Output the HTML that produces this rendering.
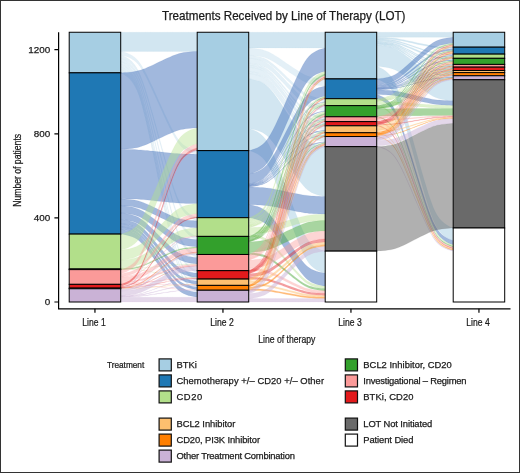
<!DOCTYPE html>
<html><head><meta charset="utf-8"><style>
html,body{margin:0;padding:0;background:#fff;}
svg{display:block;will-change:transform;}
text{font-family:"Liberation Sans",sans-serif;fill:#1a1a1a;stroke:#1a1a1a;stroke-width:0.25px;}
</style></head><body>
<svg width="520" height="473" viewBox="0 0 520 473">
<rect x="0" y="0" width="520" height="473" fill="#fff"/>
<path d="M120.7,32.2 120.8,32.2 121.3,32.2 122.6,32.2 124.6,32.2 127,32.2 129.6,32.2 132.1,32.2 134.5,32.2 136.7,32.2 138.8,32.2 140.9,32.2 143,32.2 145.3,32.2 147.7,32.2 150.3,32.2 153.1,32.2 156,32.2 158.9,32.2 161.9,32.2 164.8,32.2 167.6,32.2 170.2,32.2 172.6,32.2 174.9,32.2 177,32.2 179.1,32.2 181.2,32.2 183.4,32.2 185.8,32.2 188.3,32.2 190.9,32.2 193.3,32.2 195.3,32.2 196.6,32.2 197.1,32.2 197.2,32.2 197.2,51.4 197.1,51.4 196.6,51.4 195.3,51.4 193.3,51.4 190.9,51.4 188.3,51.4 185.8,51.4 183.4,51.4 181.2,51.4 179.1,51.4 177,51.4 174.9,51.4 172.6,51.4 170.2,51.4 167.6,51.4 164.8,51.4 161.9,51.4 158.9,51.4 156,51.4 153.1,51.4 150.3,51.4 147.7,51.4 145.3,51.4 143,51.4 140.9,51.4 138.8,51.4 136.7,51.4 134.5,51.4 132.1,51.4 129.6,51.4 127,51.4 124.6,51.4 122.6,51.4 121.3,51.4 120.8,51.4 120.7,51.4Z" fill="#a6cee3" fill-opacity="0.50" stroke="#a6cee3" stroke-opacity="0.25" stroke-width="0.40"/>
<path d="M120.7,51.4 120.8,51.4 121.3,51.5 122.6,51.8 124.6,52.3 127,53.1 129.6,54.2 132.1,55.6 134.5,57.2 136.7,59.2 138.8,61.6 140.9,64.4 143,67.9 145.3,72 147.7,76.8 150.3,82.2 153.1,88.1 156,94.4 158.9,101 161.9,107.6 164.8,113.9 167.6,119.8 170.2,125.2 172.6,130 174.9,134.1 177,137.6 179.1,140.4 181.2,142.8 183.4,144.8 185.8,146.4 188.3,147.8 190.9,148.9 193.3,149.7 195.3,150.2 196.6,150.5 197.1,150.6 197.2,150.6 197.2,154.2 197.1,154.2 196.6,154.1 195.3,153.8 193.3,153.2 190.9,152.4 188.3,151.3 185.8,150 183.4,148.4 181.2,146.4 179.1,144 177,141.1 174.9,137.7 172.6,133.6 170.2,128.8 167.6,123.4 164.8,117.5 161.9,111.1 158.9,104.6 156,98 153.1,91.7 150.3,85.7 147.7,80.3 145.3,75.6 143,71.5 140.9,68 138.8,65.1 136.7,62.8 134.5,60.8 132.1,59.2 129.6,57.8 127,56.7 124.6,55.9 122.6,55.4 121.3,55.1 120.8,55 120.7,55Z" fill="#a6cee3" fill-opacity="0.30" stroke="#a6cee3" stroke-opacity="0.15" stroke-width="0.40"/>
<path d="M120.7,55 120.8,55 121.3,55.2 122.6,55.6 124.6,56.5 127,57.8 129.6,59.6 132.1,61.8 134.5,64.5 136.7,67.8 138.8,71.6 140.9,76.4 143,82.1 145.3,88.8 147.7,96.6 150.3,105.4 153.1,115.1 156,125.6 158.9,136.3 161.9,147.1 164.8,157.5 167.6,167.2 170.2,176 172.6,183.8 174.9,190.6 177,196.3 179.1,201 181.2,204.9 183.4,208.1 185.8,210.8 188.3,213 190.9,214.8 193.3,216.1 195.3,217 196.6,217.5 197.1,217.7 197.2,217.7 197.2,220.8 197.1,220.8 196.6,220.6 195.3,220.2 193.3,219.3 190.9,218 188.3,216.2 185.8,214 183.4,211.3 181.2,208 179.1,204.2 177,199.4 174.9,193.7 172.6,187 170.2,179.2 167.6,170.4 164.8,160.7 161.9,150.2 158.9,139.5 156,128.7 153.1,118.3 150.3,108.6 147.7,99.8 145.3,92 143,85.2 140.9,79.5 138.8,74.8 136.7,70.9 134.5,67.7 132.1,65 129.6,62.8 127,61 124.6,59.7 122.6,58.8 121.3,58.3 120.8,58.1 120.7,58.1Z" fill="#a6cee3" fill-opacity="0.30" stroke="#a6cee3" stroke-opacity="0.15" stroke-width="0.40"/>
<path d="M120.7,58.1 120.8,58.1 121.3,58.3 122.6,58.8 124.6,59.8 127,61.3 129.6,63.2 132.1,65.7 134.5,68.6 136.7,72.1 138.8,76.4 140.9,81.6 143,87.8 145.3,95.2 147.7,103.7 150.3,113.4 153.1,124.1 156,135.5 158.9,147.3 161.9,159.1 164.8,170.5 167.6,181.1 170.2,190.8 172.6,199.3 174.9,206.7 177,212.9 179.1,218.1 181.2,222.4 183.4,225.9 185.8,228.9 188.3,231.3 190.9,233.2 193.3,234.7 195.3,235.7 196.6,236.2 197.1,236.4 197.2,236.4 197.2,239.6 197.1,239.5 196.6,239.3 195.3,238.8 193.3,237.9 190.9,236.4 188.3,234.4 185.8,232 183.4,229.1 181.2,225.5 179.1,221.3 177,216.1 174.9,209.8 172.6,202.5 170.2,193.9 167.6,184.3 164.8,173.6 161.9,162.2 158.9,150.4 156,138.6 153.1,127.2 150.3,116.5 147.7,106.9 145.3,98.4 143,91 140.9,84.7 138.8,79.5 136.7,75.3 134.5,71.8 132.1,68.8 129.6,66.4 127,64.4 124.6,63 122.6,62 121.3,61.5 120.8,61.3 120.7,61.3Z" fill="#a6cee3" fill-opacity="0.30" stroke="#a6cee3" stroke-opacity="0.15" stroke-width="0.40"/>
<path d="M120.7,61.3 120.8,61.3 121.3,61.5 122.6,62.1 124.6,63.1 127,64.7 129.6,66.8 132.1,69.4 134.5,72.6 136.7,76.5 138.8,81.1 140.9,86.7 143,93.5 145.3,101.5 147.7,110.7 150.3,121.2 153.1,132.7 156,145.1 158.9,157.9 161.9,170.7 164.8,183 167.6,194.6 170.2,205 172.6,214.3 174.9,222.3 177,229.1 179.1,234.7 181.2,239.3 183.4,243.1 185.8,246.3 188.3,248.9 190.9,251.1 193.3,252.6 195.3,253.7 196.6,254.2 197.1,254.5 197.2,254.5 197.2,257.6 197.1,257.6 196.6,257.4 195.3,256.8 193.3,255.8 190.9,254.2 188.3,252.1 185.8,249.5 183.4,246.3 181.2,242.4 179.1,237.8 177,232.2 174.9,225.4 172.6,217.4 170.2,208.2 167.6,197.7 164.8,186.2 161.9,173.8 158.9,161 156,148.2 153.1,135.9 150.3,124.3 147.7,113.9 145.3,104.6 143,96.6 140.9,89.8 138.8,84.2 136.7,79.6 134.5,75.8 132.1,72.6 129.6,70 127,67.9 124.6,66.3 122.6,65.2 121.3,64.7 120.8,64.4 120.7,64.4Z" fill="#a6cee3" fill-opacity="0.30" stroke="#a6cee3" stroke-opacity="0.15" stroke-width="0.40"/>
<path d="M120.7,64.4 120.8,64.4 121.3,64.7 122.6,65.3 124.6,66.4 127,68.1 129.6,70.3 132.1,73.2 134.5,76.6 136.7,80.6 138.8,85.6 140.9,91.6 143,98.8 145.3,107.3 147.7,117.2 150.3,128.4 153.1,140.7 156,153.9 158.9,167.5 161.9,181.2 164.8,194.4 167.6,206.7 170.2,217.9 172.6,227.8 174.9,236.3 177,243.5 179.1,249.5 181.2,254.5 183.4,258.5 185.8,261.9 188.3,264.7 190.9,267 193.3,268.7 195.3,269.8 196.6,270.4 197.1,270.6 197.2,270.7 197.2,273.2 197.1,273.2 196.6,272.9 195.3,272.3 193.3,271.2 190.9,269.5 188.3,267.3 185.8,264.5 183.4,261.1 181.2,257 179.1,252 177,246.1 174.9,238.8 172.6,230.3 170.2,220.4 167.6,209.2 164.8,196.9 161.9,183.7 158.9,170.1 156,156.4 153.1,143.2 150.3,130.9 147.7,119.7 145.3,109.8 143,101.3 140.9,94.1 138.8,88.1 136.7,83.2 134.5,79.1 132.1,75.7 129.6,72.9 127,70.6 124.6,68.9 122.6,67.8 121.3,67.2 120.8,67 120.7,66.9Z" fill="#a6cee3" fill-opacity="0.30" stroke="#a6cee3" stroke-opacity="0.15" stroke-width="0.40"/>
<path d="M120.7,66.9 120.8,67 121.3,67.2 122.6,67.8 124.6,69 127,70.7 129.6,73 132.1,75.9 134.5,79.4 136.7,83.6 138.8,88.7 140.9,94.9 143,102.3 145.3,111.1 147.7,121.2 150.3,132.7 153.1,145.4 156,159 158.9,173 161.9,187.1 164.8,200.6 167.6,213.3 170.2,224.8 172.6,235 174.9,243.7 177,251.2 179.1,257.3 181.2,262.4 183.4,266.6 185.8,270.1 188.3,273 190.9,275.3 193.3,277.1 195.3,278.2 196.6,278.8 197.1,279.1 197.2,279.1 197.2,281.2 197.1,281.2 196.6,280.9 195.3,280.3 193.3,279.2 190.9,277.4 188.3,275.1 185.8,272.2 183.4,268.7 181.2,264.5 179.1,259.4 177,253.3 174.9,245.8 172.6,237.1 170.2,226.9 167.6,215.4 164.8,202.7 161.9,189.2 158.9,175.1 156,161.1 153.1,147.5 150.3,134.8 147.7,123.3 145.3,113.2 143,104.4 140.9,97 138.8,90.8 136.7,85.7 134.5,81.5 132.1,78 129.6,75.1 127,72.8 124.6,71.1 122.6,69.9 121.3,69.3 120.8,69.1 120.7,69Z" fill="#a6cee3" fill-opacity="0.30" stroke="#a6cee3" stroke-opacity="0.15" stroke-width="0.40"/>
<path d="M120.7,69 120.8,69.1 121.3,69.3 122.6,69.9 124.6,71.1 127,72.9 129.6,75.3 132.1,78.2 134.5,81.8 136.7,86.1 138.8,91.2 140.9,97.5 143,105.1 145.3,114 147.7,124.4 150.3,136.1 153.1,149.1 156,162.9 158.9,177.2 161.9,191.5 164.8,205.4 167.6,218.3 170.2,230 172.6,240.4 174.9,249.3 177,256.9 179.1,263.2 181.2,268.4 183.4,272.7 185.8,276.2 188.3,279.2 190.9,281.5 193.3,283.3 195.3,284.5 196.6,285.1 197.1,285.4 197.2,285.4 197.2,287.1 197.1,287 196.6,286.8 195.3,286.2 193.3,285 190.9,283.2 188.3,280.9 185.8,277.9 183.4,274.3 181.2,270.1 179.1,264.9 177,258.6 174.9,251 172.6,242.1 170.2,231.7 167.6,220 164.8,207.1 161.9,193.2 158.9,178.9 156,164.6 153.1,150.7 150.3,137.8 147.7,126.1 145.3,115.7 143,106.8 140.9,99.2 138.8,92.9 136.7,87.7 134.5,83.5 132.1,79.9 129.6,76.9 127,74.6 124.6,72.8 122.6,71.6 121.3,71 120.8,70.8 120.7,70.7Z" fill="#a6cee3" fill-opacity="0.30" stroke="#a6cee3" stroke-opacity="0.15" stroke-width="0.40"/>
<path d="M120.7,70.7 120.8,70.8 121.3,71 122.6,71.6 124.6,72.8 127,74.6 129.6,77 132.1,80 134.5,83.6 136.7,88 138.8,93.2 140.9,99.6 143,107.3 145.3,116.4 147.7,126.9 150.3,138.8 153.1,151.9 156,165.9 158.9,180.5 161.9,195 164.8,209 167.6,222.2 170.2,234.1 172.6,244.6 174.9,253.6 177,261.3 179.1,267.7 181.2,273 183.4,277.3 185.8,280.9 188.3,283.9 190.9,286.3 193.3,288.1 195.3,289.3 196.6,290 197.1,290.2 197.2,290.2 197.2,292.3 197.1,292.3 196.6,292.1 195.3,291.4 193.3,290.2 190.9,288.4 188.3,286 185.8,283 183.4,279.4 181.2,275.1 179.1,269.8 177,263.4 174.9,255.7 172.6,246.7 170.2,236.2 167.6,224.3 164.8,211.1 161.9,197.1 158.9,182.6 156,168 153.1,154 150.3,140.9 147.7,129 145.3,118.5 143,109.4 140.9,101.7 138.8,95.3 136.7,90.1 134.5,85.7 132.1,82.1 129.6,79.1 127,76.7 124.6,74.9 122.6,73.7 121.3,73.1 120.8,72.9 120.7,72.8Z" fill="#a6cee3" fill-opacity="0.30" stroke="#a6cee3" stroke-opacity="0.15" stroke-width="0.40"/>
<path d="M120.7,72.8 120.8,72.8 121.3,72.8 122.6,72.7 124.6,72.6 127,72.4 129.6,72.2 132.1,71.9 134.5,71.6 136.7,71.1 138.8,70.6 140.9,70 143,69.3 145.3,68.4 147.7,67.3 150.3,66.2 153.1,64.9 156,63.5 158.9,62.1 161.9,60.7 164.8,59.3 167.6,58 170.2,56.9 172.6,55.8 174.9,55 177,54.2 179.1,53.6 181.2,53.1 183.4,52.6 185.8,52.3 188.3,52 190.9,51.8 193.3,51.6 195.3,51.5 196.6,51.4 197.1,51.4 197.2,51.4 197.2,127.9 197.1,127.9 196.6,127.9 195.3,128 193.3,128.1 190.9,128.3 188.3,128.5 185.8,128.8 183.4,129.2 181.2,129.6 179.1,130.1 177,130.7 174.9,131.5 172.6,132.4 170.2,133.4 167.6,134.6 164.8,135.8 161.9,137.2 158.9,138.6 156,140.1 153.1,141.4 150.3,142.7 147.7,143.9 145.3,144.9 143,145.8 140.9,146.5 138.8,147.2 136.7,147.7 134.5,148.1 132.1,148.5 129.6,148.7 127,149 124.6,149.2 122.6,149.3 121.3,149.3 120.8,149.4 120.7,149.4Z" fill="#4371bb" fill-opacity="0.50" stroke="#4371bb" stroke-opacity="0.25" stroke-width="0.40"/>
<path d="M120.7,149.4 120.8,149.4 121.3,149.4 122.6,149.4 124.6,149.4 127,149.4 129.6,149.5 132.1,149.6 134.5,149.6 136.7,149.7 138.8,149.9 140.9,150 143,150.2 145.3,150.4 147.7,150.6 150.3,150.9 153.1,151.1 156,151.5 158.9,151.8 161.9,152.1 164.8,152.4 167.6,152.7 170.2,153 172.6,153.2 174.9,153.4 177,153.6 179.1,153.7 181.2,153.8 183.4,153.9 185.8,154 188.3,154.1 190.9,154.1 193.3,154.1 195.3,154.2 196.6,154.2 197.1,154.2 197.2,154.2 197.2,203.6 197.1,203.6 196.6,203.6 195.3,203.6 193.3,203.6 190.9,203.5 188.3,203.5 185.8,203.4 183.4,203.3 181.2,203.2 179.1,203.1 177,203 174.9,202.8 172.6,202.6 170.2,202.4 167.6,202.1 164.8,201.8 161.9,201.5 158.9,201.2 156,200.9 153.1,200.6 150.3,200.3 147.7,200 145.3,199.8 143,199.6 140.9,199.4 138.8,199.3 136.7,199.1 134.5,199.1 132.1,199 129.6,198.9 127,198.9 124.6,198.8 122.6,198.8 121.3,198.8 120.8,198.8 120.7,198.8Z" fill="#4371bb" fill-opacity="0.50" stroke="#4371bb" stroke-opacity="0.25" stroke-width="0.40"/>
<path d="M120.7,198.8 120.8,198.8 121.3,198.8 122.6,198.9 124.6,199 127,199.2 129.6,199.4 132.1,199.7 134.5,200.1 136.7,200.5 138.8,201 140.9,201.7 143,202.4 145.3,203.4 147.7,204.4 150.3,205.6 153.1,206.9 156,208.3 158.9,209.8 161.9,211.3 164.8,212.7 167.6,214 170.2,215.2 172.6,216.3 174.9,217.2 177,217.9 179.1,218.6 181.2,219.1 183.4,219.5 185.8,219.9 188.3,220.2 190.9,220.5 193.3,220.6 195.3,220.8 196.6,220.8 197.1,220.8 197.2,220.8 197.2,227.8 197.1,227.8 196.6,227.8 195.3,227.7 193.3,227.6 190.9,227.4 188.3,227.1 185.8,226.8 183.4,226.5 181.2,226 179.1,225.5 177,224.9 174.9,224.1 172.6,223.2 170.2,222.1 167.6,220.9 164.8,219.6 161.9,218.2 158.9,216.7 156,215.3 153.1,213.9 150.3,212.6 147.7,211.4 145.3,210.3 143,209.4 140.9,208.6 138.8,208 136.7,207.4 134.5,207 132.1,206.6 129.6,206.3 127,206.1 124.6,205.9 122.6,205.8 121.3,205.7 120.8,205.7 120.7,205.7Z" fill="#4371bb" fill-opacity="0.50" stroke="#4371bb" stroke-opacity="0.25" stroke-width="0.40"/>
<path d="M120.7,205.7 120.8,205.7 121.3,205.7 122.6,205.8 124.6,206 127,206.3 129.6,206.7 132.1,207.1 134.5,207.7 136.7,208.4 138.8,209.2 140.9,210.2 143,211.3 145.3,212.7 147.7,214.4 150.3,216.2 153.1,218.2 156,220.4 158.9,222.6 161.9,224.9 164.8,227 167.6,229.1 170.2,230.9 172.6,232.5 174.9,233.9 177,235.1 179.1,236.1 181.2,236.9 183.4,237.6 185.8,238.1 188.3,238.6 190.9,239 193.3,239.2 195.3,239.4 196.6,239.5 197.1,239.6 197.2,239.6 197.2,246.9 197.1,246.9 196.6,246.9 195.3,246.8 193.3,246.6 190.9,246.3 188.3,245.9 185.8,245.5 183.4,244.9 181.2,244.3 179.1,243.4 177,242.5 174.9,241.3 172.6,239.9 170.2,238.3 167.6,236.4 164.8,234.4 161.9,232.2 158.9,230 156,227.7 153.1,225.6 150.3,223.6 147.7,221.7 145.3,220.1 143,218.7 140.9,217.5 138.8,216.5 136.7,215.7 134.5,215.1 132.1,214.5 129.6,214 127,213.7 124.6,213.4 122.6,213.2 121.3,213.1 120.8,213.1 120.7,213.1Z" fill="#4371bb" fill-opacity="0.50" stroke="#4371bb" stroke-opacity="0.25" stroke-width="0.40"/>
<path d="M120.7,213.1 120.8,213.1 121.3,213.1 122.6,213.2 124.6,213.5 127,213.9 129.6,214.3 132.1,215 134.5,215.7 136.7,216.6 138.8,217.6 140.9,218.9 143,220.5 145.3,222.3 147.7,224.5 150.3,226.9 153.1,229.5 156,232.4 158.9,235.4 161.9,238.3 164.8,241.2 167.6,243.8 170.2,246.2 172.6,248.4 174.9,250.2 177,251.8 179.1,253.1 181.2,254.1 183.4,255 185.8,255.7 188.3,256.4 190.9,256.8 193.3,257.2 195.3,257.5 196.6,257.6 197.1,257.6 197.2,257.6 197.2,263.9 197.1,263.9 196.6,263.9 195.3,263.8 193.3,263.5 190.9,263.2 188.3,262.7 185.8,262.1 183.4,261.3 181.2,260.4 179.1,259.4 177,258.1 174.9,256.5 172.6,254.7 170.2,252.5 167.6,250.1 164.8,247.5 161.9,244.6 158.9,241.7 156,238.7 153.1,235.9 150.3,233.2 147.7,230.8 145.3,228.6 143,226.8 140.9,225.2 138.8,223.9 136.7,222.9 134.5,222 132.1,221.3 129.6,220.7 127,220.2 124.6,219.8 122.6,219.6 121.3,219.4 120.8,219.4 120.7,219.4Z" fill="#4371bb" fill-opacity="0.50" stroke="#4371bb" stroke-opacity="0.25" stroke-width="0.40"/>
<path d="M120.7,219.4 120.8,219.4 121.3,219.4 122.6,219.6 124.6,219.9 127,220.3 129.6,220.9 132.1,221.7 134.5,222.5 136.7,223.6 138.8,224.9 140.9,226.5 143,228.3 145.3,230.6 147.7,233.1 150.3,236.1 153.1,239.3 156,242.7 158.9,246.3 161.9,249.8 164.8,253.3 167.6,256.5 170.2,259.4 172.6,262 174.9,264.2 177,266.1 179.1,267.7 181.2,269 183.4,270 185.8,270.9 188.3,271.7 190.9,272.2 193.3,272.7 195.3,273 196.6,273.1 197.1,273.2 197.2,273.2 197.2,277.4 197.1,277.4 196.6,277.3 195.3,277.2 193.3,276.9 190.9,276.4 188.3,275.9 185.8,275.1 183.4,274.2 181.2,273.2 179.1,271.9 177,270.3 174.9,268.4 172.6,266.2 170.2,263.6 167.6,260.7 164.8,257.5 161.9,254.1 158.9,250.5 156,246.9 153.1,243.5 150.3,240.3 147.7,237.3 145.3,234.8 143,232.5 140.9,230.7 138.8,229.1 136.7,227.8 134.5,226.7 132.1,225.9 129.6,225.1 127,224.5 124.6,224.1 122.6,223.8 121.3,223.6 120.8,223.6 120.7,223.6Z" fill="#4371bb" fill-opacity="0.50" stroke="#4371bb" stroke-opacity="0.25" stroke-width="0.40"/>
<path d="M120.7,223.6 120.8,223.6 121.3,223.6 122.6,223.8 124.6,224.1 127,224.6 129.6,225.2 132.1,226 134.5,227 136.7,228.1 138.8,229.5 140.9,231.2 143,233.2 145.3,235.6 147.7,238.3 150.3,241.4 153.1,244.9 156,248.6 158.9,252.4 161.9,256.2 164.8,259.9 167.6,263.3 170.2,266.4 172.6,269.2 174.9,271.6 177,273.6 179.1,275.3 181.2,276.7 183.4,277.8 185.8,278.7 188.3,279.5 190.9,280.2 193.3,280.6 195.3,280.9 196.6,281.1 197.1,281.2 197.2,281.2 197.2,284.3 197.1,284.3 196.6,284.3 195.3,284.1 193.3,283.8 190.9,283.3 188.3,282.7 185.8,281.9 183.4,281 181.2,279.8 179.1,278.4 177,276.8 174.9,274.7 172.6,272.4 170.2,269.6 167.6,266.5 164.8,263 161.9,259.3 158.9,255.5 156,251.7 153.1,248 150.3,244.6 147.7,241.5 145.3,238.7 143,236.3 140.9,234.3 138.8,232.6 136.7,231.3 134.5,230.1 132.1,229.2 129.6,228.4 127,227.8 124.6,227.3 122.6,227 121.3,226.8 120.8,226.7 120.7,226.7Z" fill="#4371bb" fill-opacity="0.50" stroke="#4371bb" stroke-opacity="0.25" stroke-width="0.40"/>
<path d="M120.7,226.7 120.8,226.7 121.3,226.8 122.6,227 124.6,227.3 127,227.8 129.6,228.5 132.1,229.3 134.5,230.3 136.7,231.5 138.8,232.9 140.9,234.7 143,236.8 145.3,239.3 147.7,242.2 150.3,245.4 153.1,249 156,252.9 158.9,256.9 161.9,260.9 164.8,264.8 167.6,268.4 170.2,271.6 172.6,274.5 174.9,277 177,279.1 179.1,280.9 181.2,282.3 183.4,283.5 185.8,284.5 188.3,285.3 190.9,286 193.3,286.5 195.3,286.8 196.6,287 197.1,287.1 197.2,287.1 197.2,289.6 197.1,289.6 196.6,289.5 195.3,289.3 193.3,289 190.9,288.5 188.3,287.9 185.8,287 183.4,286 181.2,284.9 179.1,283.4 177,281.7 174.9,279.5 172.6,277 170.2,274.2 167.6,270.9 164.8,267.3 161.9,263.4 158.9,259.4 156,255.4 153.1,251.6 150.3,248 147.7,244.7 145.3,241.8 143,239.3 140.9,237.2 138.8,235.4 136.7,234 134.5,232.8 132.1,231.8 129.6,231 127,230.3 124.6,229.8 122.6,229.5 121.3,229.3 120.8,229.3 120.7,229.3Z" fill="#4371bb" fill-opacity="0.50" stroke="#4371bb" stroke-opacity="0.25" stroke-width="0.40"/>
<path d="M120.7,229.3 120.8,229.3 121.3,229.3 122.6,229.5 124.6,229.9 127,230.4 129.6,231.1 132.1,231.9 134.5,233 136.7,234.2 138.8,235.7 140.9,237.6 143,239.8 145.3,242.4 147.7,245.4 150.3,248.8 153.1,252.6 156,256.6 158.9,260.8 161.9,265 164.8,269 167.6,272.8 170.2,276.2 172.6,279.2 174.9,281.8 177,284 179.1,285.9 181.2,287.4 183.4,288.6 185.8,289.7 188.3,290.5 190.9,291.2 193.3,291.7 195.3,292.1 196.6,292.3 197.1,292.3 197.2,292.3 197.2,297.2 197.1,297.2 196.6,297.1 195.3,296.9 193.3,296.6 190.9,296 188.3,295.4 185.8,294.5 183.4,293.5 181.2,292.2 179.1,290.7 177,288.9 174.9,286.7 172.6,284 170.2,281 167.6,277.6 164.8,273.8 161.9,269.8 158.9,265.6 156,261.5 153.1,257.4 150.3,253.6 147.7,250.2 145.3,247.2 143,244.6 140.9,242.4 138.8,240.6 136.7,239 134.5,237.8 132.1,236.8 129.6,235.9 127,235.2 124.6,234.7 122.6,234.3 121.3,234.2 120.8,234.1 120.7,234.1Z" fill="#4371bb" fill-opacity="0.50" stroke="#4371bb" stroke-opacity="0.25" stroke-width="0.40"/>
<path d="M120.7,234.1 120.8,234.1 121.3,234 122.6,233.7 124.6,233.1 127,232.2 129.6,231 132.1,229.6 134.5,227.8 136.7,225.7 138.8,223.2 140.9,220.1 143,216.4 145.3,212 147.7,206.9 150.3,201.2 153.1,194.8 156,188 158.9,181 161.9,174 164.8,167.2 167.6,160.8 170.2,155.1 172.6,150 174.9,145.6 177,141.9 179.1,138.8 181.2,136.3 183.4,134.2 185.8,132.4 188.3,131 190.9,129.8 193.3,128.9 195.3,128.4 196.6,128 197.1,127.9 197.2,127.9 197.2,143.9 197.1,143.9 196.6,144 195.3,144.3 193.3,144.9 190.9,145.8 188.3,146.9 185.8,148.4 183.4,150.1 181.2,152.2 179.1,154.8 177,157.9 174.9,161.6 172.6,166 170.2,171.1 167.6,176.8 164.8,183.2 161.9,190 158.9,197 156,204 153.1,210.8 150.3,217.1 147.7,222.9 145.3,228 143,232.4 140.9,236.1 138.8,239.2 136.7,241.7 134.5,243.8 132.1,245.6 129.6,247 127,248.2 124.6,249.1 122.6,249.6 121.3,249.9 120.8,250.1 120.7,250.1Z" fill="#b2df8a" fill-opacity="0.42" stroke="#b2df8a" stroke-opacity="0.21" stroke-width="0.40"/>
<path d="M120.7,250.1 120.8,250.1 121.3,250 122.6,249.9 124.6,249.6 127,249.2 129.6,248.7 132.1,248.1 134.5,247.3 136.7,246.4 138.8,245.3 140.9,244 143,242.3 145.3,240.4 147.7,238.2 150.3,235.7 153.1,232.9 156,229.9 158.9,226.8 161.9,223.8 164.8,220.8 167.6,218 170.2,215.5 172.6,213.3 174.9,211.3 177,209.7 179.1,208.4 181.2,207.3 183.4,206.3 185.8,205.6 188.3,204.9 190.9,204.4 193.3,204 195.3,203.8 196.6,203.7 197.1,203.6 197.2,203.6 197.2,213.7 197.1,213.7 196.6,213.8 195.3,213.9 193.3,214.1 190.9,214.5 188.3,215 185.8,215.7 183.4,216.4 181.2,217.3 179.1,218.5 177,219.8 174.9,221.4 172.6,223.4 170.2,225.6 167.6,228.1 164.8,230.9 161.9,233.9 158.9,236.9 156,240 153.1,243 150.3,245.8 147.7,248.3 145.3,250.5 143,252.4 140.9,254 138.8,255.4 136.7,256.5 134.5,257.4 132.1,258.2 129.6,258.8 127,259.3 124.6,259.7 122.6,260 121.3,260.1 120.8,260.2 120.7,260.2Z" fill="#b2df8a" fill-opacity="0.42" stroke="#b2df8a" stroke-opacity="0.21" stroke-width="0.40"/>
<path d="M120.7,260.2 120.8,260.2 121.3,260.1 122.6,260 124.6,259.9 127,259.6 129.6,259.2 132.1,258.8 134.5,258.3 136.7,257.6 138.8,256.8 140.9,255.9 143,254.8 145.3,253.4 147.7,251.9 150.3,250.1 153.1,248.2 156,246.1 158.9,244 161.9,241.8 164.8,239.8 167.6,237.8 170.2,236.1 172.6,234.5 174.9,233.2 177,232 179.1,231.1 181.2,230.3 183.4,229.7 185.8,229.2 188.3,228.7 190.9,228.4 193.3,228.1 195.3,227.9 196.6,227.8 197.1,227.8 197.2,227.8 197.2,235.8 197.1,235.8 196.6,235.8 195.3,235.9 193.3,236.1 190.9,236.3 188.3,236.7 185.8,237.1 183.4,237.7 181.2,238.3 179.1,239.1 177,240 174.9,241.2 172.6,242.5 170.2,244.1 167.6,245.8 164.8,247.7 161.9,249.8 158.9,252 156,254.1 153.1,256.2 150.3,258.1 147.7,259.9 145.3,261.4 143,262.8 140.9,263.9 138.8,264.8 136.7,265.6 134.5,266.2 132.1,266.8 129.6,267.2 127,267.6 124.6,267.8 122.6,268 121.3,268.1 120.8,268.1 120.7,268.1Z" fill="#b2df8a" fill-opacity="0.42" stroke="#b2df8a" stroke-opacity="0.21" stroke-width="0.40"/>
<path d="M120.7,268.1 120.8,268.1 121.3,268.1 122.6,268.1 124.6,267.9 127,267.8 129.6,267.5 132.1,267.3 134.5,266.9 136.7,266.5 138.8,266 140.9,265.4 143,264.6 145.3,263.7 147.7,262.7 150.3,261.6 153.1,260.3 156,258.9 158.9,257.5 161.9,256.1 164.8,254.8 167.6,253.5 170.2,252.3 172.6,251.3 174.9,250.5 177,249.7 179.1,249.1 181.2,248.6 183.4,248.2 185.8,247.8 188.3,247.5 190.9,247.3 193.3,247.1 195.3,247 196.6,246.9 197.1,246.9 197.2,246.9 197.2,247.3 197.1,247.3 196.6,247.4 195.3,247.4 193.3,247.5 190.9,247.7 188.3,247.9 185.8,248.2 183.4,248.6 181.2,249 179.1,249.5 177,250.1 174.9,250.9 172.6,251.8 170.2,252.8 167.6,253.9 164.8,255.2 161.9,256.5 158.9,258 156,259.4 153.1,260.7 150.3,262 147.7,263.1 145.3,264.2 143,265 140.9,265.8 138.8,266.4 136.7,266.9 134.5,267.3 132.1,267.7 129.6,268 127,268.2 124.6,268.4 122.6,268.5 121.3,268.5 120.8,268.6 120.7,268.6Z" fill="#b2df8a" fill-opacity="0.42" stroke="#b2df8a" stroke-opacity="0.21" stroke-width="0.40"/>
<path d="M120.7,268.6 120.8,268.6 121.3,268.6 122.6,268.6 124.6,268.5 127,268.5 129.6,268.4 132.1,268.4 134.5,268.3 136.7,268.2 138.8,268.1 140.9,268 143,267.8 145.3,267.6 147.7,267.4 150.3,267.1 153.1,266.9 156,266.6 158.9,266.3 161.9,266 164.8,265.7 167.6,265.4 170.2,265.1 172.6,264.9 174.9,264.7 177,264.6 179.1,264.4 181.2,264.3 183.4,264.2 185.8,264.1 188.3,264.1 190.9,264 193.3,264 195.3,264 196.6,264 197.1,263.9 197.2,263.9 197.2,264.2 197.1,264.2 196.6,264.2 195.3,264.2 193.3,264.2 190.9,264.2 188.3,264.3 185.8,264.4 183.4,264.4 181.2,264.5 179.1,264.6 177,264.8 174.9,264.9 172.6,265.1 170.2,265.3 167.6,265.6 164.8,265.9 161.9,266.2 158.9,266.5 156,266.8 153.1,267.1 150.3,267.3 147.7,267.6 145.3,267.8 143,268 140.9,268.2 138.8,268.3 136.7,268.4 134.5,268.5 132.1,268.6 129.6,268.6 127,268.7 124.6,268.7 122.6,268.8 121.3,268.8 120.8,268.8 120.7,268.8Z" fill="#b2df8a" fill-opacity="0.42" stroke="#b2df8a" stroke-opacity="0.21" stroke-width="0.40"/>
<path d="M120.7,268.8 120.8,268.8 121.3,268.8 122.6,268.8 124.6,268.9 127,268.9 129.6,269 132.1,269.1 134.5,269.3 136.7,269.5 138.8,269.7 140.9,269.9 143,270.2 145.3,270.6 147.7,271 150.3,271.5 153.1,272 156,272.5 158.9,273.1 161.9,273.7 164.8,274.2 167.6,274.7 170.2,275.2 172.6,275.6 174.9,276 177,276.3 179.1,276.5 181.2,276.7 183.4,276.9 185.8,277 188.3,277.2 190.9,277.2 193.3,277.3 195.3,277.4 196.6,277.4 197.1,277.4 197.2,277.4 197.2,277.6 197.1,277.6 196.6,277.6 195.3,277.6 193.3,277.5 190.9,277.5 188.3,277.4 185.8,277.2 183.4,277.1 181.2,276.9 179.1,276.7 177,276.5 174.9,276.2 172.6,275.8 170.2,275.4 167.6,274.9 164.8,274.4 161.9,273.9 158.9,273.3 156,272.7 153.1,272.2 150.3,271.7 147.7,271.2 145.3,270.8 143,270.4 140.9,270.1 138.8,269.9 136.7,269.7 134.5,269.5 132.1,269.4 129.6,269.2 127,269.1 124.6,269.1 122.6,269 121.3,269 120.8,269 120.7,269Z" fill="#b2df8a" fill-opacity="0.42" stroke="#b2df8a" stroke-opacity="0.21" stroke-width="0.40"/>
<path d="M120.7,269 120.8,269 121.3,269 122.6,268.9 124.6,268.8 127,268.6 129.6,268.4 132.1,268.1 134.5,267.7 136.7,267.3 138.8,266.8 140.9,266.1 143,265.4 145.3,264.5 147.7,263.4 150.3,262.3 153.1,261 156,259.6 158.9,258.2 161.9,256.7 164.8,255.3 167.6,254.1 170.2,252.9 172.6,251.8 174.9,250.9 177,250.2 179.1,249.6 181.2,249 183.4,248.6 185.8,248.3 188.3,248 190.9,247.7 193.3,247.5 195.3,247.4 196.6,247.4 197.1,247.3 197.2,247.3 197.2,248 197.1,248 196.6,248 195.3,248.1 193.3,248.2 190.9,248.4 188.3,248.6 185.8,248.9 183.4,249.2 181.2,249.7 179.1,250.2 177,250.8 174.9,251.6 172.6,252.5 170.2,253.5 167.6,254.7 164.8,256 161.9,257.4 158.9,258.8 156,260.2 153.1,261.6 150.3,262.9 147.7,264.1 145.3,265.1 143,266 140.9,266.8 138.8,267.4 136.7,267.9 134.5,268.3 132.1,268.7 129.6,269 127,269.2 124.6,269.4 122.6,269.5 121.3,269.6 120.8,269.6 120.7,269.6Z" fill="#51ab41" fill-opacity="0.50" stroke="#51ab41" stroke-opacity="0.25" stroke-width="0.40"/>
<path d="M120.7,269.6 120.8,269.6 121.3,269.5 122.6,269.1 124.6,268.4 127,267.4 129.6,266 132.1,264.3 134.5,262.2 136.7,259.7 138.8,256.7 140.9,253.1 143,248.7 145.3,243.5 147.7,237.4 150.3,230.6 153.1,223.1 156,215.1 158.9,206.8 161.9,198.4 164.8,190.4 167.6,182.9 170.2,176.1 172.6,170 174.9,164.8 177,160.4 179.1,156.8 181.2,153.8 183.4,151.3 185.8,149.2 188.3,147.5 190.9,146.1 193.3,145.1 195.3,144.4 196.6,144 197.1,143.9 197.2,143.9 197.2,147.9 197.1,147.9 196.6,148 195.3,148.4 193.3,149.1 190.9,150.1 188.3,151.5 185.8,153.2 183.4,155.3 181.2,157.8 179.1,160.8 177,164.4 174.9,168.8 172.6,174 170.2,180.1 167.6,186.9 164.8,194.4 161.9,202.4 158.9,210.8 156,219.1 153.1,227.1 150.3,234.6 147.7,241.4 145.3,247.5 143,252.7 140.9,257.1 138.8,260.7 136.7,263.7 134.5,266.2 132.1,268.3 129.6,270 127,271.4 124.6,272.4 122.6,273.1 121.3,273.5 120.8,273.6 120.7,273.6Z" fill="#fb9a99" fill-opacity="0.42" stroke="#fb9a99" stroke-opacity="0.21" stroke-width="0.40"/>
<path d="M120.7,273.6 120.8,273.6 121.3,273.5 122.6,273.4 124.6,273 127,272.6 129.6,271.9 132.1,271.1 134.5,270.1 136.7,268.9 138.8,267.5 140.9,265.7 143,263.6 145.3,261.2 147.7,258.3 150.3,255 153.1,251.5 156,247.6 158.9,243.7 161.9,239.7 164.8,235.9 167.6,232.3 170.2,229 172.6,226.2 174.9,223.7 177,221.6 179.1,219.8 181.2,218.4 183.4,217.2 185.8,216.2 188.3,215.4 190.9,214.8 193.3,214.3 195.3,213.9 196.6,213.8 197.1,213.7 197.2,213.7 197.2,216.8 197.1,216.9 196.6,216.9 195.3,217.1 193.3,217.4 190.9,217.9 188.3,218.6 185.8,219.4 183.4,220.4 181.2,221.6 179.1,223 177,224.7 174.9,226.8 172.6,229.3 170.2,232.2 167.6,235.4 164.8,239 161.9,242.8 158.9,246.8 156,250.8 153.1,254.6 150.3,258.2 147.7,261.4 145.3,264.3 143,266.8 140.9,268.9 138.8,270.6 136.7,272.1 134.5,273.2 132.1,274.2 129.6,275 127,275.7 124.6,276.2 122.6,276.5 121.3,276.7 120.8,276.8 120.7,276.8Z" fill="#fb9a99" fill-opacity="0.42" stroke="#fb9a99" stroke-opacity="0.21" stroke-width="0.40"/>
<path d="M120.7,276.8 120.8,276.8 121.3,276.7 122.6,276.6 124.6,276.4 127,276 129.6,275.6 132.1,275 134.5,274.4 136.7,273.5 138.8,272.6 140.9,271.4 143,269.9 145.3,268.2 147.7,266.3 150.3,264.1 153.1,261.6 156,259 158.9,256.3 161.9,253.6 164.8,250.9 167.6,248.5 170.2,246.3 172.6,244.3 174.9,242.6 177,241.2 179.1,240 181.2,239 183.4,238.2 185.8,237.5 188.3,236.9 190.9,236.5 193.3,236.2 195.3,235.9 196.6,235.8 197.1,235.8 197.2,235.8 197.2,236.2 197.1,236.2 196.6,236.2 195.3,236.4 193.3,236.6 190.9,236.9 188.3,237.4 185.8,237.9 183.4,238.6 181.2,239.4 179.1,240.4 177,241.6 174.9,243 172.6,244.7 170.2,246.7 167.6,248.9 164.8,251.4 161.9,254 158.9,256.7 156,259.4 153.1,262 150.3,264.5 147.7,266.7 145.3,268.7 143,270.4 140.9,271.8 138.8,273 136.7,274 134.5,274.8 132.1,275.5 129.6,276 127,276.5 124.6,276.8 122.6,277 121.3,277.1 120.8,277.2 120.7,277.2Z" fill="#fb9a99" fill-opacity="0.42" stroke="#fb9a99" stroke-opacity="0.21" stroke-width="0.40"/>
<path d="M120.7,277.2 120.8,277.2 121.3,277.2 122.6,277.1 124.6,276.9 127,276.7 129.6,276.4 132.1,276 134.5,275.5 136.7,274.9 138.8,274.2 140.9,273.3 143,272.3 145.3,271.1 147.7,269.7 150.3,268.1 153.1,266.4 156,264.5 158.9,262.6 161.9,260.6 164.8,258.8 167.6,257 170.2,255.4 172.6,254 174.9,252.8 177,251.8 179.1,251 181.2,250.3 183.4,249.7 185.8,249.2 188.3,248.8 190.9,248.5 193.3,248.2 195.3,248.1 196.6,248 197.1,248 197.2,248 197.2,252.2 197.1,252.2 196.6,252.2 195.3,252.3 193.3,252.5 190.9,252.7 188.3,253 185.8,253.4 183.4,253.9 181.2,254.5 179.1,255.2 177,256 174.9,257 172.6,258.3 170.2,259.6 167.6,261.2 164.8,263 161.9,264.8 158.9,266.8 156,268.7 153.1,270.6 150.3,272.3 147.7,273.9 145.3,275.3 143,276.5 140.9,277.5 138.8,278.4 136.7,279.1 134.5,279.7 132.1,280.2 129.6,280.6 127,280.9 124.6,281.1 122.6,281.3 121.3,281.4 120.8,281.4 120.7,281.4Z" fill="#fb9a99" fill-opacity="0.42" stroke="#fb9a99" stroke-opacity="0.21" stroke-width="0.40"/>
<path d="M120.7,281.4 120.8,281.4 121.3,281.4 122.6,281.3 124.6,281.2 127,281.1 129.6,280.9 132.1,280.7 134.5,280.4 136.7,280 138.8,279.6 140.9,279.1 143,278.5 145.3,277.8 147.7,277 150.3,276 153.1,275 156,273.9 158.9,272.8 161.9,271.6 164.8,270.5 167.6,269.5 170.2,268.6 172.6,267.7 174.9,267 177,266.4 179.1,265.9 181.2,265.5 183.4,265.2 185.8,264.9 188.3,264.7 190.9,264.5 193.3,264.3 195.3,264.2 196.6,264.2 197.1,264.2 197.2,264.2 197.2,265.8 197.1,265.8 196.6,265.9 195.3,265.9 193.3,266 190.9,266.1 188.3,266.3 185.8,266.6 183.4,266.9 181.2,267.2 179.1,267.6 177,268.1 174.9,268.7 172.6,269.4 170.2,270.2 167.6,271.2 164.8,272.2 161.9,273.3 158.9,274.5 156,275.6 153.1,276.7 150.3,277.7 147.7,278.7 145.3,279.5 143,280.2 140.9,280.8 138.8,281.3 136.7,281.7 134.5,282.1 132.1,282.3 129.6,282.6 127,282.8 124.6,282.9 122.6,283 121.3,283.1 120.8,283.1 120.7,283.1Z" fill="#fb9a99" fill-opacity="0.42" stroke="#fb9a99" stroke-opacity="0.21" stroke-width="0.40"/>
<path d="M120.7,283.1 120.8,283.1 121.3,283.1 122.6,283.1 124.6,283 127,283 129.6,282.9 132.1,282.8 134.5,282.8 136.7,282.6 138.8,282.5 140.9,282.4 143,282.2 145.3,281.9 147.7,281.7 150.3,281.4 153.1,281.1 156,280.7 158.9,280.3 161.9,280 164.8,279.6 167.6,279.3 170.2,279 172.6,278.7 174.9,278.5 177,278.3 179.1,278.2 181.2,278 183.4,277.9 185.8,277.8 188.3,277.8 190.9,277.7 193.3,277.7 195.3,277.6 196.6,277.6 197.1,277.6 197.2,277.6 197.2,278.5 197.1,278.5 196.6,278.5 195.3,278.5 193.3,278.5 190.9,278.5 188.3,278.6 185.8,278.7 183.4,278.8 181.2,278.9 179.1,279 177,279.2 174.9,279.4 172.6,279.6 170.2,279.9 167.6,280.1 164.8,280.5 161.9,280.8 158.9,281.2 156,281.5 153.1,281.9 150.3,282.2 147.7,282.5 145.3,282.8 143,283 140.9,283.2 138.8,283.4 136.7,283.5 134.5,283.6 132.1,283.7 129.6,283.8 127,283.8 124.6,283.9 122.6,283.9 121.3,283.9 120.8,283.9 120.7,283.9Z" fill="#fb9a99" fill-opacity="0.42" stroke="#fb9a99" stroke-opacity="0.21" stroke-width="0.40"/>
<path d="M120.7,283.9 120.8,283.9 121.3,283.9 122.6,283.9 124.6,283.9 127,283.9 129.6,283.9 132.1,283.9 134.5,283.9 136.7,284 138.8,284 140.9,284 143,284 145.3,284 147.7,284 150.3,284 153.1,284.1 156,284.1 158.9,284.1 161.9,284.2 164.8,284.2 167.6,284.2 170.2,284.2 172.6,284.3 174.9,284.3 177,284.3 179.1,284.3 181.2,284.3 183.4,284.3 185.8,284.3 188.3,284.3 190.9,284.3 193.3,284.3 195.3,284.3 196.6,284.3 197.1,284.3 197.2,284.3 197.2,284.5 197.1,284.5 196.6,284.5 195.3,284.5 193.3,284.5 190.9,284.5 188.3,284.5 185.8,284.5 183.4,284.5 181.2,284.5 179.1,284.5 177,284.5 174.9,284.5 172.6,284.5 170.2,284.4 167.6,284.4 164.8,284.4 161.9,284.4 158.9,284.3 156,284.3 153.1,284.3 150.3,284.3 147.7,284.2 145.3,284.2 143,284.2 140.9,284.2 138.8,284.2 136.7,284.2 134.5,284.2 132.1,284.1 129.6,284.1 127,284.1 124.6,284.1 122.6,284.1 121.3,284.1 120.8,284.1 120.7,284.1Z" fill="#fb9a99" fill-opacity="0.42" stroke="#fb9a99" stroke-opacity="0.21" stroke-width="0.40"/>
<path d="M120.7,284.1 120.8,284.1 121.3,284.1 122.6,284.2 124.6,284.2 127,284.2 129.6,284.3 132.1,284.4 134.5,284.5 136.7,284.6 138.8,284.7 140.9,284.8 143,285 145.3,285.3 147.7,285.5 150.3,285.8 153.1,286.2 156,286.5 158.9,286.9 161.9,287.2 164.8,287.6 167.6,287.9 170.2,288.2 172.6,288.5 174.9,288.7 177,288.9 179.1,289 181.2,289.2 183.4,289.3 185.8,289.4 188.3,289.4 190.9,289.5 193.3,289.5 195.3,289.6 196.6,289.6 197.1,289.6 197.2,289.6 197.2,289.8 197.1,289.8 196.6,289.8 195.3,289.8 193.3,289.8 190.9,289.7 188.3,289.6 185.8,289.6 183.4,289.5 181.2,289.4 179.1,289.2 177,289.1 174.9,288.9 172.6,288.7 170.2,288.4 167.6,288.1 164.8,287.8 161.9,287.4 158.9,287.1 156,286.7 153.1,286.4 150.3,286 147.7,285.7 145.3,285.5 143,285.3 140.9,285.1 138.8,284.9 136.7,284.8 134.5,284.7 132.1,284.6 129.6,284.5 127,284.4 124.6,284.4 122.6,284.4 121.3,284.3 120.8,284.3 120.7,284.3Z" fill="#fb9a99" fill-opacity="0.42" stroke="#fb9a99" stroke-opacity="0.21" stroke-width="0.40"/>
<path d="M120.7,284.3 120.8,284.3 121.3,284.2 122.6,283.8 124.6,283 127,281.9 129.6,280.4 132.1,278.6 134.5,276.3 136.7,273.6 138.8,270.3 140.9,266.4 143,261.6 145.3,256 147.7,249.4 150.3,242 153.1,233.9 156,225.1 158.9,216.1 161.9,207.1 164.8,198.4 167.6,190.2 170.2,182.8 172.6,176.3 174.9,170.6 177,165.8 179.1,161.9 181.2,158.6 183.4,155.9 185.8,153.7 188.3,151.8 190.9,150.3 193.3,149.2 195.3,148.5 196.6,148.1 197.1,147.9 197.2,147.9 197.2,150 197.1,150 196.6,150.2 195.3,150.6 193.3,151.3 190.9,152.4 188.3,153.9 185.8,155.8 183.4,158 181.2,160.7 179.1,164 177,167.9 174.9,172.7 172.6,178.4 170.2,184.9 167.6,192.3 164.8,200.5 161.9,209.2 158.9,218.2 156,227.2 153.1,236 150.3,244.1 147.7,251.5 145.3,258.1 143,263.7 140.9,268.5 138.8,272.4 136.7,275.7 134.5,278.4 132.1,280.7 129.6,282.5 127,284 124.6,285.1 122.6,285.9 121.3,286.3 120.8,286.4 120.7,286.4Z" fill="#e31a1c" fill-opacity="0.42" stroke="#e31a1c" stroke-opacity="0.21" stroke-width="0.40"/>
<path d="M120.7,286.4 120.8,286.4 121.3,286.4 122.6,286.2 124.6,285.8 127,285.2 129.6,284.4 132.1,283.5 134.5,282.3 136.7,281 138.8,279.3 140.9,277.3 143,274.8 145.3,272 147.7,268.6 150.3,264.9 153.1,260.7 156,256.3 158.9,251.6 161.9,247 164.8,242.6 167.6,238.4 170.2,234.7 172.6,231.3 174.9,228.4 177,226 179.1,224 181.2,222.3 183.4,220.9 185.8,219.8 188.3,218.8 190.9,218.1 193.3,217.5 195.3,217.1 196.6,216.9 197.1,216.9 197.2,216.8 197.2,217.7 197.1,217.7 196.6,217.8 195.3,218 193.3,218.4 190.9,218.9 188.3,219.7 185.8,220.6 183.4,221.8 181.2,223.2 179.1,224.8 177,226.8 174.9,229.3 172.6,232.2 170.2,235.5 167.6,239.3 164.8,243.4 161.9,247.9 158.9,252.5 156,257.1 153.1,261.5 150.3,265.7 147.7,269.5 145.3,272.8 143,275.7 140.9,278.1 138.8,280.1 136.7,281.8 134.5,283.2 132.1,284.3 129.6,285.3 127,286 124.6,286.6 122.6,287 121.3,287.2 120.8,287.3 120.7,287.3Z" fill="#e31a1c" fill-opacity="0.42" stroke="#e31a1c" stroke-opacity="0.21" stroke-width="0.40"/>
<path d="M120.7,287.3 120.8,287.3 121.3,287.2 122.6,287.1 124.6,286.9 127,286.7 129.6,286.3 132.1,285.8 134.5,285.2 136.7,284.5 138.8,283.7 140.9,282.7 143,281.4 145.3,280 147.7,278.3 150.3,276.4 153.1,274.3 156,272.1 158.9,269.7 161.9,267.4 164.8,265.2 167.6,263.1 170.2,261.2 172.6,259.5 174.9,258 177,256.8 179.1,255.8 181.2,254.9 183.4,254.2 185.8,253.7 188.3,253.2 190.9,252.8 193.3,252.5 195.3,252.3 196.6,252.2 197.1,252.2 197.2,252.2 197.2,252.6 197.1,252.6 196.6,252.6 195.3,252.7 193.3,252.9 190.9,253.2 188.3,253.6 185.8,254.1 183.4,254.7 181.2,255.4 179.1,256.2 177,257.2 174.9,258.4 172.6,259.9 170.2,261.6 167.6,263.5 164.8,265.6 161.9,267.8 158.9,270.1 156,272.5 153.1,274.7 150.3,276.8 147.7,278.7 145.3,280.4 143,281.9 140.9,283.1 138.8,284.1 136.7,284.9 134.5,285.6 132.1,286.2 129.6,286.7 127,287.1 124.6,287.4 122.6,287.6 121.3,287.7 120.8,287.7 120.7,287.7Z" fill="#e31a1c" fill-opacity="0.42" stroke="#e31a1c" stroke-opacity="0.21" stroke-width="0.40"/>
<path d="M120.7,287.7 120.8,287.7 121.3,287.7 122.6,287.6 124.6,287.5 127,287.3 129.6,287.1 132.1,286.8 134.5,286.4 136.7,286 138.8,285.5 140.9,284.8 143,284.1 145.3,283.2 147.7,282.1 150.3,280.9 153.1,279.6 156,278.2 158.9,276.8 161.9,275.3 164.8,273.9 167.6,272.6 170.2,271.4 172.6,270.4 174.9,269.5 177,268.7 179.1,268.1 181.2,267.6 183.4,267.1 185.8,266.8 188.3,266.5 190.9,266.2 193.3,266 195.3,265.9 196.6,265.9 197.1,265.8 197.2,265.8 197.2,266 197.1,266.1 196.6,266.1 195.3,266.1 193.3,266.3 190.9,266.4 188.3,266.7 185.8,267 183.4,267.3 181.2,267.8 179.1,268.3 177,268.9 174.9,269.7 172.6,270.6 170.2,271.6 167.6,272.8 164.8,274.1 161.9,275.5 158.9,277 156,278.4 153.1,279.8 150.3,281.1 147.7,282.3 145.3,283.4 143,284.3 140.9,285 138.8,285.7 136.7,286.2 134.5,286.6 132.1,287 129.6,287.3 127,287.5 124.6,287.7 122.6,287.8 121.3,287.9 120.8,287.9 120.7,287.9Z" fill="#e31a1c" fill-opacity="0.42" stroke="#e31a1c" stroke-opacity="0.21" stroke-width="0.40"/>
<path d="M120.7,287.9 120.8,287.9 121.3,287.9 122.6,287.9 124.6,287.8 127,287.7 129.6,287.6 132.1,287.5 134.5,287.4 136.7,287.2 138.8,286.9 140.9,286.7 143,286.3 145.3,285.9 147.7,285.5 150.3,285 153.1,284.4 156,283.8 158.9,283.2 161.9,282.6 164.8,282 167.6,281.4 170.2,280.9 172.6,280.4 174.9,280 177,279.7 179.1,279.4 181.2,279.2 183.4,279 185.8,278.9 188.3,278.7 190.9,278.6 193.3,278.5 195.3,278.5 196.6,278.5 197.1,278.5 197.2,278.5 197.2,278.7 197.1,278.7 196.6,278.7 195.3,278.7 193.3,278.8 190.9,278.8 188.3,278.9 185.8,279.1 183.4,279.2 181.2,279.4 179.1,279.6 177,279.9 174.9,280.2 172.6,280.6 170.2,281.1 167.6,281.6 164.8,282.2 161.9,282.8 158.9,283.4 156,284 153.1,284.6 150.3,285.2 147.7,285.7 145.3,286.2 143,286.5 140.9,286.9 138.8,287.2 136.7,287.4 134.5,287.6 132.1,287.7 129.6,287.9 127,288 124.6,288 122.6,288.1 121.3,288.1 120.8,288.1 120.7,288.1Z" fill="#e31a1c" fill-opacity="0.42" stroke="#e31a1c" stroke-opacity="0.21" stroke-width="0.40"/>
<path d="M120.7,288.1 120.8,288.1 121.3,288.1 122.6,288 124.6,287.8 127,287.5 129.6,287.1 132.1,286.6 134.5,286 136.7,285.3 138.8,284.5 140.9,283.4 143,282.2 145.3,280.7 147.7,279 150.3,277.1 153.1,275 156,272.7 158.9,270.4 161.9,268 164.8,265.7 167.6,263.6 170.2,261.7 172.6,260 174.9,258.5 177,257.3 179.1,256.2 181.2,255.4 183.4,254.7 185.8,254.1 188.3,253.6 190.9,253.2 193.3,252.9 195.3,252.7 196.6,252.6 197.1,252.6 197.2,252.6 197.2,253 197.1,253 196.6,253.1 195.3,253.2 193.3,253.4 190.9,253.6 188.3,254 185.8,254.5 183.4,255.1 181.2,255.8 179.1,256.7 177,257.7 174.9,258.9 172.6,260.4 170.2,262.1 167.6,264 164.8,266.2 161.9,268.4 158.9,270.8 156,273.1 153.1,275.4 150.3,277.5 147.7,279.5 145.3,281.2 143,282.6 140.9,283.9 138.8,284.9 136.7,285.8 134.5,286.5 132.1,287 129.6,287.5 127,287.9 124.6,288.2 122.6,288.4 121.3,288.5 120.8,288.5 120.7,288.5Z" fill="#fdbf6f" fill-opacity="0.50" stroke="#fdbf6f" stroke-opacity="0.25" stroke-width="0.40"/>
<path d="M120.7,288.5 120.8,288.5 121.3,288.5 122.6,288.5 124.6,288.5 127,288.5 129.6,288.4 132.1,288.4 134.5,288.3 136.7,288.2 138.8,288.1 140.9,288 143,287.9 145.3,287.7 147.7,287.5 150.3,287.3 153.1,287.1 156,286.8 158.9,286.5 161.9,286.3 164.8,286 167.6,285.8 170.2,285.6 172.6,285.4 174.9,285.2 177,285.1 179.1,285 181.2,284.9 183.4,284.8 185.8,284.7 188.3,284.7 190.9,284.6 193.3,284.6 195.3,284.6 196.6,284.6 197.1,284.5 197.2,284.5 197.2,284.8 197.1,284.8 196.6,284.8 195.3,284.8 193.3,284.8 190.9,284.8 188.3,284.9 185.8,284.9 183.4,285 181.2,285.1 179.1,285.2 177,285.3 174.9,285.4 172.6,285.6 170.2,285.8 167.6,286 164.8,286.2 161.9,286.5 158.9,286.8 156,287 153.1,287.3 150.3,287.5 147.7,287.7 145.3,287.9 143,288.1 140.9,288.2 138.8,288.3 136.7,288.4 134.5,288.5 132.1,288.6 129.6,288.6 127,288.7 124.6,288.7 122.6,288.7 121.3,288.7 120.8,288.8 120.7,288.8Z" fill="#fdbf6f" fill-opacity="0.50" stroke="#fdbf6f" stroke-opacity="0.25" stroke-width="0.40"/>
<path d="M120.7,288.8 120.8,288.7 121.3,288.6 122.6,288.2 124.6,287.4 127,286.3 129.6,284.8 132.1,282.9 134.5,280.6 136.7,277.8 138.8,274.5 140.9,270.5 143,265.6 145.3,259.9 147.7,253.2 150.3,245.7 153.1,237.4 156,228.6 158.9,219.4 161.9,210.2 164.8,201.3 167.6,193 170.2,185.5 172.6,178.9 174.9,173.1 177,168.3 179.1,164.2 181.2,160.9 183.4,158.2 185.8,155.9 188.3,154 190.9,152.5 193.3,151.3 195.3,150.6 196.6,150.2 197.1,150 197.2,150 197.2,150.6 197.1,150.6 196.6,150.8 195.3,151.2 193.3,151.9 190.9,153.1 188.3,154.6 185.8,156.5 183.4,158.8 181.2,161.5 179.1,164.9 177,168.9 174.9,173.7 172.6,179.5 170.2,186.1 167.6,193.6 164.8,201.9 161.9,210.8 158.9,220 156,229.2 153.1,238.1 150.3,246.4 147.7,253.9 145.3,260.5 143,266.3 140.9,271.1 138.8,275.2 136.7,278.5 134.5,281.2 132.1,283.5 129.6,285.4 127,286.9 124.6,288.1 122.6,288.8 121.3,289.2 120.8,289.4 120.7,289.4Z" fill="#cab2d6" fill-opacity="0.50" stroke="#cab2d6" stroke-opacity="0.25" stroke-width="0.40"/>
<path d="M120.7,289.4 120.8,289.4 121.3,289.3 122.6,289.2 124.6,288.9 127,288.4 129.6,287.9 132.1,287.1 134.5,286.3 136.7,285.2 138.8,283.9 140.9,282.4 143,280.5 145.3,278.3 147.7,275.8 150.3,272.9 153.1,269.7 156,266.3 158.9,262.8 161.9,259.3 164.8,255.9 167.6,252.7 170.2,249.8 172.6,247.3 174.9,245.1 177,243.2 179.1,241.6 181.2,240.4 183.4,239.3 185.8,238.4 188.3,237.7 190.9,237.1 193.3,236.7 195.3,236.4 196.6,236.3 197.1,236.2 197.2,236.2 197.2,236.4 197.1,236.4 196.6,236.5 195.3,236.6 193.3,236.9 190.9,237.3 188.3,237.9 185.8,238.7 183.4,239.5 181.2,240.6 179.1,241.9 177,243.4 174.9,245.3 172.6,247.5 170.2,250 167.6,252.9 164.8,256.1 161.9,259.5 158.9,263 156,266.5 153.1,269.9 150.3,273.1 147.7,276 145.3,278.5 143,280.7 140.9,282.6 138.8,284.1 136.7,285.4 134.5,286.5 132.1,287.3 129.6,288.1 127,288.7 124.6,289.1 122.6,289.4 121.3,289.5 120.8,289.6 120.7,289.6Z" fill="#cab2d6" fill-opacity="0.50" stroke="#cab2d6" stroke-opacity="0.25" stroke-width="0.40"/>
<path d="M120.7,289.6 120.8,289.6 121.3,289.6 122.6,289.4 124.6,289.2 127,288.9 129.6,288.5 132.1,288 134.5,287.4 136.7,286.7 138.8,285.8 140.9,284.8 143,283.5 145.3,282 147.7,280.2 150.3,278.3 153.1,276.1 156,273.7 158.9,271.3 161.9,268.9 164.8,266.5 167.6,264.4 170.2,262.4 172.6,260.6 174.9,259.1 177,257.8 179.1,256.8 181.2,255.9 183.4,255.2 185.8,254.6 188.3,254.1 190.9,253.7 193.3,253.4 195.3,253.2 196.6,253.1 197.1,253 197.2,253 197.2,254.5 197.1,254.5 196.6,254.5 195.3,254.6 193.3,254.8 190.9,255.1 188.3,255.5 185.8,256 183.4,256.6 181.2,257.4 179.1,258.2 177,259.3 174.9,260.6 172.6,262.1 170.2,263.8 167.6,265.8 164.8,268 161.9,270.4 158.9,272.8 156,275.2 153.1,277.5 150.3,279.7 147.7,281.7 145.3,283.5 143,285 140.9,286.3 138.8,287.3 136.7,288.2 134.5,288.9 132.1,289.5 129.6,290 127,290.4 124.6,290.7 122.6,290.9 121.3,291 120.8,291.1 120.7,291.1Z" fill="#cab2d6" fill-opacity="0.50" stroke="#cab2d6" stroke-opacity="0.25" stroke-width="0.40"/>
<path d="M120.7,291.1 120.8,291.1 121.3,291 122.6,291 124.6,290.8 127,290.6 129.6,290.3 132.1,290 134.5,289.6 136.7,289.1 138.8,288.5 140.9,287.8 143,286.9 145.3,285.9 147.7,284.7 150.3,283.3 153.1,281.8 156,280.2 158.9,278.6 161.9,276.9 164.8,275.3 167.6,273.8 170.2,272.4 172.6,271.3 174.9,270.2 177,269.3 179.1,268.6 181.2,268 183.4,267.5 185.8,267.1 188.3,266.8 190.9,266.5 193.3,266.3 195.3,266.2 196.6,266.1 197.1,266.1 197.2,266 197.2,270.7 197.1,270.7 196.6,270.7 195.3,270.8 193.3,270.9 190.9,271.1 188.3,271.4 185.8,271.7 183.4,272.1 181.2,272.6 179.1,273.2 177,274 174.9,274.8 172.6,275.9 170.2,277.1 167.6,278.4 164.8,279.9 161.9,281.5 158.9,283.2 156,284.8 153.1,286.4 150.3,287.9 147.7,289.3 145.3,290.5 143,291.5 140.9,292.4 138.8,293.1 136.7,293.7 134.5,294.2 132.1,294.6 129.6,295 127,295.2 124.6,295.5 122.6,295.6 121.3,295.7 120.8,295.7 120.7,295.7Z" fill="#cab2d6" fill-opacity="0.50" stroke="#cab2d6" stroke-opacity="0.25" stroke-width="0.40"/>
<path d="M120.7,295.7 120.8,295.7 121.3,295.7 122.6,295.6 124.6,295.5 127,295.4 129.6,295.2 132.1,295 134.5,294.7 136.7,294.4 138.8,293.9 140.9,293.5 143,292.9 145.3,292.1 147.7,291.3 150.3,290.4 153.1,289.4 156,288.3 158.9,287.2 161.9,286.1 164.8,285 167.6,283.9 170.2,283 172.6,282.2 174.9,281.5 177,280.9 179.1,280.4 181.2,280 183.4,279.7 185.8,279.4 188.3,279.2 190.9,279 193.3,278.8 195.3,278.7 196.6,278.7 197.1,278.7 197.2,278.7 197.2,279.1 197.1,279.1 196.6,279.1 195.3,279.2 193.3,279.2 190.9,279.4 188.3,279.6 185.8,279.8 183.4,280.1 181.2,280.4 179.1,280.8 177,281.3 174.9,281.9 172.6,282.6 170.2,283.4 167.6,284.4 164.8,285.4 161.9,286.5 158.9,287.6 156,288.7 153.1,289.8 150.3,290.8 147.7,291.8 145.3,292.6 143,293.3 140.9,293.9 138.8,294.4 136.7,294.8 134.5,295.1 132.1,295.4 129.6,295.6 127,295.8 124.6,296 122.6,296 121.3,296.1 120.8,296.1 120.7,296.1Z" fill="#cab2d6" fill-opacity="0.50" stroke="#cab2d6" stroke-opacity="0.25" stroke-width="0.40"/>
<path d="M120.7,296.1 120.8,296.1 121.3,296.1 122.6,296.1 124.6,296 127,295.9 129.6,295.8 132.1,295.6 134.5,295.4 136.7,295.2 138.8,294.9 140.9,294.6 143,294.2 145.3,293.8 147.7,293.2 150.3,292.6 153.1,291.9 156,291.2 158.9,290.4 161.9,289.7 164.8,289 167.6,288.3 170.2,287.7 172.6,287.1 174.9,286.7 177,286.3 179.1,285.9 181.2,285.7 183.4,285.4 185.8,285.2 188.3,285.1 190.9,285 193.3,284.9 195.3,284.8 196.6,284.8 197.1,284.8 197.2,284.8 197.2,285.4 197.1,285.4 196.6,285.4 195.3,285.4 193.3,285.5 190.9,285.6 188.3,285.7 185.8,285.9 183.4,286.1 181.2,286.3 179.1,286.6 177,286.9 174.9,287.3 172.6,287.8 170.2,288.3 167.6,288.9 164.8,289.6 161.9,290.3 158.9,291.1 156,291.8 153.1,292.5 150.3,293.2 147.7,293.8 145.3,294.4 143,294.9 140.9,295.2 138.8,295.6 136.7,295.9 134.5,296.1 132.1,296.3 129.6,296.4 127,296.5 124.6,296.6 122.6,296.7 121.3,296.7 120.8,296.7 120.7,296.7Z" fill="#cab2d6" fill-opacity="0.50" stroke="#cab2d6" stroke-opacity="0.25" stroke-width="0.40"/>
<path d="M120.7,296.7 120.8,296.7 121.3,296.7 122.6,296.7 124.6,296.7 127,296.6 129.6,296.5 132.1,296.4 134.5,296.3 136.7,296.2 138.8,296 140.9,295.8 143,295.6 145.3,295.3 147.7,295 150.3,294.6 153.1,294.2 156,293.7 158.9,293.3 161.9,292.8 164.8,292.4 167.6,292 170.2,291.6 172.6,291.2 174.9,291 177,290.7 179.1,290.5 181.2,290.4 183.4,290.2 185.8,290.1 188.3,290 190.9,289.9 193.3,289.9 195.3,289.8 196.6,289.8 197.1,289.8 197.2,289.8 197.2,290.2 197.1,290.2 196.6,290.2 195.3,290.3 193.3,290.3 190.9,290.3 188.3,290.4 185.8,290.5 183.4,290.6 181.2,290.8 179.1,290.9 177,291.1 174.9,291.4 172.6,291.7 170.2,292 167.6,292.4 164.8,292.8 161.9,293.2 158.9,293.7 156,294.2 153.1,294.6 150.3,295 147.7,295.4 145.3,295.7 143,296 140.9,296.3 138.8,296.5 136.7,296.6 134.5,296.8 132.1,296.9 129.6,297 127,297 124.6,297.1 122.6,297.1 121.3,297.2 120.8,297.2 120.7,297.2Z" fill="#cab2d6" fill-opacity="0.50" stroke="#cab2d6" stroke-opacity="0.25" stroke-width="0.40"/>
<path d="M120.7,297.2 120.8,297.2 121.3,297.2 122.6,297.2 124.6,297.2 127,297.2 129.6,297.2 132.1,297.2 134.5,297.2 136.7,297.2 138.8,297.2 140.9,297.2 143,297.2 145.3,297.2 147.7,297.2 150.3,297.2 153.1,297.2 156,297.2 158.9,297.2 161.9,297.2 164.8,297.2 167.6,297.2 170.2,297.2 172.6,297.2 174.9,297.2 177,297.2 179.1,297.2 181.2,297.2 183.4,297.2 185.8,297.2 188.3,297.2 190.9,297.2 193.3,297.2 195.3,297.2 196.6,297.2 197.1,297.2 197.2,297.2 197.2,302 197.1,302 196.6,302 195.3,302 193.3,302 190.9,302 188.3,302 185.8,302 183.4,302 181.2,302 179.1,302 177,302 174.9,302 172.6,302 170.2,302 167.6,302 164.8,302 161.9,302 158.9,302 156,302 153.1,302 150.3,302 147.7,302 145.3,302 143,302 140.9,302 138.8,302 136.7,302 134.5,302 132.1,302 129.6,302 127,302 124.6,302 122.6,302 121.3,302 120.8,302 120.7,302Z" fill="#cab2d6" fill-opacity="0.50" stroke="#cab2d6" stroke-opacity="0.25" stroke-width="0.40"/>
<path d="M248.7,32.2 248.8,32.2 249.3,32.2 250.6,32.2 252.6,32.2 255,32.2 257.6,32.2 260.1,32.2 262.5,32.2 264.7,32.2 266.8,32.2 268.9,32.2 271,32.2 273.3,32.2 275.7,32.2 278.3,32.2 281.1,32.2 284,32.2 286.9,32.2 289.9,32.2 292.8,32.2 295.6,32.2 298.2,32.2 300.6,32.2 302.9,32.2 305,32.2 307.1,32.2 309.2,32.2 311.4,32.2 313.8,32.2 316.3,32.2 318.9,32.2 321.3,32.2 323.3,32.2 324.6,32.2 325.1,32.2 325.2,32.2 325.2,48 325.1,48 324.6,48 323.3,48 321.3,48 318.9,48 316.3,48 313.8,48 311.4,48 309.2,48 307.1,48 305,48 302.9,48 300.6,48 298.2,48 295.6,48 292.8,48 289.9,48 286.9,48 284,48 281.1,48 278.3,48 275.7,48 273.3,48 271,48 268.9,48 266.8,48 264.7,48 262.5,48 260.1,48 257.6,48 255,48 252.6,48 250.6,48 249.3,48 248.8,48 248.7,48Z" fill="#a6cee3" fill-opacity="0.50" stroke="#a6cee3" stroke-opacity="0.25" stroke-width="0.40"/>
<path d="M248.7,48 248.8,48 249.3,48.1 250.6,48.1 252.6,48.3 255,48.6 257.6,48.9 260.1,49.3 262.5,49.8 264.7,50.4 266.8,51.2 268.9,52.1 271,53.2 273.3,54.4 275.7,55.9 278.3,57.6 281.1,59.4 284,61.4 286.9,63.5 289.9,65.5 292.8,67.5 295.6,69.3 298.2,71 300.6,72.5 302.9,73.8 305,74.9 307.1,75.8 309.2,76.5 311.4,77.1 313.8,77.6 316.3,78 318.9,78.4 321.3,78.6 323.3,78.8 324.6,78.9 325.1,78.9 325.2,78.9 325.2,86.1 325.1,86.1 324.6,86 323.3,85.9 321.3,85.8 318.9,85.5 316.3,85.2 313.8,84.8 311.4,84.3 309.2,83.6 307.1,82.9 305,82 302.9,80.9 300.6,79.6 298.2,78.2 295.6,76.5 292.8,74.6 289.9,72.7 286.9,70.6 284,68.6 281.1,66.6 278.3,64.8 275.7,63.1 273.3,61.6 271,60.3 268.9,59.2 266.8,58.3 264.7,57.6 262.5,57 260.1,56.5 257.6,56.1 255,55.7 252.6,55.5 250.6,55.3 249.3,55.2 248.8,55.2 248.7,55.2Z" fill="#a6cee3" fill-opacity="0.30" stroke="#a6cee3" stroke-opacity="0.15" stroke-width="0.40"/>
<path d="M248.7,55.2 248.8,55.2 249.3,55.2 250.6,55.3 252.6,55.6 255,55.9 257.6,56.4 260.1,57 262.5,57.7 264.7,58.6 266.8,59.6 268.9,60.9 271,62.4 273.3,64.2 275.7,66.3 278.3,68.7 281.1,71.3 284,74 286.9,76.9 289.9,79.8 292.8,82.6 295.6,85.2 298.2,87.6 300.6,89.6 302.9,91.4 305,93 307.1,94.2 309.2,95.3 311.4,96.1 313.8,96.8 316.3,97.4 318.9,97.9 321.3,98.3 323.3,98.5 324.6,98.6 325.1,98.7 325.2,98.7 325.2,101.6 325.1,101.6 324.6,101.6 323.3,101.5 321.3,101.2 318.9,100.9 316.3,100.4 313.8,99.8 311.4,99.1 309.2,98.2 307.1,97.2 305,95.9 302.9,94.4 300.6,92.6 298.2,90.5 295.6,88.1 292.8,85.5 289.9,82.8 286.9,79.9 284,77 281.1,74.2 278.3,71.6 275.7,69.2 273.3,67.2 271,65.4 268.9,63.8 266.8,62.6 264.7,61.5 262.5,60.7 260.1,60 257.6,59.4 255,58.9 252.6,58.5 250.6,58.3 249.3,58.2 248.8,58.1 248.7,58.1Z" fill="#a6cee3" fill-opacity="0.30" stroke="#a6cee3" stroke-opacity="0.15" stroke-width="0.40"/>
<path d="M248.7,58.1 248.8,58.1 249.3,58.2 250.6,58.3 252.6,58.6 255,59 257.6,59.5 260.1,60.1 262.5,60.9 264.7,61.8 266.8,63 268.9,64.4 271,66 273.3,68 275.7,70.3 278.3,72.8 281.1,75.7 284,78.7 286.9,81.9 289.9,85 292.8,88.1 295.6,90.9 298.2,93.5 300.6,95.7 302.9,97.7 305,99.4 307.1,100.8 309.2,101.9 311.4,102.8 313.8,103.6 316.3,104.3 318.9,104.8 321.3,105.2 323.3,105.4 324.6,105.6 325.1,105.6 325.2,105.6 325.2,110.7 325.1,110.7 324.6,110.6 323.3,110.5 321.3,110.2 318.9,109.8 316.3,109.3 313.8,108.7 311.4,107.9 309.2,106.9 307.1,105.8 305,104.4 302.9,102.8 300.6,100.8 298.2,98.5 295.6,95.9 292.8,93.1 289.9,90.1 286.9,86.9 284,83.8 281.1,80.7 278.3,77.9 275.7,75.3 273.3,73 271,71.1 268.9,69.4 266.8,68 264.7,66.9 262.5,66 260.1,65.2 257.6,64.5 255,64 252.6,63.6 250.6,63.4 249.3,63.2 248.8,63.2 248.7,63.2Z" fill="#a6cee3" fill-opacity="0.30" stroke="#a6cee3" stroke-opacity="0.15" stroke-width="0.40"/>
<path d="M248.7,63.2 248.8,63.2 249.3,63.2 250.6,63.4 252.6,63.7 255,64.1 257.6,64.7 260.1,65.4 262.5,66.3 264.7,67.4 266.8,68.7 268.9,70.2 271,72.1 273.3,74.3 275.7,76.9 278.3,79.8 281.1,83 284,86.4 286.9,90 289.9,93.5 292.8,96.9 295.6,100.1 298.2,103.1 300.6,105.6 302.9,107.8 305,109.7 307.1,111.3 309.2,112.6 311.4,113.6 313.8,114.5 316.3,115.2 318.9,115.8 321.3,116.3 323.3,116.5 324.6,116.7 325.1,116.8 325.2,116.8 325.2,118.9 325.1,118.9 324.6,118.8 323.3,118.7 321.3,118.4 318.9,117.9 316.3,117.3 313.8,116.6 311.4,115.7 309.2,114.7 307.1,113.4 305,111.8 302.9,109.9 300.6,107.7 298.2,105.2 295.6,102.2 292.8,99 289.9,95.6 286.9,92.1 284,88.5 281.1,85.1 278.3,81.9 275.7,79 273.3,76.4 271,74.2 268.9,72.3 266.8,70.8 264.7,69.5 262.5,68.4 260.1,67.5 257.6,66.8 255,66.2 252.6,65.8 250.6,65.5 249.3,65.3 248.8,65.3 248.7,65.3Z" fill="#a6cee3" fill-opacity="0.30" stroke="#a6cee3" stroke-opacity="0.15" stroke-width="0.40"/>
<path d="M248.7,65.3 248.8,65.3 249.3,65.3 250.6,65.5 252.6,65.8 255,66.3 257.6,66.9 260.1,67.6 262.5,68.6 264.7,69.7 266.8,71 268.9,72.7 271,74.6 273.3,77 275.7,79.7 278.3,82.7 281.1,86.1 284,89.7 286.9,93.4 289.9,97.2 292.8,100.8 295.6,104.1 298.2,107.2 300.6,109.9 302.9,112.2 305,114.2 307.1,115.8 309.2,117.2 311.4,118.3 313.8,119.2 316.3,120 318.9,120.6 321.3,121.1 323.3,121.4 324.6,121.5 325.1,121.6 325.2,121.6 325.2,123.5 325.1,123.5 324.6,123.4 323.3,123.3 321.3,123 318.9,122.5 316.3,121.9 313.8,121.1 311.4,120.2 309.2,119.1 307.1,117.7 305,116.1 302.9,114.1 300.6,111.8 298.2,109.1 295.6,106 292.8,102.7 289.9,99.1 286.9,95.3 284,91.6 281.1,88 278.3,84.6 275.7,81.6 273.3,78.9 271,76.5 268.9,74.6 266.8,72.9 264.7,71.6 262.5,70.5 260.1,69.5 257.6,68.8 255,68.2 252.6,67.7 250.6,67.4 249.3,67.2 248.8,67.2 248.7,67.2Z" fill="#a6cee3" fill-opacity="0.30" stroke="#a6cee3" stroke-opacity="0.15" stroke-width="0.40"/>
<path d="M248.7,67.2 248.8,67.2 249.3,67.2 250.6,67.4 252.6,67.7 255,68.2 257.6,68.8 260.1,69.6 262.5,70.6 264.7,71.8 266.8,73.2 268.9,74.9 271,76.9 273.3,79.4 275.7,82.2 278.3,85.3 281.1,88.8 284,92.6 286.9,96.5 289.9,100.4 292.8,104.1 295.6,107.6 298.2,110.8 300.6,113.6 302.9,116 305,118.1 307.1,119.8 309.2,121.2 311.4,122.4 313.8,123.3 316.3,124.1 318.9,124.8 321.3,125.2 323.3,125.6 324.6,125.7 325.1,125.8 325.2,125.8 325.2,130 325.1,130 324.6,129.9 323.3,129.8 321.3,129.5 318.9,129 316.3,128.3 313.8,127.5 311.4,126.6 309.2,125.4 307.1,124 305,122.3 302.9,120.2 300.6,117.8 298.2,115 295.6,111.8 292.8,108.3 289.9,104.6 286.9,100.7 284,96.8 281.1,93.1 278.3,89.5 275.7,86.4 273.3,83.6 271,81.1 268.9,79.1 266.8,77.4 264.7,76 262.5,74.8 260.1,73.8 257.6,73 255,72.4 252.6,71.9 250.6,71.6 249.3,71.4 248.8,71.4 248.7,71.4Z" fill="#a6cee3" fill-opacity="0.30" stroke="#a6cee3" stroke-opacity="0.15" stroke-width="0.40"/>
<path d="M248.7,71.4 248.8,71.4 249.3,71.4 250.6,71.6 252.6,71.9 255,72.4 257.6,73.1 260.1,74 262.5,75 264.7,76.2 266.8,77.7 268.9,79.4 271,81.6 273.3,84.1 275.7,87.1 278.3,90.4 281.1,94.1 284,98 286.9,102.1 289.9,106.1 292.8,110 295.6,113.7 298.2,117 300.6,120 302.9,122.5 305,124.7 307.1,126.5 309.2,127.9 311.4,129.1 313.8,130.1 316.3,131 318.9,131.7 321.3,132.2 323.3,132.5 324.6,132.7 325.1,132.7 325.2,132.7 325.2,134.9 325.1,134.8 324.6,134.8 323.3,134.6 321.3,134.3 318.9,133.8 316.3,133.1 313.8,132.3 311.4,131.2 309.2,130 307.1,128.6 305,126.8 302.9,124.6 300.6,122.1 298.2,119.1 295.6,115.8 292.8,112.1 289.9,108.2 286.9,104.2 284,100.1 281.1,96.2 278.3,92.5 275.7,89.2 273.3,86.2 271,83.7 268.9,81.5 266.8,79.8 264.7,78.3 262.5,77.1 260.1,76.1 257.6,75.2 255,74.5 252.6,74 250.6,73.7 249.3,73.5 248.8,73.5 248.7,73.5Z" fill="#a6cee3" fill-opacity="0.30" stroke="#a6cee3" stroke-opacity="0.15" stroke-width="0.40"/>
<path d="M248.7,73.5 248.8,73.5 249.3,73.5 250.6,73.7 252.6,74.1 255,74.6 257.6,75.3 260.1,76.1 262.5,77.2 264.7,78.4 266.8,79.9 268.9,81.8 271,84 273.3,86.6 275.7,89.6 278.3,93 281.1,96.8 284,100.8 286.9,105 289.9,109.2 292.8,113.2 295.6,117 298.2,120.4 300.6,123.4 302.9,126 305,128.2 307.1,130.1 309.2,131.6 311.4,132.8 313.8,133.9 316.3,134.7 318.9,135.4 321.3,135.9 323.3,136.3 324.6,136.5 325.1,136.5 325.2,136.5 325.2,141.8 325.1,141.8 324.6,141.7 323.3,141.5 321.3,141.2 318.9,140.7 316.3,140 313.8,139.1 311.4,138.1 309.2,136.8 307.1,135.3 305,133.5 302.9,131.3 300.6,128.7 298.2,125.6 295.6,122.2 292.8,118.5 289.9,114.4 286.9,110.3 284,106.1 281.1,102 278.3,98.3 275.7,94.9 273.3,91.8 271,89.2 268.9,87 266.8,85.2 264.7,83.7 262.5,82.4 260.1,81.4 257.6,80.5 255,79.8 252.6,79.3 250.6,79 249.3,78.8 248.8,78.7 248.7,78.7Z" fill="#a6cee3" fill-opacity="0.30" stroke="#a6cee3" stroke-opacity="0.15" stroke-width="0.40"/>
<path d="M248.7,78.7 248.8,78.7 249.3,78.8 250.6,79 252.6,79.4 255,79.9 257.6,80.7 260.1,81.6 262.5,82.7 264.7,84.1 266.8,85.7 268.9,87.7 271,90 273.3,92.8 275.7,96.1 278.3,99.8 281.1,103.8 284,108.2 286.9,112.7 289.9,117.2 292.8,121.5 295.6,125.6 298.2,129.2 300.6,132.5 302.9,135.3 305,137.7 307.1,139.7 309.2,141.3 311.4,142.6 313.8,143.7 316.3,144.7 318.9,145.4 321.3,146 323.3,146.3 324.6,146.5 325.1,146.6 325.2,146.6 325.2,196.5 325.1,196.4 324.6,196.4 323.3,196.2 321.3,195.8 318.9,195.2 316.3,194.5 313.8,193.6 311.4,192.5 309.2,191.1 307.1,189.5 305,187.5 302.9,185.1 300.6,182.3 298.2,179.1 295.6,175.4 292.8,171.3 289.9,167 286.9,162.5 284,158 281.1,153.7 278.3,149.6 275.7,145.9 273.3,142.7 271,139.9 268.9,137.5 266.8,135.5 264.7,133.9 262.5,132.5 260.1,131.4 257.6,130.5 255,129.8 252.6,129.2 250.6,128.8 249.3,128.6 248.8,128.6 248.7,128.5Z" fill="#a6cee3" fill-opacity="0.50" stroke="#a6cee3" stroke-opacity="0.25" stroke-width="0.40"/>
<path d="M248.7,128.5 248.8,128.6 249.3,128.7 250.6,129 252.6,129.7 255,130.7 257.6,132.1 260.1,133.7 262.5,135.8 264.7,138.2 266.8,141.1 268.9,144.7 271,149 273.3,154 275.7,159.9 278.3,166.6 281.1,173.9 284,181.7 286.9,189.8 289.9,197.9 292.8,205.8 295.6,213.1 298.2,219.8 300.6,225.6 302.9,230.7 305,235 307.1,238.5 309.2,241.5 311.4,243.9 313.8,245.9 316.3,247.6 318.9,248.9 321.3,249.9 323.3,250.6 324.6,251 325.1,251.1 325.2,251.1 325.2,273.2 325.1,273.2 324.6,273 323.3,272.7 321.3,272 318.9,271 316.3,269.7 313.8,268 311.4,266 309.2,263.6 307.1,260.6 305,257.1 302.9,252.8 300.6,247.7 298.2,241.8 295.6,235.2 292.8,227.9 289.9,220 286.9,211.9 284,203.8 281.1,196 278.3,188.6 275.7,182 273.3,176.1 271,171 268.9,166.8 266.8,163.2 264.7,160.3 262.5,157.8 260.1,155.8 257.6,154.1 255,152.8 252.6,151.8 250.6,151.1 249.3,150.8 248.8,150.6 248.7,150.6Z" fill="#a6cee3" fill-opacity="0.50" stroke="#a6cee3" stroke-opacity="0.25" stroke-width="0.40"/>
<path d="M248.7,150.6 248.8,150.6 249.3,150.5 250.6,150.2 252.6,149.6 255,148.8 257.6,147.7 260.1,146.3 262.5,144.6 264.7,142.6 266.8,140.1 268.9,137.1 271,133.5 273.3,129.3 275.7,124.4 278.3,118.8 281.1,112.7 284,106.1 286.9,99.3 289.9,92.5 292.8,86 295.6,79.8 298.2,74.3 300.6,69.4 302.9,65.1 305,61.5 307.1,58.5 309.2,56.1 311.4,54.1 313.8,52.4 316.3,51 318.9,49.8 321.3,49 323.3,48.4 324.6,48.1 325.1,48 325.2,48 325.2,71.4 325.1,71.4 324.6,71.5 323.3,71.8 321.3,72.3 318.9,73.2 316.3,74.3 313.8,75.7 311.4,77.4 309.2,79.4 307.1,81.9 305,84.9 302.9,88.5 300.6,92.7 298.2,97.6 295.6,103.2 292.8,109.3 289.9,115.9 286.9,122.7 284,129.4 281.1,136 278.3,142.1 275.7,147.7 273.3,152.6 271,156.9 268.9,160.5 266.8,163.4 264.7,165.9 262.5,167.9 260.1,169.6 257.6,171 255,172.1 252.6,173 250.6,173.5 249.3,173.8 248.8,173.9 248.7,174Z" fill="#4371bb" fill-opacity="0.50" stroke="#4371bb" stroke-opacity="0.25" stroke-width="0.40"/>
<path d="M248.7,174 248.8,173.9 249.3,173.9 250.6,173.6 252.6,173.1 255,172.4 257.6,171.4 260.1,170.2 262.5,168.8 264.7,167 266.8,164.9 268.9,162.4 271,159.3 273.3,155.7 275.7,151.5 278.3,146.7 281.1,141.5 284,135.8 286.9,130 289.9,124.2 292.8,118.6 295.6,113.3 298.2,108.6 300.6,104.4 302.9,100.7 305,97.6 307.1,95.1 309.2,93 311.4,91.2 313.8,89.8 316.3,88.6 318.9,87.6 321.3,86.9 323.3,86.4 324.6,86.2 325.1,86.1 325.2,86.1 325.2,96.2 325.1,96.2 324.6,96.3 323.3,96.5 321.3,97 318.9,97.7 316.3,98.7 313.8,99.9 311.4,101.3 309.2,103.1 307.1,105.2 305,107.7 302.9,110.8 300.6,114.4 298.2,118.7 295.6,123.4 292.8,128.7 289.9,134.3 286.9,140.1 284,145.9 281.1,151.5 278.3,156.8 275.7,161.6 273.3,165.8 271,169.4 268.9,172.5 266.8,175 264.7,177.1 262.5,178.9 260.1,180.3 257.6,181.5 255,182.5 252.6,183.2 250.6,183.7 249.3,183.9 248.8,184 248.7,184Z" fill="#4371bb" fill-opacity="0.50" stroke="#4371bb" stroke-opacity="0.25" stroke-width="0.40"/>
<path d="M248.7,184 248.8,184 249.3,183.9 250.6,183.7 252.6,183.3 255,182.6 257.6,181.7 260.1,180.6 262.5,179.2 264.7,177.6 266.8,175.6 268.9,173.2 271,170.3 273.3,166.9 275.7,163 278.3,158.5 281.1,153.6 284,148.3 286.9,142.8 289.9,137.4 292.8,132.1 295.6,127.2 298.2,122.7 300.6,118.8 302.9,115.4 305,112.5 307.1,110.1 309.2,108.1 311.4,106.5 313.8,105.1 316.3,104 318.9,103.1 321.3,102.4 323.3,102 324.6,101.7 325.1,101.6 325.2,101.6 325.2,102.1 325.1,102.1 324.6,102.2 323.3,102.4 321.3,102.8 318.9,103.5 316.3,104.4 313.8,105.5 311.4,106.9 309.2,108.5 307.1,110.5 305,112.9 302.9,115.8 300.6,119.2 298.2,123.1 295.6,127.6 292.8,132.5 289.9,137.8 286.9,143.3 284,148.7 281.1,154 278.3,158.9 275.7,163.4 273.3,167.3 271,170.7 268.9,173.6 266.8,176 264.7,178 262.5,179.6 260.1,181 257.6,182.1 255,183 252.6,183.7 250.6,184.1 249.3,184.4 248.8,184.5 248.7,184.5Z" fill="#4371bb" fill-opacity="0.50" stroke="#4371bb" stroke-opacity="0.25" stroke-width="0.40"/>
<path d="M248.7,184.5 248.8,184.5 249.3,184.4 250.6,184.2 252.6,183.8 255,183.2 257.6,182.4 260.1,181.3 262.5,180.1 264.7,178.7 266.8,176.9 268.9,174.8 271,172.2 273.3,169.1 275.7,165.6 278.3,161.6 281.1,157.2 284,152.5 286.9,147.6 289.9,142.7 292.8,138 295.6,133.6 298.2,129.6 300.6,126 302.9,123 305,120.4 307.1,118.2 309.2,116.5 311.4,115 313.8,113.8 316.3,112.8 318.9,112 321.3,111.4 323.3,111 324.6,110.8 325.1,110.7 325.2,110.7 325.2,111.3 325.1,111.3 324.6,111.4 323.3,111.6 321.3,112 318.9,112.6 316.3,113.4 313.8,114.4 311.4,115.6 309.2,117.1 307.1,118.9 305,121 302.9,123.6 300.6,126.7 298.2,130.2 295.6,134.2 292.8,138.6 289.9,143.3 286.9,148.2 284,153.1 281.1,157.8 278.3,162.2 275.7,166.2 273.3,169.7 271,172.8 268.9,175.4 266.8,177.5 264.7,179.3 262.5,180.8 260.1,182 257.6,183 255,183.8 252.6,184.4 250.6,184.8 249.3,185 248.8,185.1 248.7,185.1Z" fill="#4371bb" fill-opacity="0.50" stroke="#4371bb" stroke-opacity="0.25" stroke-width="0.40"/>
<path d="M248.7,185.1 248.8,185.1 249.3,185 250.6,184.8 252.6,184.5 255,183.9 257.6,183.2 260.1,182.3 262.5,181.2 264.7,179.9 266.8,178.3 268.9,176.4 271,174.1 273.3,171.3 275.7,168.2 278.3,164.6 281.1,160.6 284,156.4 286.9,152 289.9,147.6 292.8,143.4 295.6,139.4 298.2,135.8 300.6,132.6 302.9,129.9 305,127.6 307.1,125.7 309.2,124.1 311.4,122.8 313.8,121.7 316.3,120.8 318.9,120 321.3,119.5 323.3,119.1 324.6,119 325.1,118.9 325.2,118.9 325.2,119.1 325.1,119.1 324.6,119.2 323.3,119.4 321.3,119.7 318.9,120.3 316.3,121 313.8,121.9 311.4,123 309.2,124.3 307.1,125.9 305,127.8 302.9,130.1 300.6,132.9 298.2,136 295.6,139.6 292.8,143.6 289.9,147.8 286.9,152.2 284,156.6 281.1,160.8 278.3,164.8 275.7,168.4 273.3,171.5 271,174.3 268.9,176.6 266.8,178.5 264.7,180.1 262.5,181.4 260.1,182.5 257.6,183.4 255,184.1 252.6,184.7 250.6,185 249.3,185.2 248.8,185.3 248.7,185.3Z" fill="#4371bb" fill-opacity="0.50" stroke="#4371bb" stroke-opacity="0.25" stroke-width="0.40"/>
<path d="M248.7,185.3 248.8,185.3 249.3,185.2 250.6,185.1 252.6,184.7 255,184.2 257.6,183.5 260.1,182.7 262.5,181.7 264.7,180.5 266.8,179 268.9,177.2 271,175 273.3,172.5 275.7,169.5 278.3,166.1 281.1,162.4 284,158.5 286.9,154.4 289.9,150.3 292.8,146.4 295.6,142.7 298.2,139.3 300.6,136.4 302.9,133.8 305,131.6 307.1,129.8 309.2,128.4 311.4,127.1 313.8,126.1 316.3,125.3 318.9,124.6 321.3,124.1 323.3,123.8 324.6,123.6 325.1,123.5 325.2,123.5 325.2,123.7 325.1,123.7 324.6,123.8 323.3,124 321.3,124.3 318.9,124.8 316.3,125.5 313.8,126.3 311.4,127.3 309.2,128.6 307.1,130 305,131.8 302.9,134 300.6,136.6 298.2,139.5 295.6,142.9 292.8,146.6 289.9,150.5 286.9,154.6 284,158.7 281.1,162.7 278.3,166.4 275.7,169.7 273.3,172.7 271,175.2 268.9,177.4 266.8,179.2 264.7,180.7 262.5,181.9 260.1,182.9 257.6,183.7 255,184.4 252.6,184.9 250.6,185.3 249.3,185.4 248.8,185.5 248.7,185.5Z" fill="#4371bb" fill-opacity="0.50" stroke="#4371bb" stroke-opacity="0.25" stroke-width="0.40"/>
<path d="M248.7,185.5 248.8,185.5 249.3,185.5 250.6,185.3 252.6,185 255,184.5 257.6,183.9 260.1,183.2 262.5,182.3 264.7,181.2 266.8,179.8 268.9,178.2 271,176.3 273.3,174 275.7,171.3 278.3,168.3 281.1,165 284,161.4 286.9,157.8 289.9,154.1 292.8,150.5 295.6,147.2 298.2,144.2 300.6,141.6 302.9,139.3 305,137.3 307.1,135.7 309.2,134.4 311.4,133.3 313.8,132.4 316.3,131.6 318.9,131 321.3,130.5 323.3,130.2 324.6,130.1 325.1,130 325.2,130 325.2,130.6 325.1,130.7 324.6,130.7 323.3,130.9 321.3,131.2 318.9,131.6 316.3,132.2 313.8,133 311.4,133.9 309.2,135 307.1,136.3 305,138 302.9,139.9 300.6,142.2 298.2,144.8 295.6,147.9 292.8,151.2 289.9,154.7 286.9,158.4 284,162.1 281.1,165.6 278.3,168.9 275.7,171.9 273.3,174.6 271,176.9 268.9,178.8 266.8,180.5 264.7,181.8 262.5,182.9 260.1,183.8 257.6,184.6 255,185.2 252.6,185.6 250.6,185.9 249.3,186.1 248.8,186.1 248.7,186.2Z" fill="#4371bb" fill-opacity="0.50" stroke="#4371bb" stroke-opacity="0.25" stroke-width="0.40"/>
<path d="M248.7,186.2 248.8,186.1 249.3,186.1 250.6,185.9 252.6,185.7 255,185.2 257.6,184.7 260.1,184 262.5,183.1 264.7,182.1 266.8,180.9 268.9,179.4 271,177.6 273.3,175.5 275.7,173 278.3,170.2 281.1,167.2 284,163.9 286.9,160.5 289.9,157.1 292.8,153.8 295.6,150.8 298.2,148 300.6,145.5 302.9,143.4 305,141.6 307.1,140.1 309.2,138.9 311.4,137.9 313.8,137 316.3,136.3 318.9,135.8 321.3,135.3 323.3,135.1 324.6,134.9 325.1,134.9 325.2,134.9 325.2,135.1 325.1,135.1 324.6,135.1 323.3,135.3 321.3,135.6 318.9,136 316.3,136.5 313.8,137.2 311.4,138.1 309.2,139.1 307.1,140.3 305,141.8 302.9,143.6 300.6,145.7 298.2,148.2 295.6,151 292.8,154 289.9,157.3 286.9,160.7 284,164.1 281.1,167.4 278.3,170.5 275.7,173.2 273.3,175.7 271,177.8 268.9,179.6 266.8,181.1 264.7,182.3 262.5,183.3 260.1,184.2 257.6,184.9 255,185.5 252.6,185.9 250.6,186.2 249.3,186.3 248.8,186.4 248.7,186.4Z" fill="#4371bb" fill-opacity="0.50" stroke="#4371bb" stroke-opacity="0.25" stroke-width="0.40"/>
<path d="M248.7,186.4 248.8,186.4 249.3,186.3 250.6,186.2 252.6,185.9 255,185.6 257.6,185.1 260.1,184.5 262.5,183.7 264.7,182.9 266.8,181.8 268.9,180.5 271,178.9 273.3,177.1 275.7,175 278.3,172.5 281.1,169.9 284,167 286.9,164.1 289.9,161.1 292.8,158.3 295.6,155.6 298.2,153.2 300.6,151.1 302.9,149.2 305,147.7 307.1,146.4 309.2,145.3 311.4,144.4 313.8,143.7 316.3,143.1 318.9,142.6 321.3,142.2 323.3,142 324.6,141.8 325.1,141.8 325.2,141.8 325.2,142.4 325.1,142.4 324.6,142.5 323.3,142.6 321.3,142.8 318.9,143.2 316.3,143.7 313.8,144.3 311.4,145 309.2,145.9 307.1,147 305,148.3 302.9,149.8 300.6,151.7 298.2,153.8 295.6,156.2 292.8,158.9 289.9,161.8 286.9,164.7 284,167.7 281.1,170.5 278.3,173.2 275.7,175.6 273.3,177.7 271,179.6 268.9,181.1 266.8,182.4 264.7,183.5 262.5,184.4 260.1,185.1 257.6,185.7 255,186.2 252.6,186.6 250.6,186.8 249.3,186.9 248.8,187 248.7,187Z" fill="#4371bb" fill-opacity="0.50" stroke="#4371bb" stroke-opacity="0.25" stroke-width="0.40"/>
<path d="M248.7,187 248.8,187 249.3,187 250.6,187 252.6,187.1 255,187.2 257.6,187.3 260.1,187.4 262.5,187.5 264.7,187.7 266.8,188 268.9,188.2 271,188.6 273.3,189 275.7,189.4 278.3,189.9 281.1,190.5 284,191.1 286.9,191.7 289.9,192.4 292.8,193 295.6,193.5 298.2,194 300.6,194.5 302.9,194.9 305,195.2 307.1,195.5 309.2,195.7 311.4,195.9 313.8,196.1 316.3,196.2 318.9,196.3 321.3,196.4 323.3,196.4 324.6,196.4 325.1,196.5 325.2,196.5 325.2,214.1 325.1,214.1 324.6,214.1 323.3,214.1 321.3,214 318.9,213.9 316.3,213.8 313.8,213.7 311.4,213.6 309.2,213.4 307.1,213.1 305,212.9 302.9,212.5 300.6,212.1 298.2,211.7 295.6,211.2 292.8,210.6 289.9,210 286.9,209.4 284,208.8 281.1,208.2 278.3,207.6 275.7,207.1 273.3,206.6 271,206.2 268.9,205.9 266.8,205.6 264.7,205.4 262.5,205.2 260.1,205.1 257.6,204.9 255,204.8 252.6,204.7 250.6,204.7 249.3,204.7 248.8,204.7 248.7,204.7Z" fill="#4371bb" fill-opacity="0.50" stroke="#4371bb" stroke-opacity="0.25" stroke-width="0.40"/>
<path d="M248.7,204.7 248.8,204.7 249.3,204.7 250.6,204.9 252.6,205.3 255,205.9 257.6,206.6 260.1,207.6 262.5,208.7 264.7,210 266.8,211.7 268.9,213.7 271,216.1 273.3,218.9 275.7,222.2 278.3,225.9 281.1,230 284,234.4 286.9,238.9 289.9,243.5 292.8,247.8 295.6,251.9 298.2,255.7 300.6,258.9 302.9,261.8 305,264.2 307.1,266.2 309.2,267.8 311.4,269.2 313.8,270.3 316.3,271.2 318.9,272 321.3,272.5 323.3,272.9 324.6,273.1 325.1,273.2 325.2,273.2 325.2,286.2 325.1,286.2 324.6,286.1 323.3,285.9 321.3,285.6 318.9,285 316.3,284.3 313.8,283.3 311.4,282.2 309.2,280.8 307.1,279.2 305,277.2 302.9,274.8 300.6,272 298.2,268.7 295.6,265 292.8,260.9 289.9,256.5 286.9,252 284,247.4 281.1,243 278.3,238.9 275.7,235.2 273.3,231.9 271,229.1 268.9,226.7 266.8,224.7 264.7,223.1 262.5,221.7 260.1,220.6 257.6,219.7 255,218.9 252.6,218.3 250.6,218 249.3,217.8 248.8,217.7 248.7,217.7Z" fill="#4371bb" fill-opacity="0.50" stroke="#4371bb" stroke-opacity="0.25" stroke-width="0.40"/>
<path d="M248.7,217.7 248.8,217.7 249.3,217.5 250.6,217.1 252.6,216.3 255,215.1 257.6,213.5 260.1,211.5 262.5,209.1 264.7,206.2 266.8,202.7 268.9,198.4 271,193.3 273.3,187.2 275.7,180.2 278.3,172.3 281.1,163.6 284,154.2 286.9,144.5 289.9,134.8 292.8,125.5 295.6,116.7 298.2,108.8 300.6,101.8 302.9,95.7 305,90.6 307.1,86.4 309.2,82.9 311.4,80 313.8,77.6 316.3,75.6 318.9,74 321.3,72.8 323.3,72 324.6,71.5 325.1,71.4 325.2,71.4 325.2,73.9 325.1,73.9 324.6,74.1 323.3,74.5 321.3,75.3 318.9,76.5 316.3,78.1 313.8,80.1 311.4,82.5 309.2,85.4 307.1,88.9 305,93.1 302.9,98.3 300.6,104.3 298.2,111.3 295.6,119.3 292.8,128 289.9,137.4 286.9,147 284,156.7 281.1,166.1 278.3,174.8 275.7,182.8 273.3,189.8 271,195.8 268.9,201 266.8,205.2 264.7,208.7 262.5,211.6 260.1,214 257.6,216 255,217.6 252.6,218.8 250.6,219.6 249.3,220 248.8,220.2 248.7,220.2Z" fill="#b2df8a" fill-opacity="0.42" stroke="#b2df8a" stroke-opacity="0.21" stroke-width="0.40"/>
<path d="M248.7,220.2 248.8,220.2 249.3,220.1 250.6,219.7 252.6,219 255,218 257.6,216.7 260.1,215 262.5,212.9 264.7,210.5 266.8,207.5 268.9,203.9 271,199.5 273.3,194.4 275.7,188.5 278.3,181.7 281.1,174.3 284,166.4 286.9,158.2 289.9,150 292.8,142 295.6,134.6 298.2,127.9 300.6,122 302.9,116.8 305,112.5 307.1,108.9 309.2,105.9 311.4,103.5 313.8,101.4 316.3,99.7 318.9,98.4 321.3,97.4 323.3,96.7 324.6,96.3 325.1,96.2 325.2,96.2 325.2,96.8 325.1,96.8 324.6,96.9 323.3,97.3 321.3,98 318.9,99 316.3,100.4 313.8,102 311.4,104.1 309.2,106.5 307.1,109.5 305,113.1 302.9,117.5 300.6,122.6 298.2,128.5 295.6,135.3 292.8,142.7 289.9,150.6 286.9,158.8 284,167 281.1,175 278.3,182.4 275.7,189.1 273.3,195 271,200.2 268.9,204.5 266.8,208.1 264.7,211.1 262.5,213.5 260.1,215.6 257.6,217.3 255,218.6 252.6,219.7 250.6,220.3 249.3,220.7 248.8,220.8 248.7,220.8Z" fill="#b2df8a" fill-opacity="0.42" stroke="#b2df8a" stroke-opacity="0.21" stroke-width="0.40"/>
<path d="M248.7,220.8 248.8,220.8 249.3,220.7 250.6,220.4 252.6,219.7 255,218.7 257.6,217.4 260.1,215.8 262.5,213.9 264.7,211.5 266.8,208.7 268.9,205.2 271,201 273.3,196.1 275.7,190.4 278.3,184 281.1,176.9 284,169.3 286.9,161.4 289.9,153.6 292.8,146 295.6,138.9 298.2,132.4 300.6,126.8 302.9,121.9 305,117.7 307.1,114.2 309.2,111.4 311.4,109 313.8,107.1 316.3,105.5 318.9,104.2 321.3,103.2 323.3,102.5 324.6,102.2 325.1,102.1 325.2,102.1 325.2,104.2 325.1,104.2 324.6,104.3 323.3,104.6 321.3,105.3 318.9,106.3 316.3,107.6 313.8,109.2 311.4,111.1 309.2,113.5 307.1,116.3 305,119.8 302.9,124 300.6,128.9 298.2,134.6 295.6,141 292.8,148.1 289.9,155.7 286.9,163.6 284,171.4 281.1,179 278.3,186.1 275.7,192.5 273.3,198.2 271,203.1 268.9,207.3 266.8,210.8 264.7,213.6 262.5,216 260.1,217.9 257.6,219.5 255,220.8 252.6,221.8 250.6,222.5 249.3,222.8 248.8,222.9 248.7,222.9Z" fill="#b2df8a" fill-opacity="0.42" stroke="#b2df8a" stroke-opacity="0.21" stroke-width="0.40"/>
<path d="M248.7,222.9 248.8,222.9 249.3,222.8 250.6,222.5 252.6,221.9 255,221 257.6,219.7 260.1,218.2 262.5,216.4 264.7,214.2 266.8,211.5 268.9,208.3 271,204.3 273.3,199.7 275.7,194.4 278.3,188.3 281.1,181.7 284,174.5 286.9,167.1 289.9,159.7 292.8,152.6 295.6,145.9 298.2,139.9 300.6,134.5 302.9,129.9 305,126 307.1,122.8 309.2,120.1 311.4,117.9 313.8,116 316.3,114.5 318.9,113.3 321.3,112.4 323.3,111.8 324.6,111.4 325.1,111.3 325.2,111.3 325.2,113.4 325.1,113.4 324.6,113.5 323.3,113.9 321.3,114.5 318.9,115.4 316.3,116.6 313.8,118.1 311.4,120 309.2,122.2 307.1,124.9 305,128.1 302.9,132 300.6,136.6 298.2,142 295.6,148 292.8,154.7 289.9,161.8 286.9,169.2 284,176.6 281.1,183.8 278.3,190.4 275.7,196.5 273.3,201.8 271,206.4 268.9,210.4 266.8,213.6 264.7,216.3 262.5,218.5 260.1,220.3 257.6,221.8 255,223.1 252.6,224 250.6,224.6 249.3,224.9 248.8,225 248.7,225Z" fill="#b2df8a" fill-opacity="0.42" stroke="#b2df8a" stroke-opacity="0.21" stroke-width="0.40"/>
<path d="M248.7,225 248.8,225 249.3,224.9 250.6,224.6 252.6,224 255,223.2 257.6,222 260.1,220.6 262.5,218.8 264.7,216.7 266.8,214.2 268.9,211.1 271,207.4 273.3,203 275.7,197.9 278.3,192.2 281.1,185.9 284,179.1 286.9,172.1 289.9,165.1 292.8,158.3 295.6,151.9 298.2,146.2 300.6,141.1 302.9,136.7 305,133 307.1,129.9 309.2,127.4 311.4,125.3 313.8,123.6 316.3,122.1 318.9,121 321.3,120.1 323.3,119.5 324.6,119.2 325.1,119.1 325.2,119.1 325.2,119.7 325.1,119.7 324.6,119.8 323.3,120.2 321.3,120.7 318.9,121.6 316.3,122.8 313.8,124.2 311.4,125.9 309.2,128 307.1,130.6 305,133.7 302.9,137.4 300.6,141.8 298.2,146.8 295.6,152.6 292.8,158.9 289.9,165.7 286.9,172.7 284,179.7 281.1,186.5 278.3,192.8 275.7,198.6 273.3,203.6 271,208 268.9,211.7 266.8,214.8 264.7,217.3 262.5,219.4 260.1,221.2 257.6,222.6 255,223.8 252.6,224.7 250.6,225.2 249.3,225.6 248.8,225.7 248.7,225.7Z" fill="#b2df8a" fill-opacity="0.42" stroke="#b2df8a" stroke-opacity="0.21" stroke-width="0.40"/>
<path d="M248.7,225.7 248.8,225.7 249.3,225.6 250.6,225.3 252.6,224.7 255,223.9 257.6,222.8 260.1,221.4 262.5,219.7 264.7,217.7 266.8,215.2 268.9,212.3 271,208.7 273.3,204.5 275.7,199.6 278.3,194.1 281.1,188 284,181.4 286.9,174.7 289.9,167.9 292.8,161.4 295.6,155.3 298.2,149.8 300.6,144.9 302.9,140.7 305,137.1 307.1,134.2 309.2,131.7 311.4,129.7 313.8,128 316.3,126.6 318.9,125.5 321.3,124.7 323.3,124.1 324.6,123.8 325.1,123.7 325.2,123.7 325.2,124.1 325.1,124.1 324.6,124.3 323.3,124.5 321.3,125.1 318.9,125.9 316.3,127.1 313.8,128.4 311.4,130.1 309.2,132.1 307.1,134.6 305,137.5 302.9,141.1 300.6,145.3 298.2,150.2 295.6,155.7 292.8,161.8 289.9,168.4 286.9,175.1 284,181.9 281.1,188.4 278.3,194.5 275.7,200 273.3,204.9 271,209.1 268.9,212.7 266.8,215.6 264.7,218.1 262.5,220.1 260.1,221.8 257.6,223.2 255,224.3 252.6,225.1 250.6,225.7 249.3,226 248.8,226.1 248.7,226.1Z" fill="#b2df8a" fill-opacity="0.42" stroke="#b2df8a" stroke-opacity="0.21" stroke-width="0.40"/>
<path d="M248.7,226.1 248.8,226.1 249.3,226 250.6,225.7 252.6,225.2 255,224.4 257.6,223.4 260.1,222.1 262.5,220.5 264.7,218.6 266.8,216.3 268.9,213.5 271,210.2 273.3,206.2 275.7,201.7 278.3,196.5 281.1,190.8 284,184.7 286.9,178.4 289.9,172.1 292.8,166 295.6,160.2 298.2,155.1 300.6,150.5 302.9,146.6 305,143.2 307.1,140.4 309.2,138.2 311.4,136.3 313.8,134.7 316.3,133.4 318.9,132.3 321.3,131.6 323.3,131 324.6,130.8 325.1,130.7 325.2,130.6 325.2,131.3 325.1,131.3 324.6,131.4 323.3,131.7 321.3,132.2 318.9,133 316.3,134 313.8,135.3 311.4,136.9 309.2,138.8 307.1,141.1 305,143.8 302.9,147.2 300.6,151.1 298.2,155.7 295.6,160.9 292.8,166.6 289.9,172.7 286.9,179 284,185.3 281.1,191.4 278.3,197.1 275.7,202.3 273.3,206.9 271,210.8 268.9,214.2 266.8,216.9 264.7,219.2 262.5,221.1 260.1,222.7 257.6,224 255,225 252.6,225.8 250.6,226.3 249.3,226.6 248.8,226.7 248.7,226.7Z" fill="#b2df8a" fill-opacity="0.42" stroke="#b2df8a" stroke-opacity="0.21" stroke-width="0.40"/>
<path d="M248.7,226.7 248.8,226.7 249.3,226.6 250.6,226.4 252.6,225.9 255,225.1 257.6,224.1 260.1,222.8 262.5,221.3 264.7,219.5 266.8,217.3 268.9,214.7 271,211.5 273.3,207.7 275.7,203.3 278.3,198.3 281.1,192.8 284,187 286.9,180.9 289.9,174.8 292.8,169 295.6,163.5 298.2,158.5 300.6,154.1 302.9,150.3 305,147.1 307.1,144.5 309.2,142.3 311.4,140.5 313.8,138.9 316.3,137.7 318.9,136.7 321.3,135.9 323.3,135.4 324.6,135.2 325.1,135.1 325.2,135.1 325.2,135.5 325.1,135.5 324.6,135.6 323.3,135.9 321.3,136.4 318.9,137.1 316.3,138.1 313.8,139.4 311.4,140.9 309.2,142.7 307.1,144.9 305,147.5 302.9,150.8 300.6,154.6 298.2,158.9 295.6,163.9 292.8,169.4 289.9,175.2 286.9,181.3 284,187.4 281.1,193.2 278.3,198.7 275.7,203.7 273.3,208.1 271,211.9 268.9,215.1 266.8,217.8 264.7,219.9 262.5,221.8 260.1,223.3 257.6,224.5 255,225.5 252.6,226.3 250.6,226.8 249.3,227 248.8,227.1 248.7,227.2Z" fill="#b2df8a" fill-opacity="0.42" stroke="#b2df8a" stroke-opacity="0.21" stroke-width="0.40"/>
<path d="M248.7,227.2 248.8,227.1 249.3,227 250.6,226.8 252.6,226.3 255,225.6 257.6,224.7 260.1,223.6 262.5,222.2 264.7,220.5 266.8,218.5 268.9,216 271,213 273.3,209.5 275.7,205.5 278.3,200.9 281.1,195.8 284,190.4 286.9,184.8 289.9,179.2 292.8,173.8 295.6,168.7 298.2,164.1 300.6,160 302.9,156.5 305,153.6 307.1,151.1 309.2,149.1 311.4,147.4 313.8,146 316.3,144.9 318.9,143.9 321.3,143.2 323.3,142.8 324.6,142.5 325.1,142.4 325.2,142.4 325.2,142.8 325.1,142.9 324.6,142.9 323.3,143.2 321.3,143.7 318.9,144.3 316.3,145.3 313.8,146.4 311.4,147.8 309.2,149.5 307.1,151.5 305,154 302.9,157 300.6,160.5 298.2,164.5 295.6,169.1 292.8,174.2 289.9,179.6 286.9,185.2 284,190.8 281.1,196.2 278.3,201.3 275.7,205.9 273.3,209.9 271,213.4 268.9,216.4 266.8,218.9 264.7,220.9 262.5,222.6 260.1,224 257.6,225.1 255,226.1 252.6,226.8 250.6,227.2 249.3,227.5 248.8,227.6 248.7,227.6Z" fill="#b2df8a" fill-opacity="0.42" stroke="#b2df8a" stroke-opacity="0.21" stroke-width="0.40"/>
<path d="M248.7,227.6 248.8,227.6 249.3,227.6 250.6,227.5 252.6,227.4 255,227.3 257.6,227.2 260.1,227 262.5,226.8 264.7,226.5 266.8,226.2 268.9,225.8 271,225.3 273.3,224.8 275.7,224.1 278.3,223.4 281.1,222.6 284,221.7 286.9,220.8 289.9,220 292.8,219.1 295.6,218.3 298.2,217.6 300.6,216.9 302.9,216.4 305,215.9 307.1,215.5 309.2,215.2 311.4,214.9 313.8,214.7 316.3,214.5 318.9,214.4 321.3,214.2 323.3,214.2 324.6,214.1 325.1,214.1 325.2,214.1 325.2,220.4 325.1,220.4 324.6,220.4 323.3,220.5 321.3,220.6 318.9,220.7 316.3,220.8 313.8,221 311.4,221.2 309.2,221.5 307.1,221.8 305,222.2 302.9,222.7 300.6,223.2 298.2,223.9 295.6,224.6 292.8,225.4 289.9,226.3 286.9,227.2 284,228 281.1,228.9 278.3,229.7 275.7,230.4 273.3,231.1 271,231.6 268.9,232.1 266.8,232.5 264.7,232.8 262.5,233.1 260.1,233.3 257.6,233.5 255,233.6 252.6,233.8 250.6,233.8 249.3,233.9 248.8,233.9 248.7,233.9Z" fill="#b2df8a" fill-opacity="0.42" stroke="#b2df8a" stroke-opacity="0.21" stroke-width="0.40"/>
<path d="M248.7,233.9 248.8,233.9 249.3,233.9 250.6,234.1 252.6,234.4 255,234.8 257.6,235.4 260.1,236.1 262.5,237 264.7,238 266.8,239.2 268.9,240.8 271,242.6 273.3,244.8 275.7,247.3 278.3,250.1 281.1,253.2 284,256.6 286.9,260.1 289.9,263.5 292.8,266.9 295.6,270 298.2,272.8 300.6,275.3 302.9,277.5 305,279.3 307.1,280.9 309.2,282.1 311.4,283.2 313.8,284 316.3,284.7 318.9,285.3 321.3,285.7 323.3,286 324.6,286.2 325.1,286.2 325.2,286.2 325.2,288.8 325.1,288.7 324.6,288.7 323.3,288.5 321.3,288.3 318.9,287.8 316.3,287.3 313.8,286.5 311.4,285.7 309.2,284.6 307.1,283.4 305,281.9 302.9,280 300.6,277.9 298.2,275.4 295.6,272.5 292.8,269.4 289.9,266 286.9,262.6 284,259.1 281.1,255.8 278.3,252.6 275.7,249.8 273.3,247.3 271,245.1 268.9,243.3 266.8,241.8 264.7,240.5 262.5,239.5 260.1,238.6 257.6,237.9 255,237.3 252.6,236.9 250.6,236.6 249.3,236.5 248.8,236.4 248.7,236.4Z" fill="#b2df8a" fill-opacity="0.42" stroke="#b2df8a" stroke-opacity="0.21" stroke-width="0.40"/>
<path d="M248.7,236.4 248.8,236.4 249.3,236.2 250.6,235.7 252.6,234.8 255,233.5 257.6,231.7 260.1,229.5 262.5,226.8 264.7,223.6 266.8,219.7 268.9,215 271,209.3 273.3,202.6 275.7,194.8 278.3,186 281.1,176.3 284,165.9 286.9,155.1 289.9,144.4 292.8,134 295.6,124.3 298.2,115.5 300.6,107.7 302.9,101 305,95.3 307.1,90.5 309.2,86.7 311.4,83.4 313.8,80.8 316.3,78.5 318.9,76.8 321.3,75.4 323.3,74.5 324.6,74.1 325.1,73.9 325.2,73.9 325.2,75.6 325.1,75.6 324.6,75.8 323.3,76.2 321.3,77.1 318.9,78.4 316.3,80.2 313.8,82.4 311.4,85.1 309.2,88.3 307.1,92.2 305,96.9 302.9,102.6 300.6,109.4 298.2,117.1 295.6,126 292.8,135.7 289.9,146.1 286.9,156.8 284,167.6 281.1,178 278.3,187.7 275.7,196.5 273.3,204.3 271,211 268.9,216.7 266.8,221.4 264.7,225.3 262.5,228.5 260.1,231.2 257.6,233.4 255,235.2 252.6,236.5 250.6,237.4 249.3,237.9 248.8,238.1 248.7,238.1Z" fill="#51ab41" fill-opacity="0.50" stroke="#51ab41" stroke-opacity="0.25" stroke-width="0.40"/>
<path d="M248.7,238.1 248.8,238.1 249.3,237.9 250.6,237.5 252.6,236.7 255,235.6 257.6,234 260.1,232.1 262.5,229.8 264.7,227 266.8,223.6 268.9,219.5 271,214.5 273.3,208.7 275.7,201.9 278.3,194.3 281.1,185.8 284,176.8 286.9,167.4 289.9,158.1 292.8,149.1 295.6,140.6 298.2,132.9 300.6,126.2 302.9,120.3 305,115.4 307.1,111.3 309.2,107.9 311.4,105.1 313.8,102.8 316.3,100.9 318.9,99.3 321.3,98.1 323.3,97.4 324.6,97 325.1,96.8 325.2,96.8 325.2,97.4 325.1,97.4 324.6,97.6 323.3,98 321.3,98.8 318.9,99.9 316.3,101.5 313.8,103.4 311.4,105.7 309.2,108.5 307.1,111.9 305,116 302.9,121 300.6,126.8 298.2,133.6 295.6,141.2 292.8,149.7 289.9,158.7 286.9,168.1 284,177.4 281.1,186.5 278.3,194.9 275.7,202.6 273.3,209.3 271,215.2 268.9,220.1 266.8,224.2 264.7,227.6 262.5,230.4 260.1,232.7 257.6,234.7 255,236.2 252.6,237.4 250.6,238.1 249.3,238.5 248.8,238.7 248.7,238.7Z" fill="#51ab41" fill-opacity="0.50" stroke="#51ab41" stroke-opacity="0.25" stroke-width="0.40"/>
<path d="M248.7,238.7 248.8,238.7 249.3,238.6 250.6,238.2 252.6,237.4 255,236.3 257.6,234.9 260.1,233 262.5,230.8 264.7,228.1 266.8,224.9 268.9,221 271,216.3 273.3,210.7 275.7,204.3 278.3,197 281.1,188.9 284,180.3 286.9,171.4 289.9,162.5 292.8,153.9 295.6,145.9 298.2,138.6 300.6,132.1 302.9,126.6 305,121.9 307.1,118 309.2,114.7 311.4,112.1 313.8,109.9 316.3,108 318.9,106.5 321.3,105.4 323.3,104.7 324.6,104.3 325.1,104.2 325.2,104.2 325.2,104.6 325.1,104.6 324.6,104.7 323.3,105.1 321.3,105.9 318.9,107 316.3,108.4 313.8,110.3 311.4,112.5 309.2,115.2 307.1,118.4 305,122.3 302.9,127 300.6,132.6 298.2,139 295.6,146.3 292.8,154.3 289.9,162.9 286.9,171.9 284,180.8 281.1,189.4 278.3,197.4 275.7,204.7 273.3,211.1 271,216.7 268.9,221.4 266.8,225.3 264.7,228.6 262.5,231.2 260.1,233.4 257.6,235.3 255,236.7 252.6,237.8 250.6,238.6 249.3,239 248.8,239.1 248.7,239.1Z" fill="#51ab41" fill-opacity="0.50" stroke="#51ab41" stroke-opacity="0.25" stroke-width="0.40"/>
<path d="M248.7,239.1 248.8,239.1 249.3,239 250.6,238.6 252.6,237.9 255,236.9 257.6,235.5 260.1,233.8 262.5,231.7 264.7,229.2 266.8,226.2 268.9,222.6 271,218.2 273.3,213 275.7,207 278.3,200.1 281.1,192.6 284,184.6 286.9,176.3 289.9,167.9 292.8,159.9 295.6,152.4 298.2,145.6 300.6,139.6 302.9,134.4 305,130 307.1,126.3 309.2,123.3 311.4,120.8 313.8,118.7 316.3,117 318.9,115.6 321.3,114.6 323.3,113.9 324.6,113.6 325.1,113.4 325.2,113.4 325.2,114.7 325.1,114.7 324.6,114.8 323.3,115.2 321.3,115.9 318.9,116.9 316.3,118.3 313.8,120 311.4,122.1 309.2,124.6 307.1,127.6 305,131.2 302.9,135.6 300.6,140.8 298.2,146.8 295.6,153.7 292.8,161.2 289.9,169.2 286.9,177.5 284,185.9 281.1,193.9 278.3,201.4 275.7,208.2 273.3,214.2 271,219.4 268.9,223.9 266.8,227.5 264.7,230.5 262.5,233 260.1,235.1 257.6,236.8 255,238.2 252.6,239.2 250.6,239.9 249.3,240.2 248.8,240.4 248.7,240.4Z" fill="#51ab41" fill-opacity="0.50" stroke="#51ab41" stroke-opacity="0.25" stroke-width="0.40"/>
<path d="M248.7,240.4 248.8,240.4 249.3,240.2 250.6,239.9 252.6,239.2 255,238.3 257.6,236.9 260.1,235.3 262.5,233.3 264.7,230.9 266.8,228 268.9,224.5 271,220.3 273.3,215.3 275.7,209.5 278.3,203 281.1,195.8 284,188 286.9,180.1 289.9,172.1 292.8,164.3 295.6,157.1 298.2,150.6 300.6,144.8 302.9,139.8 305,135.6 307.1,132.1 309.2,129.2 311.4,126.8 313.8,124.8 316.3,123.2 318.9,121.9 321.3,120.9 323.3,120.2 324.6,119.9 325.1,119.7 325.2,119.7 325.2,120.1 325.1,120.2 324.6,120.3 323.3,120.6 321.3,121.3 318.9,122.3 316.3,123.6 313.8,125.2 311.4,127.2 309.2,129.6 307.1,132.5 305,136 302.9,140.2 300.6,145.2 298.2,151 295.6,157.6 292.8,164.8 289.9,172.5 286.9,180.5 284,188.5 281.1,196.2 278.3,203.4 275.7,209.9 273.3,215.7 271,220.7 268.9,224.9 266.8,228.4 264.7,231.3 262.5,233.7 260.1,235.7 257.6,237.4 255,238.7 252.6,239.7 250.6,240.3 249.3,240.7 248.8,240.8 248.7,240.8Z" fill="#51ab41" fill-opacity="0.50" stroke="#51ab41" stroke-opacity="0.25" stroke-width="0.40"/>
<path d="M248.7,240.8 248.8,240.8 249.3,240.7 250.6,240.3 252.6,239.7 255,238.7 257.6,237.5 260.1,235.9 262.5,234 264.7,231.6 266.8,228.9 268.9,225.5 271,221.4 273.3,216.5 275.7,211 278.3,204.6 281.1,197.7 284,190.2 286.9,182.5 289.9,174.7 292.8,167.3 295.6,160.3 298.2,154 300.6,148.4 302.9,143.6 305,139.5 307.1,136.1 309.2,133.3 311.4,131 313.8,129.1 316.3,127.5 318.9,126.2 321.3,125.2 323.3,124.6 324.6,124.3 325.1,124.1 325.2,124.1 325.2,124.3 325.1,124.4 324.6,124.5 323.3,124.8 321.3,125.5 318.9,126.4 316.3,127.7 313.8,129.3 311.4,131.2 309.2,133.5 307.1,136.3 305,139.7 302.9,143.8 300.6,148.6 298.2,154.2 295.6,160.5 292.8,167.5 289.9,175 286.9,182.7 284,190.4 281.1,197.9 278.3,204.8 275.7,211.2 273.3,216.8 271,221.6 268.9,225.7 266.8,229.1 264.7,231.9 262.5,234.2 260.1,236.1 257.6,237.7 255,239 252.6,239.9 250.6,240.5 249.3,240.9 248.8,241 248.7,241Z" fill="#51ab41" fill-opacity="0.50" stroke="#51ab41" stroke-opacity="0.25" stroke-width="0.40"/>
<path d="M248.7,241 248.8,241 249.3,240.9 250.6,240.6 252.6,240 255,239.1 257.6,237.9 260.1,236.4 262.5,234.6 264.7,232.4 266.8,229.8 268.9,226.6 271,222.7 273.3,218.2 275.7,212.9 278.3,207 281.1,200.4 284,193.4 286.9,186.2 289.9,178.9 292.8,171.9 295.6,165.3 298.2,159.4 300.6,154.1 302.9,149.6 305,145.7 307.1,142.5 309.2,139.9 311.4,137.7 313.8,135.9 316.3,134.4 318.9,133.2 321.3,132.3 323.3,131.7 324.6,131.4 325.1,131.3 325.2,131.3 325.2,131.5 325.1,131.5 324.6,131.6 323.3,131.9 321.3,132.5 318.9,133.4 316.3,134.6 313.8,136.1 311.4,137.9 309.2,140.1 307.1,142.7 305,145.9 302.9,149.8 300.6,154.3 298.2,159.6 295.6,165.5 292.8,172.1 289.9,179.1 286.9,186.4 284,193.6 281.1,200.6 278.3,207.2 275.7,213.2 273.3,218.4 271,222.9 268.9,226.8 266.8,230 264.7,232.6 262.5,234.8 260.1,236.6 257.6,238.1 255,239.3 252.6,240.2 250.6,240.8 249.3,241.1 248.8,241.2 248.7,241.2Z" fill="#51ab41" fill-opacity="0.50" stroke="#51ab41" stroke-opacity="0.25" stroke-width="0.40"/>
<path d="M248.7,241.2 248.8,241.2 249.3,241.1 250.6,240.8 252.6,240.2 255,239.4 257.6,238.2 260.1,236.8 262.5,235 264.7,232.9 266.8,230.4 268.9,227.3 271,223.6 273.3,219.2 275.7,214.2 278.3,208.4 281.1,202.1 284,195.4 286.9,188.4 289.9,181.4 292.8,174.6 295.6,168.3 298.2,162.5 300.6,157.5 302.9,153.1 305,149.4 307.1,146.3 309.2,143.8 311.4,141.7 313.8,140 316.3,138.5 318.9,137.4 321.3,136.5 323.3,135.9 324.6,135.6 325.1,135.5 325.2,135.5 325.2,135.7 325.1,135.7 324.6,135.8 323.3,136.1 321.3,136.7 318.9,137.6 316.3,138.7 313.8,140.2 311.4,141.9 309.2,144 307.1,146.5 305,149.6 302.9,153.3 300.6,157.7 298.2,162.8 295.6,168.5 292.8,174.8 289.9,181.6 286.9,188.6 284,195.6 281.1,202.3 278.3,208.7 275.7,214.4 273.3,219.4 271,223.8 268.9,227.5 266.8,230.6 264.7,233.1 262.5,235.2 260.1,237 257.6,238.4 255,239.6 252.6,240.4 250.6,241 249.3,241.3 248.8,241.4 248.7,241.4Z" fill="#51ab41" fill-opacity="0.50" stroke="#51ab41" stroke-opacity="0.25" stroke-width="0.40"/>
<path d="M248.7,241.4 248.8,241.4 249.3,241.3 250.6,241 252.6,240.5 255,239.7 257.6,238.6 260.1,237.3 262.5,235.6 264.7,233.7 266.8,231.3 268.9,228.5 271,225 273.3,220.9 275.7,216.2 278.3,210.9 281.1,205 284,198.7 286.9,192.1 289.9,185.6 292.8,179.3 295.6,173.4 298.2,168.1 300.6,163.4 302.9,159.3 305,155.8 307.1,153 309.2,150.6 311.4,148.6 313.8,147 316.3,145.7 318.9,144.6 321.3,143.8 323.3,143.2 324.6,143 325.1,142.9 325.2,142.8 325.2,143.3 325.1,143.3 324.6,143.4 323.3,143.7 321.3,144.2 318.9,145 316.3,146.1 313.8,147.4 311.4,149.1 309.2,151 307.1,153.4 305,156.2 302.9,159.7 300.6,163.8 298.2,168.5 295.6,173.8 292.8,179.7 289.9,186 286.9,192.6 284,199.1 281.1,205.4 278.3,211.3 275.7,216.6 273.3,221.4 271,225.4 268.9,228.9 266.8,231.8 264.7,234.1 262.5,236.1 260.1,237.7 257.6,239 255,240.1 252.6,240.9 250.6,241.5 249.3,241.7 248.8,241.9 248.7,241.9Z" fill="#51ab41" fill-opacity="0.50" stroke="#51ab41" stroke-opacity="0.25" stroke-width="0.40"/>
<path d="M248.7,241.9 248.8,241.9 249.3,241.8 250.6,241.8 252.6,241.7 255,241.5 257.6,241.3 260.1,241 262.5,240.6 264.7,240.2 266.8,239.7 268.9,239 271,238.3 273.3,237.4 275.7,236.4 278.3,235.2 281.1,233.9 284,232.6 286.9,231.1 289.9,229.7 292.8,228.4 295.6,227.1 298.2,225.9 300.6,224.9 302.9,224 305,223.2 307.1,222.6 309.2,222.1 311.4,221.7 313.8,221.3 316.3,221 318.9,220.8 321.3,220.6 323.3,220.5 324.6,220.4 325.1,220.4 325.2,220.4 325.2,230.9 325.1,230.9 324.6,231 323.3,231 321.3,231.1 318.9,231.3 316.3,231.6 313.8,231.8 311.4,232.2 309.2,232.6 307.1,233.1 305,233.8 302.9,234.5 300.6,235.4 298.2,236.4 295.6,237.6 292.8,238.9 289.9,240.2 286.9,241.7 284,243.1 281.1,244.4 278.3,245.7 275.7,246.9 273.3,247.9 271,248.8 268.9,249.6 266.8,250.2 264.7,250.7 262.5,251.1 260.1,251.5 257.6,251.8 255,252 252.6,252.2 250.6,252.3 249.3,252.4 248.8,252.4 248.7,252.4Z" fill="#51ab41" fill-opacity="0.50" stroke="#51ab41" stroke-opacity="0.25" stroke-width="0.40"/>
<path d="M248.7,252.4 248.8,252.4 249.3,252.4 250.6,252.5 252.6,252.7 255,253 257.6,253.4 260.1,253.9 262.5,254.5 264.7,255.2 266.8,256.1 268.9,257.2 271,258.4 273.3,259.9 275.7,261.7 278.3,263.7 281.1,265.8 284,268.2 286.9,270.6 289.9,273 292.8,275.3 295.6,277.5 298.2,279.4 300.6,281.2 302.9,282.7 305,284 307.1,285 309.2,285.9 311.4,286.6 313.8,287.2 316.3,287.7 318.9,288.1 321.3,288.4 323.3,288.6 324.6,288.7 325.1,288.7 325.2,288.8 325.2,290.9 325.1,290.9 324.6,290.8 323.3,290.7 321.3,290.5 318.9,290.2 316.3,289.8 313.8,289.3 311.4,288.7 309.2,288 307.1,287.1 305,286.1 302.9,284.8 300.6,283.3 298.2,281.5 295.6,279.6 292.8,277.4 289.9,275.1 286.9,272.7 284,270.3 281.1,267.9 278.3,265.8 275.7,263.8 273.3,262.1 271,260.5 268.9,259.3 266.8,258.2 264.7,257.3 262.5,256.6 260.1,256 257.6,255.5 255,255.1 252.6,254.8 250.6,254.6 249.3,254.5 248.8,254.5 248.7,254.5Z" fill="#51ab41" fill-opacity="0.50" stroke="#51ab41" stroke-opacity="0.25" stroke-width="0.40"/>
<path d="M248.7,254.5 248.8,254.5 249.3,254.3 250.6,253.7 252.6,252.8 255,251.3 257.6,249.3 260.1,246.9 262.5,244 264.7,240.4 266.8,236.1 268.9,230.9 271,224.7 273.3,217.3 275.7,208.7 278.3,199 281.1,188.3 284,176.9 286.9,165 289.9,153.2 292.8,141.7 295.6,131 298.2,121.3 300.6,112.8 302.9,105.4 305,99.1 307.1,93.9 309.2,89.6 311.4,86.1 313.8,83.1 316.3,80.7 318.9,78.7 321.3,77.3 323.3,76.3 324.6,75.8 325.1,75.6 325.2,75.6 325.2,76.8 325.1,76.8 324.6,77 323.3,77.6 321.3,78.5 318.9,80 316.3,82 313.8,84.4 311.4,87.3 309.2,90.9 307.1,95.2 305,100.4 302.9,106.6 300.6,114 298.2,122.6 295.6,132.3 292.8,143 289.9,154.4 286.9,166.3 284,178.1 281.1,189.6 278.3,200.3 275.7,210 273.3,218.5 271,225.9 268.9,232.2 266.8,237.4 264.7,241.7 262.5,245.2 260.1,248.2 257.6,250.6 255,252.6 252.6,254 250.6,255 249.3,255.5 248.8,255.7 248.7,255.7Z" fill="#fb9a99" fill-opacity="0.42" stroke="#fb9a99" stroke-opacity="0.21" stroke-width="0.40"/>
<path d="M248.7,255.7 248.8,255.7 249.3,255.6 250.6,255.1 252.6,254.2 255,252.9 257.6,251.2 260.1,249 262.5,246.4 264.7,243.3 266.8,239.5 268.9,234.9 271,229.4 273.3,222.8 275.7,215.2 278.3,206.7 281.1,197.2 284,187.1 286.9,176.6 289.9,166.1 292.8,156 295.6,146.5 298.2,137.9 300.6,130.4 302.9,123.8 305,118.3 307.1,113.7 309.2,109.9 311.4,106.7 313.8,104.1 316.3,102 318.9,100.2 321.3,98.9 323.3,98.1 324.6,97.6 325.1,97.5 325.2,97.4 325.2,97.8 325.1,97.9 324.6,98 323.3,98.5 321.3,99.4 318.9,100.7 316.3,102.4 313.8,104.6 311.4,107.2 309.2,110.3 307.1,114.1 305,118.7 302.9,124.2 300.6,130.8 298.2,138.4 295.6,146.9 292.8,156.4 289.9,166.5 286.9,177 284,187.5 281.1,197.6 278.3,207.1 275.7,215.7 273.3,223.2 271,229.8 268.9,235.3 266.8,239.9 264.7,243.7 262.5,246.9 260.1,249.5 257.6,251.6 255,253.4 252.6,254.7 250.6,255.5 249.3,256 248.8,256.1 248.7,256.2Z" fill="#fb9a99" fill-opacity="0.42" stroke="#fb9a99" stroke-opacity="0.21" stroke-width="0.40"/>
<path d="M248.7,256.2 248.8,256.1 249.3,256 250.6,255.5 252.6,254.7 255,253.5 257.6,251.8 260.1,249.7 262.5,247.2 264.7,244.2 266.8,240.6 268.9,236.2 271,230.9 273.3,224.6 275.7,217.4 278.3,209.2 281.1,200.1 284,190.4 286.9,180.4 289.9,170.3 292.8,160.6 295.6,151.6 298.2,143.4 300.6,136.1 302.9,129.8 305,124.5 307.1,120.1 309.2,116.5 311.4,113.5 313.8,111 316.3,108.9 318.9,107.3 321.3,106 323.3,105.2 324.6,104.8 325.1,104.6 325.2,104.6 325.2,105 325.1,105 324.6,105.2 323.3,105.6 321.3,106.4 318.9,107.7 316.3,109.3 313.8,111.4 311.4,113.9 309.2,116.9 307.1,120.5 305,124.9 302.9,130.3 300.6,136.5 298.2,143.8 295.6,152 292.8,161.1 289.9,170.8 286.9,180.8 284,190.8 281.1,200.5 278.3,209.6 275.7,217.8 273.3,225.1 271,231.3 268.9,236.6 266.8,241 264.7,244.7 262.5,247.7 260.1,250.2 257.6,252.2 255,253.9 252.6,255.1 250.6,256 249.3,256.4 248.8,256.6 248.7,256.6Z" fill="#fb9a99" fill-opacity="0.42" stroke="#fb9a99" stroke-opacity="0.21" stroke-width="0.40"/>
<path d="M248.7,256.6 248.8,256.6 249.3,256.4 250.6,256 252.6,255.2 255,254.1 257.6,252.5 260.1,250.6 262.5,248.2 264.7,245.4 266.8,242 268.9,237.9 271,232.9 273.3,227.1 275.7,220.3 278.3,212.6 281.1,204.1 284,195 286.9,185.6 289.9,176.2 292.8,167.2 295.6,158.7 298.2,151 300.6,144.2 302.9,138.3 305,133.3 307.1,129.2 309.2,125.8 311.4,123 313.8,120.7 316.3,118.7 318.9,117.2 321.3,116 323.3,115.3 324.6,114.8 325.1,114.7 325.2,114.7 325.2,115.7 325.1,115.7 324.6,115.9 323.3,116.3 321.3,117.1 318.9,118.2 316.3,119.8 313.8,121.7 311.4,124.1 309.2,126.9 307.1,130.3 305,134.4 302.9,139.4 300.6,145.2 298.2,152 295.6,159.7 292.8,168.2 289.9,177.3 286.9,186.7 284,196.1 281.1,205.1 278.3,213.6 275.7,221.3 273.3,228.1 271,234 268.9,239 266.8,243.1 264.7,246.5 262.5,249.3 260.1,251.6 257.6,253.6 255,255.1 252.6,256.3 250.6,257.1 249.3,257.5 248.8,257.6 248.7,257.6Z" fill="#fb9a99" fill-opacity="0.42" stroke="#fb9a99" stroke-opacity="0.21" stroke-width="0.40"/>
<path d="M248.7,257.6 248.8,257.6 249.3,257.5 250.6,257.1 252.6,256.3 255,255.2 257.6,253.7 260.1,251.8 262.5,249.5 264.7,246.8 266.8,243.5 268.9,239.5 271,234.7 273.3,229 275.7,222.5 278.3,215 281.1,206.8 284,198 286.9,188.9 289.9,179.8 292.8,171 295.6,162.8 298.2,155.3 300.6,148.7 302.9,143.1 305,138.2 307.1,134.2 309.2,130.9 311.4,128.2 313.8,126 316.3,124.1 318.9,122.6 321.3,121.4 323.3,120.7 324.6,120.3 325.1,120.2 325.2,120.1 325.2,121 325.1,121 324.6,121.1 323.3,121.5 321.3,122.3 318.9,123.4 316.3,124.9 313.8,126.8 311.4,129.1 309.2,131.8 307.1,135.1 305,139.1 302.9,143.9 300.6,149.6 298.2,156.2 295.6,163.6 292.8,171.8 289.9,180.6 286.9,189.7 284,198.8 281.1,207.6 278.3,215.8 275.7,223.3 273.3,229.9 271,235.6 268.9,240.4 266.8,244.4 264.7,247.7 262.5,250.4 260.1,252.7 257.6,254.5 255,256 252.6,257.2 250.6,257.9 249.3,258.3 248.8,258.5 248.7,258.5Z" fill="#fb9a99" fill-opacity="0.42" stroke="#fb9a99" stroke-opacity="0.21" stroke-width="0.40"/>
<path d="M248.7,258.5 248.8,258.5 249.3,258.3 250.6,257.9 252.6,257.2 255,256.1 257.6,254.6 260.1,252.8 262.5,250.6 264.7,247.9 266.8,244.7 268.9,240.8 271,236.1 273.3,230.6 275.7,224.2 278.3,216.9 281.1,208.9 284,200.3 286.9,191.4 289.9,182.5 292.8,174 295.6,165.9 298.2,158.7 300.6,152.2 302.9,146.7 305,142 307.1,138.1 309.2,134.9 311.4,132.2 313.8,130 316.3,128.2 318.9,126.7 321.3,125.6 323.3,124.9 324.6,124.5 325.1,124.4 325.2,124.3 325.2,124.8 325.1,124.8 324.6,124.9 323.3,125.3 321.3,126 318.9,127.1 316.3,128.6 313.8,130.4 311.4,132.6 309.2,135.3 307.1,138.5 305,142.4 302.9,147.1 300.6,152.7 298.2,159.1 295.6,166.4 292.8,174.4 289.9,183 286.9,191.8 284,200.7 281.1,209.3 278.3,217.3 275.7,224.6 273.3,231 271,236.5 268.9,241.2 266.8,245.1 264.7,248.4 262.5,251 260.1,253.2 257.6,255 255,256.5 252.6,257.6 250.6,258.3 249.3,258.7 248.8,258.9 248.7,258.9Z" fill="#fb9a99" fill-opacity="0.42" stroke="#fb9a99" stroke-opacity="0.21" stroke-width="0.40"/>
<path d="M248.7,258.9 248.8,258.9 249.3,258.7 250.6,258.4 252.6,257.7 255,256.6 257.6,255.2 260.1,253.5 262.5,251.4 264.7,248.9 266.8,245.8 268.9,242.1 271,237.7 273.3,232.4 275.7,226.3 278.3,219.4 281.1,211.8 284,203.6 286.9,195.2 289.9,186.8 292.8,178.6 295.6,171 298.2,164.1 300.6,158 302.9,152.7 305,148.3 307.1,144.6 309.2,141.5 311.4,139 313.8,136.9 316.3,135.1 318.9,133.8 321.3,132.7 323.3,132 324.6,131.6 325.1,131.5 325.2,131.5 325.2,131.9 325.1,131.9 324.6,132.1 323.3,132.4 321.3,133.1 318.9,134.2 316.3,135.6 313.8,137.3 311.4,139.4 309.2,141.9 307.1,145 305,148.7 302.9,153.1 300.6,158.4 298.2,164.5 295.6,171.4 292.8,179 289.9,187.2 286.9,195.6 284,204 281.1,212.2 278.3,219.8 275.7,226.7 273.3,232.8 271,238.1 268.9,242.6 266.8,246.3 264.7,249.3 262.5,251.8 260.1,253.9 257.6,255.7 255,257.1 252.6,258.1 250.6,258.8 249.3,259.2 248.8,259.3 248.7,259.3Z" fill="#fb9a99" fill-opacity="0.42" stroke="#fb9a99" stroke-opacity="0.21" stroke-width="0.40"/>
<path d="M248.7,259.3 248.8,259.3 249.3,259.2 250.6,258.8 252.6,258.1 255,257.1 257.6,255.8 260.1,254.1 262.5,252 264.7,249.6 266.8,246.6 268.9,243 271,238.7 273.3,233.6 275.7,227.7 278.3,221 281.1,213.6 284,205.7 286.9,197.5 289.9,189.3 292.8,181.4 295.6,174 298.2,167.3 300.6,161.4 302.9,156.3 305,152 307.1,148.4 309.2,145.4 311.4,143 313.8,140.9 316.3,139.2 318.9,137.9 321.3,136.9 323.3,136.2 324.6,135.8 325.1,135.7 325.2,135.7 325.2,135.9 325.1,135.9 324.6,136.1 323.3,136.4 321.3,137.1 318.9,138.1 316.3,139.5 313.8,141.1 311.4,143.2 309.2,145.6 307.1,148.6 305,152.2 302.9,156.5 300.6,161.6 298.2,167.5 295.6,174.2 292.8,181.6 289.9,189.5 286.9,197.7 284,205.9 281.1,213.8 278.3,221.2 275.7,227.9 273.3,233.8 271,238.9 268.9,243.3 266.8,246.9 264.7,249.8 262.5,252.3 260.1,254.3 257.6,256 255,257.3 252.6,258.3 250.6,259 249.3,259.4 248.8,259.5 248.7,259.5Z" fill="#fb9a99" fill-opacity="0.42" stroke="#fb9a99" stroke-opacity="0.21" stroke-width="0.40"/>
<path d="M248.7,259.5 248.8,259.5 249.3,259.4 250.6,259 252.6,258.4 255,257.5 257.6,256.2 260.1,254.6 262.5,252.7 264.7,250.4 266.8,247.6 268.9,244.2 271,240.2 273.3,235.3 275.7,229.8 278.3,223.5 281.1,216.5 284,209.1 286.9,201.4 289.9,193.7 292.8,186.3 295.6,179.3 298.2,173 300.6,167.4 302.9,162.6 305,158.6 307.1,155.2 309.2,152.4 311.4,150.1 313.8,148.2 316.3,146.6 318.9,145.3 321.3,144.4 323.3,143.7 324.6,143.4 325.1,143.3 325.2,143.3 325.2,143.9 325.1,143.9 324.6,144 323.3,144.4 321.3,145 318.9,146 316.3,147.2 313.8,148.8 311.4,150.7 309.2,153 307.1,155.8 305,159.2 302.9,163.3 300.6,168.1 298.2,173.6 295.6,179.9 292.8,186.9 289.9,194.3 286.9,202 284,209.7 281.1,217.2 278.3,224.1 275.7,230.4 273.3,236 271,240.8 268.9,244.9 266.8,248.2 264.7,251 262.5,253.3 260.1,255.2 257.6,256.8 255,258.1 252.6,259 250.6,259.7 249.3,260 248.8,260.1 248.7,260.2Z" fill="#fb9a99" fill-opacity="0.42" stroke="#fb9a99" stroke-opacity="0.21" stroke-width="0.40"/>
<path d="M248.7,260.2 248.8,260.2 249.3,260.1 250.6,260 252.6,259.9 255,259.6 257.6,259.3 260.1,258.9 262.5,258.4 264.7,257.9 266.8,257.2 268.9,256.3 271,255.3 273.3,254.1 275.7,252.7 278.3,251.1 281.1,249.4 284,247.5 286.9,245.5 289.9,243.6 292.8,241.7 295.6,240 298.2,238.4 300.6,237 302.9,235.8 305,234.8 307.1,233.9 309.2,233.2 311.4,232.7 313.8,232.2 316.3,231.8 318.9,231.5 321.3,231.2 323.3,231.1 324.6,231 325.1,230.9 325.2,230.9 325.2,238.9 325.1,238.9 324.6,239 323.3,239 321.3,239.2 318.9,239.4 316.3,239.8 313.8,240.2 311.4,240.6 309.2,241.2 307.1,241.9 305,242.8 302.9,243.8 300.6,245 298.2,246.4 295.6,248 292.8,249.7 289.9,251.6 286.9,253.5 284,255.5 281.1,257.3 278.3,259.1 275.7,260.7 273.3,262.1 271,263.3 268.9,264.3 266.8,265.2 264.7,265.9 262.5,266.4 260.1,266.9 257.6,267.3 255,267.6 252.6,267.9 250.6,268 249.3,268.1 248.8,268.1 248.7,268.1Z" fill="#fb9a99" fill-opacity="0.42" stroke="#fb9a99" stroke-opacity="0.21" stroke-width="0.40"/>
<path d="M248.7,268.1 248.8,268.2 249.3,268.2 250.6,268.2 252.6,268.4 255,268.6 257.6,268.8 260.1,269.1 262.5,269.5 264.7,269.9 266.8,270.5 268.9,271.1 271,271.9 273.3,272.9 275.7,274 278.3,275.2 281.1,276.5 284,278 286.9,279.5 289.9,281 292.8,282.5 295.6,283.8 298.2,285 300.6,286.1 302.9,287.1 305,287.9 307.1,288.5 309.2,289.1 311.4,289.5 313.8,289.9 316.3,290.2 318.9,290.5 321.3,290.6 323.3,290.8 324.6,290.8 325.1,290.9 325.2,290.9 325.2,293.4 325.1,293.4 324.6,293.4 323.3,293.3 321.3,293.2 318.9,293 316.3,292.7 313.8,292.4 311.4,292 309.2,291.6 307.1,291.1 305,290.4 302.9,289.6 300.6,288.7 298.2,287.6 295.6,286.3 292.8,285 289.9,283.5 286.9,282 284,280.5 281.1,279.1 278.3,277.7 275.7,276.5 273.3,275.4 271,274.5 268.9,273.7 266.8,273 264.7,272.5 262.5,272 260.1,271.6 257.6,271.3 255,271.1 252.6,270.9 250.6,270.8 249.3,270.7 248.8,270.7 248.7,270.7Z" fill="#fb9a99" fill-opacity="0.42" stroke="#fb9a99" stroke-opacity="0.21" stroke-width="0.40"/>
<path d="M248.7,270.7 248.8,270.6 249.3,270.4 250.6,269.9 252.6,268.8 255,267.2 257.6,265.1 260.1,262.5 262.5,259.3 264.7,255.4 266.8,250.8 268.9,245.2 271,238.4 273.3,230.3 275.7,221.1 278.3,210.6 281.1,199 284,186.6 286.9,173.7 289.9,160.9 292.8,148.5 295.6,136.9 298.2,126.4 300.6,117.1 302.9,109.1 305,102.3 307.1,96.7 309.2,92.1 311.4,88.2 313.8,85 316.3,82.4 318.9,80.3 321.3,78.7 323.3,77.6 324.6,77.1 325.1,76.9 325.2,76.8 325.2,77.5 325.1,77.5 324.6,77.7 323.3,78.3 321.3,79.3 318.9,80.9 316.3,83 313.8,85.7 311.4,88.9 309.2,92.7 307.1,97.3 305,103 302.9,109.8 300.6,117.8 298.2,127.1 295.6,137.6 292.8,149.2 289.9,161.5 286.9,174.4 284,187.2 281.1,199.6 278.3,211.2 275.7,221.7 273.3,231 271,239 268.9,245.8 266.8,251.4 264.7,256.1 262.5,259.9 260.1,263.1 257.6,265.7 255,267.9 252.6,269.5 250.6,270.5 249.3,271.1 248.8,271.3 248.7,271.3Z" fill="#e31a1c" fill-opacity="0.42" stroke="#e31a1c" stroke-opacity="0.21" stroke-width="0.40"/>
<path d="M248.7,271.3 248.8,271.3 249.3,271.1 250.6,270.6 252.6,269.6 255,268.2 257.6,266.3 260.1,264 262.5,261.1 264.7,257.7 266.8,253.5 268.9,248.5 271,242.4 273.3,235.2 275.7,226.9 278.3,217.5 281.1,207.1 284,196.1 286.9,184.6 289.9,173.1 292.8,162 295.6,151.6 298.2,142.2 300.6,133.9 302.9,126.8 305,120.7 307.1,115.6 309.2,111.5 311.4,108.1 313.8,105.2 316.3,102.8 318.9,100.9 321.3,99.5 323.3,98.6 324.6,98.1 325.1,97.9 325.2,97.8 325.2,98.1 325.1,98.1 324.6,98.3 323.3,98.8 321.3,99.7 318.9,101.1 316.3,103 313.8,105.4 311.4,108.3 309.2,111.7 307.1,115.8 305,120.9 302.9,127 300.6,134.1 298.2,142.4 295.6,151.8 292.8,162.2 289.9,173.3 286.9,184.8 284,196.3 281.1,207.4 278.3,217.7 275.7,227.1 273.3,235.4 271,242.6 268.9,248.7 266.8,253.7 264.7,257.9 262.5,261.3 260.1,264.2 257.6,266.5 255,268.4 252.6,269.9 250.6,270.8 249.3,271.3 248.8,271.5 248.7,271.5Z" fill="#e31a1c" fill-opacity="0.42" stroke="#e31a1c" stroke-opacity="0.21" stroke-width="0.40"/>
<path d="M248.7,271.5 248.8,271.5 249.3,271.3 250.6,270.8 252.6,269.9 255,268.6 257.6,266.7 260.1,264.5 262.5,261.7 264.7,258.4 266.8,254.4 268.9,249.6 271,243.8 273.3,236.9 275.7,228.9 278.3,219.9 281.1,209.9 284,199.3 286.9,188.3 289.9,177.2 292.8,166.6 295.6,156.6 298.2,147.6 300.6,139.6 302.9,132.7 305,126.9 307.1,122.1 309.2,118.1 311.4,114.8 313.8,112 316.3,109.8 318.9,108 321.3,106.6 323.3,105.7 324.6,105.2 325.1,105 325.2,105 325.2,105.2 325.1,105.2 324.6,105.4 323.3,105.9 321.3,106.8 318.9,108.2 316.3,110 313.8,112.3 311.4,115 309.2,118.3 307.1,122.3 305,127.1 302.9,133 300.6,139.8 298.2,147.8 295.6,156.8 292.8,166.8 289.9,177.4 286.9,188.5 284,199.5 281.1,210.1 278.3,220.1 275.7,229.1 273.3,237.1 271,244 268.9,249.8 266.8,254.6 264.7,258.6 262.5,261.9 260.1,264.7 257.6,266.9 255,268.8 252.6,270.1 250.6,271 249.3,271.5 248.8,271.7 248.7,271.7Z" fill="#e31a1c" fill-opacity="0.42" stroke="#e31a1c" stroke-opacity="0.21" stroke-width="0.40"/>
<path d="M248.7,271.7 248.8,271.7 249.3,271.5 250.6,271.1 252.6,270.2 255,269 257.6,267.2 260.1,265.1 262.5,262.5 264.7,259.5 266.8,255.7 268.9,251.2 271,245.7 273.3,239.3 275.7,231.8 278.3,223.3 281.1,214 284,204 286.9,193.7 289.9,183.4 292.8,173.4 295.6,164.1 298.2,155.6 300.6,148.2 302.9,141.7 305,136.2 307.1,131.7 309.2,128 311.4,124.9 313.8,122.3 316.3,120.2 318.9,118.5 321.3,117.2 323.3,116.4 324.6,115.9 325.1,115.7 325.2,115.7 325.2,116.1 325.1,116.2 324.6,116.3 323.3,116.8 321.3,117.6 318.9,118.9 316.3,120.6 313.8,122.7 311.4,125.3 309.2,128.4 307.1,132.1 305,136.7 302.9,142.1 300.6,148.6 298.2,156.1 295.6,164.5 292.8,173.8 289.9,183.8 286.9,194.1 284,204.5 281.1,214.4 278.3,223.8 275.7,232.2 273.3,239.7 271,246.1 268.9,251.6 266.8,256.1 264.7,259.9 262.5,263 260.1,265.5 257.6,267.7 255,269.4 252.6,270.7 250.6,271.5 249.3,272 248.8,272.1 248.7,272.1Z" fill="#e31a1c" fill-opacity="0.42" stroke="#e31a1c" stroke-opacity="0.21" stroke-width="0.40"/>
<path d="M248.7,272.1 248.8,272.1 249.3,272 250.6,271.5 252.6,270.7 255,269.5 257.6,267.8 260.1,265.7 262.5,263.3 264.7,260.3 266.8,256.6 268.9,252.2 271,246.9 273.3,240.7 275.7,233.5 278.3,225.3 281.1,216.2 284,206.6 286.9,196.6 289.9,186.6 292.8,176.9 295.6,167.8 298.2,159.7 300.6,152.4 302.9,146.2 305,140.9 307.1,136.5 309.2,132.9 311.4,129.9 313.8,127.4 316.3,125.3 318.9,123.7 321.3,122.4 323.3,121.6 324.6,121.2 325.1,121 325.2,121 325.2,121.2 325.1,121.2 324.6,121.4 323.3,121.8 321.3,122.6 318.9,123.9 316.3,125.5 313.8,127.6 311.4,130.1 309.2,133.1 307.1,136.7 305,141.1 302.9,146.4 300.6,152.6 298.2,159.9 295.6,168.1 292.8,177.1 289.9,186.8 286.9,196.8 284,206.8 281.1,216.4 278.3,225.5 275.7,233.7 273.3,240.9 271,247.2 268.9,252.5 266.8,256.9 264.7,260.5 262.5,263.5 260.1,266 257.6,268 255,269.7 252.6,270.9 250.6,271.7 249.3,272.2 248.8,272.3 248.7,272.4Z" fill="#e31a1c" fill-opacity="0.42" stroke="#e31a1c" stroke-opacity="0.21" stroke-width="0.40"/>
<path d="M248.7,272.4 248.8,272.3 249.3,272.2 250.6,271.7 252.6,270.9 255,269.7 257.6,268.1 260.1,266.1 262.5,263.7 264.7,260.8 266.8,257.2 268.9,252.9 271,247.8 273.3,241.7 275.7,234.6 278.3,226.6 281.1,217.8 284,208.3 286.9,198.6 289.9,188.8 292.8,179.3 295.6,170.5 298.2,162.5 300.6,155.5 302.9,149.4 305,144.2 307.1,139.9 309.2,136.4 311.4,133.4 313.8,131 316.3,129 318.9,127.4 321.3,126.2 323.3,125.4 324.6,124.9 325.1,124.8 325.2,124.8 325.2,125.4 325.1,125.4 324.6,125.6 323.3,126 321.3,126.8 318.9,128 316.3,129.6 313.8,131.6 311.4,134.1 309.2,137 307.1,140.5 305,144.8 302.9,150 300.6,156.1 298.2,163.2 295.6,171.2 292.8,180 289.9,189.4 286.9,199.2 284,209 281.1,218.4 278.3,227.2 275.7,235.2 273.3,242.3 271,248.4 268.9,253.6 266.8,257.8 264.7,261.4 262.5,264.3 260.1,266.7 257.6,268.7 255,270.4 252.6,271.6 250.6,272.4 249.3,272.8 248.8,273 248.7,273Z" fill="#e31a1c" fill-opacity="0.42" stroke="#e31a1c" stroke-opacity="0.21" stroke-width="0.40"/>
<path d="M248.7,273 248.8,273 249.3,272.8 250.6,272.4 252.6,271.6 255,270.5 257.6,268.9 260.1,267 262.5,264.7 264.7,261.9 266.8,258.5 268.9,254.4 271,249.5 273.3,243.6 275.7,236.9 278.3,229.2 281.1,220.8 284,211.8 286.9,202.4 289.9,193.1 292.8,184.1 295.6,175.7 298.2,168 300.6,161.3 302.9,155.4 305,150.5 307.1,146.4 309.2,143 311.4,140.2 313.8,137.9 316.3,136 318.9,134.4 321.3,133.3 323.3,132.5 324.6,132.1 325.1,131.9 325.2,131.9 325.2,132.1 325.1,132.1 324.6,132.3 323.3,132.7 321.3,133.5 318.9,134.6 316.3,136.2 313.8,138.1 311.4,140.4 309.2,143.2 307.1,146.6 305,150.7 302.9,155.6 300.6,161.5 298.2,168.2 295.6,175.9 292.8,184.3 289.9,193.3 286.9,202.7 284,212 281.1,221 278.3,229.4 275.7,237.1 273.3,243.8 271,249.7 268.9,254.6 266.8,258.7 264.7,262.1 262.5,264.9 260.1,267.2 257.6,269.1 255,270.7 252.6,271.8 250.6,272.6 249.3,273 248.8,273.2 248.7,273.2Z" fill="#e31a1c" fill-opacity="0.42" stroke="#e31a1c" stroke-opacity="0.21" stroke-width="0.40"/>
<path d="M248.7,273.2 248.8,273.2 249.3,273 250.6,272.6 252.6,271.9 255,270.8 257.6,269.3 260.1,267.4 262.5,265.1 264.7,262.4 266.8,259.1 268.9,255.1 271,250.3 273.3,244.6 275.7,238.1 278.3,230.6 281.1,222.4 284,213.6 286.9,204.5 289.9,195.5 292.8,186.7 295.6,178.5 298.2,171 300.6,164.5 302.9,158.8 305,154 307.1,150 309.2,146.7 311.4,144 313.8,141.7 316.3,139.8 318.9,138.3 321.3,137.2 323.3,136.5 324.6,136.1 325.1,135.9 325.2,135.9 325.2,136.1 325.1,136.1 324.6,136.3 323.3,136.7 321.3,137.4 318.9,138.6 316.3,140.1 313.8,141.9 311.4,144.2 309.2,146.9 307.1,150.2 305,154.2 302.9,159 300.6,164.7 298.2,171.2 295.6,178.7 292.8,186.9 289.9,195.7 286.9,204.8 284,213.8 281.1,222.6 278.3,230.8 275.7,238.3 273.3,244.8 271,250.5 268.9,255.3 266.8,259.3 264.7,262.6 262.5,265.3 260.1,267.6 257.6,269.5 255,271 252.6,272.1 250.6,272.8 249.3,273.2 248.8,273.4 248.7,273.4Z" fill="#e31a1c" fill-opacity="0.42" stroke="#e31a1c" stroke-opacity="0.21" stroke-width="0.40"/>
<path d="M248.7,273.4 248.8,273.4 249.3,273.2 250.6,272.9 252.6,272.2 255,271.1 257.6,269.7 260.1,267.9 262.5,265.8 264.7,263.2 266.8,260.1 268.9,256.4 271,251.8 273.3,246.5 275.7,240.3 278.3,233.2 281.1,225.5 284,217.2 286.9,208.6 289.9,200.1 292.8,191.8 295.6,184.1 298.2,177 300.6,170.8 302.9,165.5 305,160.9 307.1,157.2 309.2,154.1 311.4,151.5 313.8,149.4 316.3,147.6 318.9,146.2 321.3,145.1 323.3,144.4 324.6,144 325.1,143.9 325.2,143.9 325.2,144.3 325.1,144.3 324.6,144.5 323.3,144.8 321.3,145.6 318.9,146.6 316.3,148 313.8,149.8 311.4,151.9 309.2,154.5 307.1,157.6 305,161.4 302.9,165.9 300.6,171.3 298.2,177.5 295.6,184.5 292.8,192.2 289.9,200.5 286.9,209.1 284,217.6 281.1,225.9 278.3,233.7 275.7,240.7 273.3,246.9 271,252.2 268.9,256.8 266.8,260.5 264.7,263.6 262.5,266.2 260.1,268.3 257.6,270.1 255,271.5 252.6,272.6 250.6,273.3 249.3,273.7 248.8,273.8 248.7,273.8Z" fill="#e31a1c" fill-opacity="0.42" stroke="#e31a1c" stroke-opacity="0.21" stroke-width="0.40"/>
<path d="M248.7,273.8 248.8,273.8 249.3,273.8 250.6,273.7 252.6,273.5 255,273.2 257.6,272.8 260.1,272.3 262.5,271.8 264.7,271.1 266.8,270.2 268.9,269.2 271,268 273.3,266.6 275.7,264.9 278.3,263 281.1,260.9 284,258.7 286.9,256.4 289.9,254.1 292.8,251.8 295.6,249.7 298.2,247.9 300.6,246.2 302.9,244.7 305,243.5 307.1,242.5 309.2,241.7 311.4,241 313.8,240.4 316.3,239.9 318.9,239.5 321.3,239.3 323.3,239.1 324.6,239 325.1,238.9 325.2,238.9 325.2,242.1 325.1,242.1 324.6,242.1 323.3,242.2 321.3,242.4 318.9,242.7 316.3,243.1 313.8,243.6 311.4,244.1 309.2,244.8 307.1,245.7 305,246.7 302.9,247.9 300.6,249.3 298.2,251 295.6,252.9 292.8,255 289.9,257.2 286.9,259.5 284,261.8 281.1,264.1 278.3,266.2 275.7,268 273.3,269.7 271,271.2 268.9,272.4 266.8,273.4 264.7,274.2 262.5,274.9 260.1,275.5 257.6,276 255,276.4 252.6,276.6 250.6,276.8 249.3,276.9 248.8,277 248.7,277Z" fill="#e31a1c" fill-opacity="0.42" stroke="#e31a1c" stroke-opacity="0.21" stroke-width="0.40"/>
<path d="M248.7,277 248.8,277 249.3,277 250.6,277 252.6,277.1 255,277.3 257.6,277.5 260.1,277.7 262.5,277.9 264.7,278.3 266.8,278.7 268.9,279.1 271,279.7 273.3,280.4 275.7,281.2 278.3,282.1 281.1,283 284,284.1 286.9,285.2 289.9,286.3 292.8,287.3 295.6,288.3 298.2,289.2 300.6,290 302.9,290.6 305,291.2 307.1,291.7 309.2,292.1 311.4,292.4 313.8,292.7 316.3,292.9 318.9,293.1 321.3,293.2 323.3,293.3 324.6,293.4 325.1,293.4 325.2,293.4 325.2,295.5 325.1,295.5 324.6,295.5 323.3,295.4 321.3,295.3 318.9,295.2 316.3,295 313.8,294.8 311.4,294.5 309.2,294.2 307.1,293.8 305,293.3 302.9,292.7 300.6,292.1 298.2,291.3 295.6,290.4 292.8,289.4 289.9,288.4 286.9,287.3 284,286.2 281.1,285.1 278.3,284.2 275.7,283.3 273.3,282.5 271,281.8 268.9,281.2 266.8,280.8 264.7,280.4 262.5,280 260.1,279.8 257.6,279.6 255,279.4 252.6,279.2 250.6,279.2 249.3,279.1 248.8,279.1 248.7,279.1Z" fill="#e31a1c" fill-opacity="0.42" stroke="#e31a1c" stroke-opacity="0.21" stroke-width="0.40"/>
<path d="M248.7,279.1 248.8,279.1 249.3,278.8 250.6,278.3 252.6,277.2 255,275.5 257.6,273.3 260.1,270.5 262.5,267.2 264.7,263.2 266.8,258.4 268.9,252.5 271,245.5 273.3,237.1 275.7,227.5 278.3,216.6 281.1,204.5 284,191.6 286.9,178.3 289.9,164.9 292.8,152 295.6,140 298.2,129 300.6,119.4 302.9,111.1 305,104 307.1,98.1 309.2,93.3 311.4,89.3 313.8,86 316.3,83.2 318.9,81 321.3,79.4 323.3,78.3 324.6,77.7 325.1,77.5 325.2,77.5 325.2,78.1 325.1,78.1 324.6,78.3 323.3,78.9 321.3,80 318.9,81.7 316.3,83.9 313.8,86.6 311.4,89.9 309.2,93.9 307.1,98.8 305,104.6 302.9,111.7 300.6,120 298.2,129.7 295.6,140.6 292.8,152.7 289.9,165.6 286.9,178.9 284,192.2 281.1,205.1 278.3,217.2 275.7,228.1 273.3,237.8 271,246.1 268.9,253.2 266.8,259 264.7,263.9 262.5,267.9 260.1,271.2 257.6,273.9 255,276.1 252.6,277.8 250.6,278.9 249.3,279.5 248.8,279.7 248.7,279.7Z" fill="#fdbf6f" fill-opacity="0.50" stroke="#fdbf6f" stroke-opacity="0.25" stroke-width="0.40"/>
<path d="M248.7,279.7 248.8,279.7 249.3,279.5 250.6,279 252.6,278 255,276.5 257.6,274.5 260.1,272 262.5,269 264.7,265.4 266.8,261.1 268.9,255.8 271,249.4 273.3,241.9 275.7,233.2 278.3,223.4 281.1,212.5 284,200.9 286.9,188.9 289.9,176.9 292.8,165.2 295.6,154.4 298.2,144.5 300.6,135.8 302.9,128.3 305,122 307.1,116.7 309.2,112.3 311.4,108.7 313.8,105.8 316.3,103.3 318.9,101.3 321.3,99.8 323.3,98.8 324.6,98.3 325.1,98.1 325.2,98.1 325.2,98.3 325.1,98.3 324.6,98.5 323.3,99 321.3,100 318.9,101.5 316.3,103.5 313.8,106 311.4,109 309.2,112.6 307.1,116.9 305,122.2 302.9,128.5 300.6,136.1 298.2,144.8 295.6,154.6 292.8,165.5 289.9,177.1 286.9,189.1 284,201.1 281.1,212.7 278.3,223.6 275.7,233.4 273.3,242.1 271,249.6 268.9,256 266.8,261.3 264.7,265.6 262.5,269.2 260.1,272.2 257.6,274.7 255,276.7 252.6,278.2 250.6,279.2 249.3,279.7 248.8,279.9 248.7,279.9Z" fill="#fdbf6f" fill-opacity="0.50" stroke="#fdbf6f" stroke-opacity="0.25" stroke-width="0.40"/>
<path d="M248.7,279.9 248.8,279.9 249.3,279.7 250.6,279.2 252.6,278.4 255,277 257.6,275.2 260.1,273 262.5,270.3 264.7,267 266.8,263.1 268.9,258.4 271,252.6 273.3,245.9 275.7,238 278.3,229.1 281.1,219.3 284,208.9 286.9,198 289.9,187.2 292.8,176.7 295.6,166.9 298.2,158 300.6,150.2 302.9,143.4 305,137.7 307.1,132.9 309.2,129 311.4,125.8 313.8,123.1 316.3,120.8 318.9,119 321.3,117.7 323.3,116.8 324.6,116.3 325.1,116.2 325.2,116.1 325.2,116.3 325.1,116.4 324.6,116.5 323.3,117 321.3,117.9 318.9,119.3 316.3,121.1 313.8,123.3 311.4,126 309.2,129.2 307.1,133.1 305,137.9 302.9,143.6 300.6,150.4 298.2,158.3 295.6,167.1 292.8,176.9 289.9,187.4 286.9,198.2 284,209.1 281.1,219.6 278.3,229.3 275.7,238.2 273.3,246.1 271,252.8 268.9,258.6 266.8,263.3 264.7,267.3 262.5,270.5 260.1,273.2 257.6,275.4 255,277.2 252.6,278.6 250.6,279.5 249.3,279.9 248.8,280.1 248.7,280.1Z" fill="#fdbf6f" fill-opacity="0.50" stroke="#fdbf6f" stroke-opacity="0.25" stroke-width="0.40"/>
<path d="M248.7,280.1 248.8,280.1 249.3,279.9 250.6,279.5 252.6,278.7 255,277.4 257.6,275.7 260.1,273.6 262.5,271 264.7,268 266.8,264.3 268.9,259.8 271,254.3 273.3,247.9 275.7,240.5 278.3,232.2 281.1,222.9 284,213 286.9,202.8 289.9,192.5 292.8,182.6 295.6,173.4 298.2,165 300.6,157.6 302.9,151.2 305,145.8 307.1,141.3 309.2,137.6 311.4,134.5 313.8,131.9 316.3,129.8 318.9,128.1 321.3,126.9 323.3,126 324.6,125.6 325.1,125.4 325.2,125.4 325.2,125.6 325.1,125.6 324.6,125.8 323.3,126.2 321.3,127.1 318.9,128.3 316.3,130 313.8,132.2 311.4,134.7 309.2,137.8 307.1,141.5 305,146 302.9,151.4 300.6,157.8 298.2,165.2 295.6,173.6 292.8,182.8 289.9,192.7 286.9,203 284,213.2 281.1,223.1 278.3,232.4 275.7,240.7 273.3,248.2 271,254.6 268.9,260 266.8,264.5 264.7,268.2 262.5,271.2 260.1,273.8 257.6,275.9 255,277.6 252.6,278.9 250.6,279.7 249.3,280.2 248.8,280.3 248.7,280.3Z" fill="#fdbf6f" fill-opacity="0.50" stroke="#fdbf6f" stroke-opacity="0.25" stroke-width="0.40"/>
<path d="M248.7,280.3 248.8,280.3 249.3,280.2 250.6,279.7 252.6,278.9 255,277.7 257.6,276.1 260.1,274.1 262.5,271.6 264.7,268.7 266.8,265.1 268.9,260.8 271,255.6 273.3,249.5 275.7,242.4 278.3,234.4 281.1,225.5 284,216 286.9,206.2 289.9,196.4 292.8,186.9 295.6,178.1 298.2,170 300.6,163 302.9,156.8 305,151.6 307.1,147.3 309.2,143.8 311.4,140.8 313.8,138.4 316.3,136.4 318.9,134.8 321.3,133.5 323.3,132.7 324.6,132.3 325.1,132.1 325.2,132.1 325.2,132.5 325.1,132.6 324.6,132.7 323.3,133.2 321.3,134 318.9,135.2 316.3,136.8 313.8,138.8 311.4,141.3 309.2,144.2 307.1,147.7 305,152 302.9,157.2 300.6,163.4 298.2,170.5 295.6,178.5 292.8,187.4 289.9,196.8 286.9,206.7 284,216.5 281.1,225.9 278.3,234.8 275.7,242.8 273.3,249.9 271,256.1 268.9,261.3 266.8,265.6 264.7,269.1 262.5,272 260.1,274.5 257.6,276.5 255,278.1 252.6,279.3 250.6,280.2 249.3,280.6 248.8,280.7 248.7,280.8Z" fill="#fdbf6f" fill-opacity="0.50" stroke="#fdbf6f" stroke-opacity="0.25" stroke-width="0.40"/>
<path d="M248.7,280.8 248.8,280.7 249.3,280.6 250.6,280.2 252.6,279.5 255,278.3 257.6,276.8 260.1,275 262.5,272.7 264.7,270 266.8,266.8 268.9,262.8 271,258 273.3,252.4 275.7,245.8 278.3,238.5 281.1,230.3 284,221.6 286.9,212.5 289.9,203.5 292.8,194.8 295.6,186.6 298.2,179.2 300.6,172.7 302.9,167.1 305,162.3 307.1,158.3 309.2,155 311.4,152.3 313.8,150.1 316.3,148.2 318.9,146.7 321.3,145.6 323.3,144.9 324.6,144.5 325.1,144.3 325.2,144.3 325.2,144.7 325.1,144.8 324.6,144.9 323.3,145.3 321.3,146 318.9,147.2 316.3,148.7 313.8,150.5 311.4,152.8 309.2,155.5 307.1,158.7 305,162.7 302.9,167.5 300.6,173.1 298.2,179.6 295.6,187 292.8,195.2 289.9,203.9 286.9,213 284,222 281.1,230.7 278.3,238.9 275.7,246.3 273.3,252.8 271,258.4 268.9,263.2 266.8,267.2 264.7,270.5 262.5,273.2 260.1,275.4 257.6,277.3 255,278.8 252.6,279.9 250.6,280.6 249.3,281 248.8,281.2 248.7,281.2Z" fill="#fdbf6f" fill-opacity="0.50" stroke="#fdbf6f" stroke-opacity="0.25" stroke-width="0.40"/>
<path d="M248.7,281.2 248.8,281.2 249.3,281.1 250.6,281 252.6,280.8 255,280.5 257.6,280.1 260.1,279.5 262.5,278.9 264.7,278.1 266.8,277.2 268.9,276 271,274.7 273.3,273.1 275.7,271.2 278.3,269.1 281.1,266.7 284,264.2 286.9,261.6 289.9,259 292.8,256.5 295.6,254.2 298.2,252.1 300.6,250.2 302.9,248.6 305,247.2 307.1,246.1 309.2,245.2 311.4,244.4 313.8,243.7 316.3,243.2 318.9,242.8 321.3,242.5 323.3,242.2 324.6,242.1 325.1,242.1 325.2,242.1 325.2,244.6 325.1,244.6 324.6,244.6 323.3,244.8 321.3,245 318.9,245.3 316.3,245.7 313.8,246.3 311.4,246.9 309.2,247.7 307.1,248.6 305,249.7 302.9,251.1 300.6,252.7 298.2,254.6 295.6,256.7 292.8,259.1 289.9,261.6 286.9,264.2 284,266.7 281.1,269.2 278.3,271.6 275.7,273.7 273.3,275.6 271,277.2 268.9,278.6 266.8,279.7 264.7,280.6 262.5,281.4 260.1,282.1 257.6,282.6 255,283 252.6,283.3 250.6,283.5 249.3,283.7 248.8,283.7 248.7,283.7Z" fill="#fdbf6f" fill-opacity="0.50" stroke="#fdbf6f" stroke-opacity="0.25" stroke-width="0.40"/>
<path d="M248.7,283.7 248.8,283.7 249.3,283.7 250.6,283.8 252.6,283.8 255,283.9 257.6,284 260.1,284.2 262.5,284.4 264.7,284.6 266.8,284.9 268.9,285.3 271,285.7 273.3,286.2 275.7,286.7 278.3,287.4 281.1,288.1 284,288.8 286.9,289.6 289.9,290.4 292.8,291.1 295.6,291.8 298.2,292.5 300.6,293 302.9,293.5 305,293.9 307.1,294.3 309.2,294.6 311.4,294.8 313.8,295 316.3,295.1 318.9,295.3 321.3,295.4 323.3,295.4 324.6,295.5 325.1,295.5 325.2,295.5 325.2,297.2 325.1,297.2 324.6,297.1 323.3,297.1 321.3,297.1 318.9,297 316.3,296.8 313.8,296.7 311.4,296.5 309.2,296.2 307.1,296 305,295.6 302.9,295.2 300.6,294.7 298.2,294.2 295.6,293.5 292.8,292.8 289.9,292.1 286.9,291.3 284,290.5 281.1,289.7 278.3,289 275.7,288.4 273.3,287.8 271,287.4 268.9,286.9 266.8,286.6 264.7,286.3 262.5,286.1 260.1,285.9 257.6,285.7 255,285.6 252.6,285.5 250.6,285.4 249.3,285.4 248.8,285.4 248.7,285.4Z" fill="#fdbf6f" fill-opacity="0.50" stroke="#fdbf6f" stroke-opacity="0.25" stroke-width="0.40"/>
<path d="M248.7,285.4 248.8,285.4 249.3,285.1 250.6,284.5 252.6,283.4 255,281.7 257.6,279.4 260.1,276.6 262.5,273.2 264.7,269.1 266.8,264.1 268.9,258.1 271,250.8 273.3,242.3 275.7,232.3 278.3,221.1 281.1,208.7 284,195.5 286.9,181.7 289.9,168 292.8,154.8 295.6,142.4 298.2,131.1 300.6,121.2 302.9,112.6 305,105.4 307.1,99.3 309.2,94.4 311.4,90.3 313.8,86.9 316.3,84 318.9,81.8 321.3,80.1 323.3,78.9 324.6,78.3 325.1,78.1 325.2,78.1 325.2,78.5 325.1,78.5 324.6,78.8 323.3,79.4 321.3,80.5 318.9,82.2 316.3,84.5 313.8,87.3 311.4,90.7 309.2,94.8 307.1,99.8 305,105.8 302.9,113.1 300.6,121.6 298.2,131.6 295.6,142.8 292.8,155.2 289.9,168.4 286.9,182.2 284,195.9 281.1,209.1 278.3,221.5 275.7,232.8 273.3,242.7 271,251.3 268.9,258.5 266.8,264.6 264.7,269.5 262.5,273.6 260.1,277 257.6,279.9 255,282.1 252.6,283.8 250.6,285 249.3,285.6 248.8,285.8 248.7,285.8Z" fill="#ff7f00" fill-opacity="0.50" stroke="#ff7f00" stroke-opacity="0.25" stroke-width="0.40"/>
<path d="M248.7,285.8 248.8,285.8 249.3,285.6 250.6,285 252.6,284 255,282.5 257.6,280.4 260.1,277.9 262.5,274.8 264.7,271.1 266.8,266.6 268.9,261.1 271,254.6 273.3,246.8 275.7,237.8 278.3,227.7 281.1,216.4 284,204.5 286.9,192 289.9,179.6 292.8,167.6 295.6,156.4 298.2,146.3 300.6,137.3 302.9,129.5 305,122.9 307.1,117.5 309.2,113 311.4,109.3 313.8,106.2 316.3,103.7 318.9,101.6 321.3,100.1 323.3,99 324.6,98.5 325.1,98.3 325.2,98.3 325.2,98.5 325.1,98.5 324.6,98.7 323.3,99.3 321.3,100.3 318.9,101.8 316.3,103.9 313.8,106.4 311.4,109.5 309.2,113.2 307.1,117.7 305,123.2 302.9,129.7 300.6,137.5 298.2,146.5 295.6,156.6 292.8,167.8 289.9,179.8 286.9,192.2 284,204.7 281.1,216.7 278.3,227.9 275.7,238 273.3,247 271,254.8 268.9,261.3 266.8,266.8 264.7,271.3 262.5,275 260.1,278.1 257.6,280.6 255,282.7 252.6,284.2 250.6,285.2 249.3,285.8 248.8,286 248.7,286Z" fill="#ff7f00" fill-opacity="0.50" stroke="#ff7f00" stroke-opacity="0.25" stroke-width="0.40"/>
<path d="M248.7,286 248.8,286 249.3,285.8 250.6,285.3 252.6,284.4 255,283.1 257.6,281.3 260.1,279 262.5,276.3 264.7,273.1 266.8,269.1 268.9,264.3 271,258.5 273.3,251.7 275.7,243.8 278.3,234.9 281.1,225.1 284,214.5 286.9,203.6 289.9,192.7 292.8,182.2 295.6,172.3 298.2,163.4 300.6,155.5 302.9,148.7 305,142.9 307.1,138.1 309.2,134.1 311.4,130.9 313.8,128.2 316.3,125.9 318.9,124.1 321.3,122.8 323.3,121.9 324.6,121.4 325.1,121.2 325.2,121.2 325.2,121.4 325.1,121.4 324.6,121.6 323.3,122.1 321.3,123 318.9,124.3 316.3,126.1 313.8,128.4 311.4,131.1 309.2,134.4 307.1,138.3 305,143.1 302.9,148.9 300.6,155.7 298.2,163.6 295.6,172.5 292.8,182.4 289.9,192.9 286.9,203.8 284,214.7 281.1,225.3 278.3,235.1 275.7,244.1 273.3,251.9 271,258.8 268.9,264.5 266.8,269.3 264.7,273.3 262.5,276.5 260.1,279.3 257.6,281.5 255,283.3 252.6,284.7 250.6,285.6 249.3,286 248.8,286.2 248.7,286.2Z" fill="#ff7f00" fill-opacity="0.50" stroke="#ff7f00" stroke-opacity="0.25" stroke-width="0.40"/>
<path d="M248.7,286.2 248.8,286.2 249.3,286 250.6,285.6 252.6,284.8 255,283.5 257.6,281.8 260.1,279.7 262.5,277.2 264.7,274.1 266.8,270.5 268.9,266 271,260.6 273.3,254.3 275.7,246.9 278.3,238.6 281.1,229.4 284,219.6 286.9,209.4 289.9,199.2 292.8,189.4 295.6,180.2 298.2,171.9 300.6,164.5 302.9,158.2 305,152.8 307.1,148.3 309.2,144.6 311.4,141.6 313.8,139 316.3,137 318.9,135.3 321.3,134 323.3,133.2 324.6,132.7 325.1,132.6 325.2,132.5 325.2,132.7 325.1,132.8 324.6,132.9 323.3,133.4 321.3,134.2 318.9,135.5 316.3,137.2 313.8,139.3 311.4,141.8 309.2,144.8 307.1,148.5 305,153 302.9,158.4 300.6,164.7 298.2,172.1 295.6,180.4 292.8,189.6 289.9,199.4 286.9,209.6 284,219.8 281.1,229.6 278.3,238.8 275.7,247.1 273.3,254.5 271,260.8 268.9,266.2 266.8,270.7 264.7,274.4 262.5,277.4 260.1,279.9 257.6,282 255,283.7 252.6,285 250.6,285.8 249.3,286.3 248.8,286.4 248.7,286.4Z" fill="#ff7f00" fill-opacity="0.50" stroke="#ff7f00" stroke-opacity="0.25" stroke-width="0.40"/>
<path d="M248.7,286.4 248.8,286.4 249.3,286.3 250.6,285.8 252.6,285 255,283.8 257.6,282.1 260.1,280.1 262.5,277.6 264.7,274.6 266.8,271 268.9,266.7 271,261.4 273.3,255.2 275.7,248 278.3,239.8 281.1,230.8 284,221.2 286.9,211.3 289.9,201.3 292.8,191.7 295.6,182.7 298.2,174.6 300.6,167.4 302.9,161.2 305,155.9 307.1,151.5 309.2,147.9 311.4,145 313.8,142.5 316.3,140.4 318.9,138.8 321.3,137.5 323.3,136.7 324.6,136.3 325.1,136.1 325.2,136.1 325.2,136.3 325.1,136.3 324.6,136.5 323.3,136.9 321.3,137.8 318.9,139 316.3,140.6 313.8,142.7 311.4,145.2 309.2,148.1 307.1,151.7 305,156.1 302.9,161.4 300.6,167.6 298.2,174.8 295.6,182.9 292.8,191.9 289.9,201.5 286.9,211.5 284,221.4 281.1,231.1 278.3,240 275.7,248.2 273.3,255.4 271,261.6 268.9,266.9 266.8,271.2 264.7,274.8 262.5,277.8 260.1,280.3 257.6,282.3 255,284 252.6,285.2 250.6,286 249.3,286.5 248.8,286.6 248.7,286.7Z" fill="#ff7f00" fill-opacity="0.50" stroke="#ff7f00" stroke-opacity="0.25" stroke-width="0.40"/>
<path d="M248.7,286.7 248.8,286.6 249.3,286.5 250.6,286.1 252.6,285.3 255,284.1 257.6,282.6 260.1,280.6 262.5,278.3 264.7,275.5 266.8,272.1 268.9,268 271,263 273.3,257.1 275.7,250.3 278.3,242.6 281.1,234.2 284,225.1 286.9,215.7 289.9,206.3 292.8,197.2 295.6,188.7 298.2,181 300.6,174.3 302.9,168.4 305,163.4 307.1,159.3 309.2,155.9 311.4,153.1 313.8,150.7 316.3,148.8 318.9,147.3 321.3,146.1 323.3,145.3 324.6,144.9 325.1,144.8 325.2,144.7 325.2,145.2 325.1,145.2 324.6,145.3 323.3,145.7 321.3,146.5 318.9,147.7 316.3,149.2 313.8,151.2 311.4,153.5 309.2,156.3 307.1,159.7 305,163.8 302.9,168.8 300.6,174.7 298.2,181.5 295.6,189.2 292.8,197.6 289.9,206.7 286.9,216.1 284,225.5 281.1,234.6 278.3,243.1 275.7,250.8 273.3,257.5 271,263.4 268.9,268.4 266.8,272.5 264.7,275.9 262.5,278.7 260.1,281.1 257.6,283 255,284.6 252.6,285.7 250.6,286.5 249.3,286.9 248.8,287.1 248.7,287.1Z" fill="#ff7f00" fill-opacity="0.50" stroke="#ff7f00" stroke-opacity="0.25" stroke-width="0.40"/>
<path d="M248.7,287.1 248.8,287.1 249.3,287 250.6,286.9 252.6,286.7 255,286.3 257.6,285.9 260.1,285.3 262.5,284.6 264.7,283.7 266.8,282.7 268.9,281.5 271,280 273.3,278.2 275.7,276.2 278.3,273.9 281.1,271.4 284,268.6 286.9,265.8 289.9,263 292.8,260.3 295.6,257.8 298.2,255.5 300.6,253.4 302.9,251.7 305,250.2 307.1,249 309.2,247.9 311.4,247.1 313.8,246.4 316.3,245.8 318.9,245.4 321.3,245 323.3,244.8 324.6,244.7 325.1,244.6 325.2,244.6 325.2,246.3 325.1,246.3 324.6,246.3 323.3,246.5 321.3,246.7 318.9,247 316.3,247.5 313.8,248.1 311.4,248.8 309.2,249.6 307.1,250.6 305,251.9 302.9,253.4 300.6,255.1 298.2,257.2 295.6,259.5 292.8,262 289.9,264.7 286.9,267.5 284,270.3 281.1,273 278.3,275.6 275.7,277.9 273.3,279.9 271,281.7 268.9,283.2 266.8,284.4 264.7,285.4 262.5,286.3 260.1,287 257.6,287.5 255,288 252.6,288.3 250.6,288.6 249.3,288.7 248.8,288.7 248.7,288.8Z" fill="#ff7f00" fill-opacity="0.50" stroke="#ff7f00" stroke-opacity="0.25" stroke-width="0.40"/>
<path d="M248.7,288.8 248.8,288.8 249.3,288.8 250.6,288.8 252.6,288.8 255,288.9 257.6,289 260.1,289.1 262.5,289.2 264.7,289.4 266.8,289.6 268.9,289.9 271,290.2 273.3,290.5 275.7,290.9 278.3,291.4 281.1,291.9 284,292.4 286.9,293 289.9,293.5 292.8,294.1 295.6,294.6 298.2,295 300.6,295.4 302.9,295.8 305,296.1 307.1,296.3 309.2,296.5 311.4,296.7 313.8,296.8 316.3,296.9 318.9,297 321.3,297.1 323.3,297.1 324.6,297.2 325.1,297.2 325.2,297.2 325.2,298.6 325.1,298.6 324.6,298.6 323.3,298.6 321.3,298.6 318.9,298.5 316.3,298.4 313.8,298.3 311.4,298.1 309.2,298 307.1,297.8 305,297.5 302.9,297.2 300.6,296.9 298.2,296.5 295.6,296 292.8,295.5 289.9,295 286.9,294.4 284,293.9 281.1,293.3 278.3,292.8 275.7,292.4 273.3,292 271,291.6 268.9,291.3 266.8,291.1 264.7,290.9 262.5,290.7 260.1,290.6 257.6,290.5 255,290.4 252.6,290.3 250.6,290.3 249.3,290.2 248.8,290.2 248.7,290.2Z" fill="#ff7f00" fill-opacity="0.50" stroke="#ff7f00" stroke-opacity="0.25" stroke-width="0.40"/>
<path d="M248.7,290.2 248.8,290.2 249.3,290 250.6,289.4 252.6,288.2 255,286.5 257.6,284.1 260.1,281.3 262.5,277.8 264.7,273.6 266.8,268.5 268.9,262.4 271,254.9 273.3,246.2 275.7,236 278.3,224.6 281.1,211.9 284,198.4 286.9,184.4 289.9,170.4 292.8,156.8 295.6,144.2 298.2,132.7 300.6,122.5 302.9,113.8 305,106.4 307.1,100.2 309.2,95.2 311.4,91 313.8,87.5 316.3,84.6 318.9,82.3 321.3,80.5 323.3,79.4 324.6,78.8 325.1,78.5 325.2,78.5 325.2,78.9 325.1,79 324.6,79.2 323.3,79.8 321.3,80.9 318.9,82.7 316.3,85 313.8,87.9 311.4,91.4 309.2,95.6 307.1,100.6 305,106.8 302.9,114.2 300.6,123 298.2,133.1 295.6,144.6 292.8,157.2 289.9,170.8 286.9,184.8 284,198.8 281.1,212.3 278.3,225 275.7,236.5 273.3,246.6 271,255.4 268.9,262.8 266.8,268.9 264.7,274 262.5,278.2 260.1,281.7 257.6,284.6 255,286.9 252.6,288.6 250.6,289.8 249.3,290.4 248.8,290.6 248.7,290.6Z" fill="#cab2d6" fill-opacity="0.50" stroke="#cab2d6" stroke-opacity="0.25" stroke-width="0.40"/>
<path d="M248.7,290.6 248.8,290.6 249.3,290.4 250.6,289.9 252.6,288.8 255,287.2 257.6,285.1 260.1,282.5 262.5,279.3 264.7,275.5 266.8,270.9 268.9,265.4 271,258.6 273.3,250.7 275.7,241.5 278.3,231.1 281.1,219.6 284,207.3 286.9,194.6 289.9,181.8 292.8,169.6 295.6,158.1 298.2,147.7 300.6,138.5 302.9,130.5 305,123.8 307.1,118.2 309.2,113.6 311.4,109.8 313.8,106.6 316.3,104 318.9,101.9 321.3,100.3 323.3,99.3 324.6,98.7 325.1,98.5 325.2,98.5 325.2,98.7 325.1,98.7 324.6,98.9 323.3,99.5 321.3,100.5 318.9,102.1 316.3,104.2 313.8,106.8 311.4,110 309.2,113.8 307.1,118.4 305,124 302.9,130.7 300.6,138.7 298.2,147.9 295.6,158.3 292.8,169.8 289.9,182.1 286.9,194.8 284,207.5 281.1,219.8 278.3,231.3 275.7,241.7 273.3,250.9 271,258.8 268.9,265.6 266.8,271.1 264.7,275.7 262.5,279.6 260.1,282.7 257.6,285.3 255,287.4 252.6,289 250.6,290.1 249.3,290.6 248.8,290.8 248.7,290.9Z" fill="#cab2d6" fill-opacity="0.50" stroke="#cab2d6" stroke-opacity="0.25" stroke-width="0.40"/>
<path d="M248.7,290.9 248.8,290.8 249.3,290.6 250.6,290.1 252.6,289.1 255,287.6 257.6,285.5 260.1,283 262.5,279.9 264.7,276.3 266.8,271.8 268.9,266.4 271,259.9 273.3,252.2 275.7,243.4 278.3,233.3 281.1,222.2 284,210.3 286.9,198 289.9,185.7 292.8,173.9 295.6,162.8 298.2,152.7 300.6,143.8 302.9,136.1 305,129.6 307.1,124.2 309.2,119.8 311.4,116.1 313.8,113.1 316.3,110.5 318.9,108.5 321.3,107 323.3,106 324.6,105.4 325.1,105.2 325.2,105.2 325.2,105.6 325.1,105.7 324.6,105.9 323.3,106.4 321.3,107.4 318.9,108.9 316.3,111 313.8,113.5 311.4,116.5 309.2,120.2 307.1,124.7 305,130.1 302.9,136.6 300.6,144.2 298.2,153.1 295.6,163.2 292.8,174.3 289.9,186.2 286.9,198.5 284,210.7 281.1,222.6 278.3,233.7 275.7,243.8 273.3,252.7 271,260.3 268.9,266.8 266.8,272.2 264.7,276.7 262.5,280.4 260.1,283.4 257.6,285.9 255,288 252.6,289.5 250.6,290.5 249.3,291.1 248.8,291.2 248.7,291.3Z" fill="#cab2d6" fill-opacity="0.50" stroke="#cab2d6" stroke-opacity="0.25" stroke-width="0.40"/>
<path d="M248.7,291.3 248.8,291.3 249.3,291.1 250.6,290.6 252.6,289.6 255,288.2 257.6,286.3 260.1,283.9 262.5,281 264.7,277.5 266.8,273.3 268.9,268.3 271,262.1 273.3,254.9 275.7,246.5 278.3,237 281.1,226.6 284,215.4 286.9,203.8 289.9,192.2 292.8,181 295.6,170.6 298.2,161.1 300.6,152.7 302.9,145.5 305,139.4 307.1,134.3 309.2,130.1 311.4,126.6 313.8,123.8 316.3,121.4 318.9,119.5 321.3,118 323.3,117.1 324.6,116.6 325.1,116.4 325.2,116.3 325.2,116.8 325.1,116.8 324.6,117 323.3,117.5 321.3,118.4 318.9,119.9 316.3,121.8 313.8,124.2 311.4,127.1 309.2,130.5 307.1,134.7 305,139.8 302.9,145.9 300.6,153.2 298.2,161.5 295.6,171 292.8,181.5 289.9,192.7 286.9,204.2 284,215.8 281.1,227 278.3,237.5 275.7,246.9 273.3,255.3 271,262.5 268.9,268.7 266.8,273.8 264.7,277.9 262.5,281.4 260.1,284.3 257.6,286.7 255,288.6 252.6,290 250.6,291 249.3,291.5 248.8,291.7 248.7,291.7Z" fill="#cab2d6" fill-opacity="0.50" stroke="#cab2d6" stroke-opacity="0.25" stroke-width="0.40"/>
<path d="M248.7,291.7 248.8,291.7 249.3,291.5 250.6,291 252.6,290.1 255,288.7 257.6,286.8 260.1,284.5 262.5,281.7 264.7,278.3 266.8,274.2 268.9,269.3 271,263.3 273.3,256.3 275.7,248.1 278.3,238.9 281.1,228.7 284,217.8 286.9,206.5 289.9,195.3 292.8,184.4 295.6,174.2 298.2,165 300.6,156.8 302.9,149.8 305,143.8 307.1,138.9 309.2,134.8 311.4,131.4 313.8,128.6 316.3,126.3 318.9,124.4 321.3,123 323.3,122.1 324.6,121.6 325.1,121.4 325.2,121.4 325.2,121.6 325.1,121.6 324.6,121.8 323.3,122.3 321.3,123.2 318.9,124.6 316.3,126.5 313.8,128.8 311.4,131.6 309.2,135 307.1,139.1 305,144 302.9,150 300.6,157 298.2,165.2 295.6,174.4 292.8,184.6 289.9,195.5 286.9,206.8 284,218 281.1,228.9 278.3,239.1 275.7,248.3 273.3,256.5 271,263.5 268.9,269.5 266.8,274.4 264.7,278.5 262.5,281.9 260.1,284.7 257.6,287 255,288.9 252.6,290.3 250.6,291.2 249.3,291.7 248.8,291.9 248.7,291.9Z" fill="#cab2d6" fill-opacity="0.50" stroke="#cab2d6" stroke-opacity="0.25" stroke-width="0.40"/>
<path d="M248.7,291.9 248.8,291.9 249.3,291.7 250.6,291.2 252.6,290.3 255,289 257.6,287.1 260.1,284.9 262.5,282.1 264.7,278.8 266.8,274.9 268.9,270 271,264.2 273.3,257.3 275.7,249.4 278.3,240.3 281.1,230.4 284,219.8 286.9,208.8 289.9,197.7 292.8,187.1 295.6,177.2 298.2,168.2 300.6,160.2 302.9,153.3 305,147.5 307.1,142.7 309.2,138.7 311.4,135.4 313.8,132.6 316.3,130.4 318.9,128.6 321.3,127.2 323.3,126.3 324.6,125.8 325.1,125.6 325.2,125.6 325.2,125.8 325.1,125.8 324.6,126 323.3,126.5 321.3,127.4 318.9,128.8 316.3,130.6 313.8,132.9 311.4,135.6 309.2,138.9 307.1,142.9 305,147.7 302.9,153.5 300.6,160.4 298.2,168.4 295.6,177.4 292.8,187.3 289.9,198 286.9,209 284,220 281.1,230.6 278.3,240.5 275.7,249.6 273.3,257.5 271,264.4 268.9,270.2 266.8,275.1 264.7,279 262.5,282.3 260.1,285.1 257.6,287.3 255,289.2 252.6,290.5 250.6,291.4 249.3,291.9 248.8,292.1 248.7,292.1Z" fill="#cab2d6" fill-opacity="0.50" stroke="#cab2d6" stroke-opacity="0.25" stroke-width="0.40"/>
<path d="M248.7,292.1 248.8,292.1 249.3,291.9 250.6,291.5 252.6,290.6 255,289.4 257.6,287.6 260.1,285.5 262.5,283 264.7,279.9 266.8,276.1 268.9,271.6 271,266.2 273.3,259.7 275.7,252.3 278.3,243.8 281.1,234.5 284,224.5 286.9,214.2 289.9,203.9 292.8,193.9 295.6,184.6 298.2,176.2 300.6,168.7 302.9,162.3 305,156.8 307.1,152.3 309.2,148.6 311.4,145.5 313.8,142.9 316.3,140.8 318.9,139.1 321.3,137.8 323.3,137 324.6,136.5 325.1,136.3 325.2,136.3 325.2,136.5 325.1,136.6 324.6,136.7 323.3,137.2 321.3,138 318.9,139.3 316.3,141 313.8,143.1 311.4,145.7 309.2,148.8 307.1,152.5 305,157 302.9,162.5 300.6,168.9 298.2,176.4 295.6,184.8 292.8,194.2 289.9,204.1 286.9,214.4 284,224.7 281.1,234.7 278.3,244 275.7,252.5 273.3,259.9 271,266.4 268.9,271.8 266.8,276.4 264.7,280.1 262.5,283.2 260.1,285.7 257.6,287.9 255,289.6 252.6,290.8 250.6,291.7 249.3,292.1 248.8,292.3 248.7,292.3Z" fill="#cab2d6" fill-opacity="0.50" stroke="#cab2d6" stroke-opacity="0.25" stroke-width="0.40"/>
<path d="M248.7,292.3 248.8,292.3 249.3,292.1 250.6,291.7 252.6,290.9 255,289.7 257.6,288.1 260.1,286.1 262.5,283.7 264.7,280.8 266.8,277.2 268.9,273 271,267.8 273.3,261.7 275.7,254.7 278.3,246.7 281.1,237.9 284,228.5 286.9,218.7 289.9,209 292.8,199.6 295.6,190.8 298.2,182.8 300.6,175.8 302.9,169.7 305,164.5 307.1,160.2 309.2,156.7 311.4,153.8 313.8,151.4 316.3,149.4 318.9,147.8 321.3,146.6 323.3,145.8 324.6,145.3 325.1,145.2 325.2,145.2 325.2,146.6 325.1,146.6 324.6,146.8 323.3,147.2 321.3,148 318.9,149.2 316.3,150.9 313.8,152.9 311.4,155.3 309.2,158.2 307.1,161.7 305,166 302.9,171.2 300.6,177.2 298.2,184.3 295.6,192.3 292.8,201.1 289.9,210.5 286.9,220.2 284,230 281.1,239.4 278.3,248.2 275.7,256.1 273.3,263.2 271,269.3 268.9,274.4 266.8,278.7 264.7,282.2 262.5,285.1 260.1,287.6 257.6,289.6 255,291.2 252.6,292.4 250.6,293.2 249.3,293.6 248.8,293.8 248.7,293.8Z" fill="#cab2d6" fill-opacity="0.50" stroke="#cab2d6" stroke-opacity="0.25" stroke-width="0.40"/>
<path d="M248.7,293.8 248.8,293.8 249.3,293.7 250.6,293.6 252.6,293.3 255,293 257.6,292.4 260.1,291.8 262.5,291 264.7,290.1 266.8,288.9 268.9,287.5 271,285.9 273.3,283.9 275.7,281.6 278.3,279.1 281.1,276.2 284,273.2 286.9,270 289.9,266.9 292.8,263.9 295.6,261 298.2,258.4 300.6,256.2 302.9,254.2 305,252.5 307.1,251.2 309.2,250 311.4,249.1 313.8,248.3 316.3,247.6 318.9,247.1 321.3,246.7 323.3,246.5 324.6,246.3 325.1,246.3 325.2,246.3 325.2,251.1 325.1,251.1 324.6,251.2 323.3,251.3 321.3,251.6 318.9,252 316.3,252.5 313.8,253.1 311.4,253.9 309.2,254.9 307.1,256 305,257.4 302.9,259 300.6,261 298.2,263.3 295.6,265.9 292.8,268.7 289.9,271.7 286.9,274.9 284,278 281.1,281.1 278.3,283.9 275.7,286.5 273.3,288.8 271,290.7 268.9,292.4 266.8,293.8 264.7,294.9 262.5,295.8 260.1,296.6 257.6,297.3 255,297.8 252.6,298.2 250.6,298.4 249.3,298.6 248.8,298.6 248.7,298.6Z" fill="#cab2d6" fill-opacity="0.50" stroke="#cab2d6" stroke-opacity="0.25" stroke-width="0.40"/>
<path d="M248.7,298.6 248.8,298.6 249.3,298.6 250.6,298.6 252.6,298.6 255,298.6 257.6,298.6 260.1,298.6 262.5,298.6 264.7,298.6 266.8,298.6 268.9,298.6 271,298.6 273.3,298.6 275.7,298.6 278.3,298.6 281.1,298.6 284,298.6 286.9,298.6 289.9,298.6 292.8,298.6 295.6,298.6 298.2,298.6 300.6,298.6 302.9,298.6 305,298.6 307.1,298.6 309.2,298.6 311.4,298.6 313.8,298.6 316.3,298.6 318.9,298.6 321.3,298.6 323.3,298.6 324.6,298.6 325.1,298.6 325.2,298.6 325.2,302 325.1,302 324.6,302 323.3,302 321.3,302 318.9,302 316.3,302 313.8,302 311.4,302 309.2,302 307.1,302 305,302 302.9,302 300.6,302 298.2,302 295.6,302 292.8,302 289.9,302 286.9,302 284,302 281.1,302 278.3,302 275.7,302 273.3,302 271,302 268.9,302 266.8,302 264.7,302 262.5,302 260.1,302 257.6,302 255,302 252.6,302 250.6,302 249.3,302 248.8,302 248.7,302Z" fill="#cab2d6" fill-opacity="0.50" stroke="#cab2d6" stroke-opacity="0.25" stroke-width="0.40"/>
<path d="M376.7,32.2 376.8,32.2 377.3,32.2 378.6,32.2 380.6,32.2 383,32.2 385.6,32.2 388.1,32.2 390.5,32.2 392.7,32.2 394.8,32.2 396.9,32.2 399,32.2 401.3,32.2 403.7,32.2 406.3,32.2 409.1,32.2 412,32.2 414.9,32.2 417.9,32.2 420.8,32.2 423.6,32.2 426.2,32.2 428.6,32.2 430.9,32.2 433,32.2 435.1,32.2 437.2,32.2 439.4,32.2 441.8,32.2 444.3,32.2 446.9,32.2 449.3,32.2 451.3,32.2 452.6,32.2 453.1,32.2 453.2,32.2 453.2,37.3 453.1,37.3 452.6,37.3 451.3,37.3 449.3,37.3 446.9,37.3 444.3,37.3 441.8,37.3 439.4,37.3 437.2,37.3 435.1,37.3 433,37.3 430.9,37.3 428.6,37.3 426.2,37.3 423.6,37.3 420.8,37.3 417.9,37.3 414.9,37.3 412,37.3 409.1,37.3 406.3,37.3 403.7,37.3 401.3,37.3 399,37.3 396.9,37.3 394.8,37.3 392.7,37.3 390.5,37.3 388.1,37.3 385.6,37.3 383,37.3 380.6,37.3 378.6,37.3 377.3,37.3 376.8,37.3 376.7,37.3Z" fill="#a6cee3" fill-opacity="0.50" stroke="#a6cee3" stroke-opacity="0.25" stroke-width="0.40"/>
<path d="M376.7,37.3 376.8,37.3 377.3,37.3 378.6,37.3 380.6,37.4 383,37.5 385.6,37.6 388.1,37.7 390.5,37.9 392.7,38.1 394.8,38.3 396.9,38.6 399,38.9 401.3,39.4 403.7,39.8 406.3,40.4 409.1,41 412,41.6 414.9,42.2 417.9,42.9 420.8,43.5 423.6,44.1 426.2,44.6 428.6,45.1 430.9,45.5 433,45.9 435.1,46.2 437.2,46.4 439.4,46.6 441.8,46.8 444.3,46.9 446.9,47 449.3,47.1 451.3,47.1 452.6,47.2 453.1,47.2 453.2,47.2 453.2,48.6 453.1,48.6 452.6,48.6 451.3,48.6 449.3,48.6 446.9,48.5 444.3,48.4 441.8,48.2 439.4,48.1 437.2,47.9 435.1,47.6 433,47.3 430.9,47 428.6,46.6 426.2,46.1 423.6,45.6 420.8,45 417.9,44.4 414.9,43.7 412,43.1 409.1,42.4 406.3,41.8 403.7,41.3 401.3,40.8 399,40.4 396.9,40.1 394.8,39.8 392.7,39.5 390.5,39.3 388.1,39.2 385.6,39.1 383,38.9 380.6,38.9 378.6,38.8 377.3,38.8 376.8,38.8 376.7,38.8Z" fill="#a6cee3" fill-opacity="0.50" stroke="#a6cee3" stroke-opacity="0.25" stroke-width="0.40"/>
<path d="M376.7,38.8 376.8,38.8 377.3,38.8 378.6,38.8 380.6,38.9 383,39 385.6,39.2 388.1,39.4 390.5,39.7 392.7,40 394.8,40.3 396.9,40.8 399,41.3 401.3,42 403.7,42.7 406.3,43.5 409.1,44.4 412,45.4 414.9,46.4 417.9,47.5 420.8,48.4 423.6,49.4 426.2,50.2 428.6,50.9 430.9,51.6 433,52.1 435.1,52.5 437.2,52.9 439.4,53.2 441.8,53.5 444.3,53.7 446.9,53.8 449.3,54 451.3,54.1 452.6,54.1 453.1,54.1 453.2,54.1 453.2,55.2 453.1,55.2 452.6,55.1 451.3,55.1 449.3,55 446.9,54.9 444.3,54.7 441.8,54.5 439.4,54.3 437.2,54 435.1,53.6 433,53.1 430.9,52.6 428.6,52 426.2,51.2 423.6,50.4 420.8,49.5 417.9,48.5 414.9,47.5 412,46.5 409.1,45.5 406.3,44.6 403.7,43.7 401.3,43 399,42.4 396.9,41.8 394.8,41.4 392.7,41 390.5,40.7 388.1,40.5 385.6,40.3 383,40.1 380.6,40 378.6,39.9 377.3,39.8 376.8,39.8 376.7,39.8Z" fill="#a6cee3" fill-opacity="0.50" stroke="#a6cee3" stroke-opacity="0.25" stroke-width="0.40"/>
<path d="M376.7,39.8 376.8,39.8 377.3,39.8 378.6,39.9 380.6,40 383,40.1 385.6,40.3 388.1,40.6 390.5,40.9 392.7,41.3 394.8,41.7 396.9,42.3 399,42.9 401.3,43.7 403.7,44.6 406.3,45.6 409.1,46.7 412,47.8 414.9,49.1 417.9,50.3 420.8,51.5 423.6,52.6 426.2,53.6 428.6,54.5 430.9,55.2 433,55.9 435.1,56.4 437.2,56.9 439.4,57.2 441.8,57.5 444.3,57.8 446.9,58 449.3,58.1 451.3,58.2 452.6,58.3 453.1,58.3 453.2,58.3 453.2,59.8 453.1,59.8 452.6,59.8 451.3,59.7 449.3,59.6 446.9,59.5 444.3,59.3 441.8,59 439.4,58.7 437.2,58.3 435.1,57.9 433,57.4 430.9,56.7 428.6,55.9 426.2,55.1 423.6,54.1 420.8,52.9 417.9,51.8 414.9,50.5 412,49.3 409.1,48.1 406.3,47 403.7,46 401.3,45.1 399,44.4 396.9,43.7 394.8,43.2 392.7,42.7 390.5,42.4 388.1,42.1 385.6,41.8 383,41.6 380.6,41.5 378.6,41.4 377.3,41.3 376.8,41.3 376.7,41.3Z" fill="#a6cee3" fill-opacity="0.50" stroke="#a6cee3" stroke-opacity="0.25" stroke-width="0.40"/>
<path d="M376.7,41.3 376.8,41.3 377.3,41.3 378.6,41.4 380.6,41.5 383,41.7 385.6,42 388.1,42.3 390.5,42.7 392.7,43.1 394.8,43.7 396.9,44.3 399,45.1 401.3,46.1 403.7,47.2 406.3,48.5 409.1,49.8 412,51.3 414.9,52.9 417.9,54.4 420.8,55.9 423.6,57.2 426.2,58.5 428.6,59.6 430.9,60.6 433,61.4 435.1,62 437.2,62.6 439.4,63.1 441.8,63.4 444.3,63.8 446.9,64 449.3,64.2 451.3,64.3 452.6,64.4 453.1,64.4 453.2,64.4 453.2,65.3 453.1,65.3 452.6,65.2 451.3,65.2 449.3,65 446.9,64.8 444.3,64.6 441.8,64.3 439.4,63.9 437.2,63.4 435.1,62.9 433,62.2 430.9,61.4 428.6,60.4 426.2,59.3 423.6,58.1 420.8,56.7 417.9,55.2 414.9,53.7 412,52.2 409.1,50.7 406.3,49.3 403.7,48 401.3,46.9 399,46 396.9,45.2 394.8,44.5 392.7,43.9 390.5,43.5 388.1,43.1 385.6,42.8 383,42.5 380.6,42.4 378.6,42.2 377.3,42.2 376.8,42.1 376.7,42.1Z" fill="#a6cee3" fill-opacity="0.50" stroke="#a6cee3" stroke-opacity="0.25" stroke-width="0.40"/>
<path d="M376.7,42.1 376.8,42.1 377.3,42.2 378.6,42.2 380.6,42.4 383,42.6 385.6,42.8 388.1,43.2 390.5,43.6 392.7,44.1 394.8,44.7 396.9,45.4 399,46.3 401.3,47.3 403.7,48.5 406.3,49.9 409.1,51.4 412,53 414.9,54.6 417.9,56.3 420.8,57.9 423.6,59.4 426.2,60.7 428.6,61.9 430.9,63 433,63.9 435.1,64.6 437.2,65.2 439.4,65.7 441.8,66.1 444.3,66.4 446.9,66.7 449.3,66.9 451.3,67 452.6,67.1 453.1,67.1 453.2,67.2 453.2,68 453.1,68 452.6,68 451.3,67.9 449.3,67.8 446.9,67.5 444.3,67.3 441.8,66.9 439.4,66.5 437.2,66 435.1,65.4 433,64.7 430.9,63.8 428.6,62.8 426.2,61.6 423.6,60.2 420.8,58.7 417.9,57.1 414.9,55.5 412,53.8 409.1,52.2 406.3,50.7 403.7,49.4 401.3,48.2 399,47.1 396.9,46.3 394.8,45.5 392.7,44.9 390.5,44.4 388.1,44 385.6,43.7 383,43.4 380.6,43.2 378.6,43.1 377.3,43 376.8,43 376.7,43Z" fill="#a6cee3" fill-opacity="0.50" stroke="#a6cee3" stroke-opacity="0.25" stroke-width="0.40"/>
<path d="M376.7,43 376.8,43 377.3,43 378.6,43.1 380.6,43.2 383,43.5 385.6,43.8 388.1,44.1 390.5,44.6 392.7,45.1 394.8,45.8 396.9,46.6 399,47.6 401.3,48.7 403.7,50 406.3,51.5 409.1,53.2 412,54.9 414.9,56.7 417.9,58.6 420.8,60.3 423.6,62 426.2,63.5 428.6,64.8 430.9,65.9 433,66.9 435.1,67.7 437.2,68.3 439.4,68.9 441.8,69.3 444.3,69.7 446.9,70 449.3,70.3 451.3,70.4 452.6,70.5 453.1,70.5 453.2,70.5 453.2,70.9 453.1,70.9 452.6,70.9 451.3,70.8 449.3,70.7 446.9,70.4 444.3,70.1 441.8,69.8 439.4,69.3 437.2,68.8 435.1,68.1 433,67.3 430.9,66.3 428.6,65.2 426.2,63.9 423.6,62.4 420.8,60.7 417.9,59 414.9,57.2 412,55.3 409.1,53.6 406.3,51.9 403.7,50.4 401.3,49.1 399,48 396.9,47 394.8,46.2 392.7,45.6 390.5,45 388.1,44.6 385.6,44.2 383,43.9 380.6,43.7 378.6,43.5 377.3,43.4 376.8,43.4 376.7,43.4Z" fill="#a6cee3" fill-opacity="0.50" stroke="#a6cee3" stroke-opacity="0.25" stroke-width="0.40"/>
<path d="M376.7,43.4 376.8,43.4 377.3,43.4 378.6,43.5 380.6,43.7 383,43.9 385.6,44.2 388.1,44.6 390.5,45.1 392.7,45.7 394.8,46.4 396.9,47.2 399,48.3 401.3,49.5 403.7,50.9 406.3,52.5 409.1,54.2 412,56.1 414.9,58 417.9,59.9 420.8,61.8 423.6,63.6 426.2,65.1 428.6,66.5 430.9,67.7 433,68.8 435.1,69.6 437.2,70.3 439.4,70.9 441.8,71.4 444.3,71.8 446.9,72.1 449.3,72.3 451.3,72.5 452.6,72.6 453.1,72.6 453.2,72.6 453.2,73.2 453.1,73.2 452.6,73.2 451.3,73.1 449.3,73 446.9,72.7 444.3,72.4 441.8,72 439.4,71.5 437.2,71 435.1,70.3 433,69.4 430.9,68.4 428.6,67.2 426.2,65.8 423.6,64.2 420.8,62.4 417.9,60.6 414.9,58.6 412,56.7 409.1,54.8 406.3,53.1 403.7,51.5 401.3,50.1 399,48.9 396.9,47.9 394.8,47 392.7,46.3 390.5,45.7 388.1,45.3 385.6,44.9 383,44.5 380.6,44.3 378.6,44.1 377.3,44.1 376.8,44 376.7,44Z" fill="#a6cee3" fill-opacity="0.50" stroke="#a6cee3" stroke-opacity="0.25" stroke-width="0.40"/>
<path d="M376.7,44 376.8,44 377.3,44.1 378.6,44.2 380.6,44.3 383,44.6 385.6,44.9 388.1,45.4 390.5,45.9 392.7,46.5 394.8,47.3 396.9,48.2 399,49.3 401.3,50.6 403.7,52.1 406.3,53.9 409.1,55.8 412,57.8 414.9,59.9 417.9,62 420.8,64 423.6,65.9 426.2,67.6 428.6,69.2 430.9,70.5 433,71.6 435.1,72.5 437.2,73.3 439.4,73.9 441.8,74.4 444.3,74.9 446.9,75.2 449.3,75.5 451.3,75.6 452.6,75.7 453.1,75.8 453.2,75.8 453.2,77 453.1,77 452.6,77 451.3,76.9 449.3,76.7 446.9,76.5 444.3,76.1 441.8,75.7 439.4,75.2 437.2,74.5 435.1,73.8 433,72.9 430.9,71.7 428.6,70.4 426.2,68.9 423.6,67.2 420.8,65.3 417.9,63.3 414.9,61.2 412,59.1 409.1,57 406.3,55.1 403.7,53.4 401.3,51.9 399,50.6 396.9,49.5 394.8,48.5 392.7,47.8 390.5,47.2 388.1,46.6 385.6,46.2 383,45.8 380.6,45.6 378.6,45.4 377.3,45.3 376.8,45.3 376.7,45.3Z" fill="#a6cee3" fill-opacity="0.50" stroke="#a6cee3" stroke-opacity="0.25" stroke-width="0.40"/>
<path d="M376.7,45.3 376.8,45.3 377.3,45.3 378.6,45.4 380.6,45.6 383,45.9 385.6,46.3 388.1,46.7 390.5,47.3 392.7,48 394.8,48.8 396.9,49.8 399,51 401.3,52.5 403.7,54.1 406.3,56 409.1,58 412,60.2 414.9,62.5 417.9,64.8 420.8,67 423.6,69.1 426.2,70.9 428.6,72.6 430.9,74 433,75.2 435.1,76.2 437.2,77.1 439.4,77.7 441.8,78.3 444.3,78.8 446.9,79.2 449.3,79.4 451.3,79.6 452.6,79.7 453.1,79.8 453.2,79.8 453.2,100.8 453.1,100.8 452.6,100.7 451.3,100.6 449.3,100.5 446.9,100.2 444.3,99.8 441.8,99.3 439.4,98.8 437.2,98.1 435.1,97.3 433,96.3 430.9,95 428.6,93.6 426.2,92 423.6,90.1 420.8,88 417.9,85.8 414.9,83.6 412,81.3 409.1,79.1 406.3,77 403.7,75.1 401.3,73.5 399,72.1 396.9,70.8 394.8,69.8 392.7,69 390.5,68.3 388.1,67.8 385.6,67.3 383,66.9 380.6,66.6 378.6,66.5 377.3,66.4 376.8,66.3 376.7,66.3Z" fill="#a6cee3" fill-opacity="0.50" stroke="#a6cee3" stroke-opacity="0.25" stroke-width="0.40"/>
<path d="M376.7,66.3 376.8,66.3 377.3,66.5 378.6,67 380.6,67.9 383,69.2 385.6,71 388.1,73.2 390.5,75.8 392.7,79 394.8,82.9 396.9,87.6 399,93.3 401.3,99.9 403.7,107.7 406.3,116.4 409.1,126.1 412,136.4 414.9,147.2 417.9,157.9 420.8,168.2 423.6,177.9 426.2,186.6 428.6,194.4 430.9,201 433,206.7 435.1,211.4 437.2,215.3 439.4,218.5 441.8,221.1 444.3,223.3 446.9,225.1 449.3,226.4 451.3,227.3 452.6,227.8 453.1,228 453.2,228 453.2,240.6 453.1,240.6 452.6,240.4 451.3,239.9 449.3,239.1 446.9,237.7 444.3,236 441.8,233.8 439.4,231.1 437.2,227.9 435.1,224 433,219.3 430.9,213.7 428.6,207 426.2,199.2 423.6,190.5 420.8,180.8 417.9,170.5 414.9,159.8 412,149.1 409.1,138.7 406.3,129.1 403.7,120.3 401.3,112.6 399,105.9 396.9,100.2 394.8,95.5 392.7,91.6 390.5,88.4 388.1,85.8 385.6,83.6 383,81.8 380.6,80.5 378.6,79.6 377.3,79.1 376.8,78.9 376.7,78.9Z" fill="#a6cee3" fill-opacity="0.50" stroke="#a6cee3" stroke-opacity="0.25" stroke-width="0.40"/>
<path d="M376.7,78.9 376.8,78.9 377.3,78.9 378.6,78.8 380.6,78.5 383,78.2 385.6,77.7 388.1,77.2 390.5,76.5 392.7,75.7 394.8,74.7 396.9,73.4 399,72 401.3,70.3 403.7,68.3 406.3,66 409.1,63.5 412,60.9 414.9,58.1 417.9,55.4 420.8,52.7 423.6,50.2 426.2,47.9 428.6,46 430.9,44.2 433,42.8 435.1,41.6 437.2,40.6 439.4,39.7 441.8,39.1 444.3,38.5 446.9,38 449.3,37.7 451.3,37.5 452.6,37.3 453.1,37.3 453.2,37.3 453.2,43.2 453.1,43.2 452.6,43.2 451.3,43.4 449.3,43.6 446.9,43.9 444.3,44.4 441.8,44.9 439.4,45.6 437.2,46.5 435.1,47.5 433,48.7 430.9,50.1 428.6,51.8 426.2,53.8 423.6,56.1 420.8,58.6 417.9,61.2 414.9,64 412,66.8 409.1,69.4 406.3,71.9 403.7,74.2 401.3,76.2 399,77.9 396.9,79.3 394.8,80.5 392.7,81.5 390.5,82.4 388.1,83 385.6,83.6 383,84.1 380.6,84.4 378.6,84.6 377.3,84.8 376.8,84.8 376.7,84.8Z" fill="#4371bb" fill-opacity="0.50" stroke="#4371bb" stroke-opacity="0.25" stroke-width="0.40"/>
<path d="M376.7,84.8 376.8,84.8 377.3,84.8 378.6,84.7 380.6,84.5 383,84.2 385.6,83.8 388.1,83.3 390.5,82.7 392.7,82 394.8,81.1 396.9,80.1 399,78.8 401.3,77.3 403.7,75.6 406.3,73.6 409.1,71.4 412,69.1 414.9,66.7 417.9,64.3 420.8,62 423.6,59.9 426.2,57.9 428.6,56.2 430.9,54.7 433,53.4 435.1,52.4 437.2,51.5 439.4,50.8 441.8,50.2 444.3,49.7 446.9,49.3 449.3,49 451.3,48.8 452.6,48.7 453.1,48.7 453.2,48.6 453.2,50.3 453.1,50.3 452.6,50.4 451.3,50.5 449.3,50.7 446.9,51 444.3,51.4 441.8,51.9 439.4,52.5 437.2,53.2 435.1,54 433,55.1 430.9,56.4 428.6,57.9 426.2,59.6 423.6,61.5 420.8,63.7 417.9,66 414.9,68.4 412,70.8 409.1,73.1 406.3,75.3 403.7,77.2 401.3,79 399,80.5 396.9,81.7 394.8,82.8 392.7,83.7 390.5,84.4 388.1,85 385.6,85.5 383,85.9 380.6,86.1 378.6,86.3 377.3,86.4 376.8,86.5 376.7,86.5Z" fill="#4371bb" fill-opacity="0.50" stroke="#4371bb" stroke-opacity="0.25" stroke-width="0.40"/>
<path d="M376.7,86.5 376.8,86.5 377.3,86.5 378.6,86.4 380.6,86.2 383,85.9 385.6,85.6 388.1,85.2 390.5,84.7 392.7,84 394.8,83.3 396.9,82.4 399,81.3 401.3,80 403.7,78.5 406.3,76.8 409.1,74.9 412,72.9 414.9,70.8 417.9,68.8 420.8,66.8 423.6,64.9 426.2,63.2 428.6,61.7 430.9,60.4 433,59.3 435.1,58.4 437.2,57.6 439.4,57 441.8,56.5 444.3,56.1 446.9,55.7 449.3,55.5 451.3,55.3 452.6,55.2 453.1,55.2 453.2,55.2 453.2,56 453.1,56 452.6,56 451.3,56.1 449.3,56.3 446.9,56.6 444.3,56.9 441.8,57.3 439.4,57.9 437.2,58.5 435.1,59.2 433,60.1 430.9,61.2 428.6,62.5 426.2,64 423.6,65.7 420.8,67.6 417.9,69.6 414.9,71.7 412,73.7 409.1,75.7 406.3,77.6 403.7,79.3 401.3,80.8 399,82.1 396.9,83.2 394.8,84.1 392.7,84.9 390.5,85.5 388.1,86 385.6,86.4 383,86.8 380.6,87 378.6,87.2 377.3,87.3 376.8,87.3 376.7,87.3Z" fill="#4371bb" fill-opacity="0.50" stroke="#4371bb" stroke-opacity="0.25" stroke-width="0.40"/>
<path d="M376.7,87.3 376.8,87.3 377.3,87.3 378.6,87.2 380.6,87.1 383,86.8 385.6,86.5 388.1,86.2 390.5,85.7 392.7,85.2 394.8,84.5 396.9,83.7 399,82.7 401.3,81.6 403.7,80.3 406.3,78.8 409.1,77.1 412,75.4 414.9,73.6 417.9,71.7 420.8,70 423.6,68.3 426.2,66.8 428.6,65.5 430.9,64.4 433,63.4 435.1,62.6 437.2,62 439.4,61.4 441.8,61 444.3,60.6 446.9,60.3 449.3,60.1 451.3,59.9 452.6,59.8 453.1,59.8 453.2,59.8 453.2,60.6 453.1,60.6 452.6,60.7 451.3,60.7 449.3,60.9 446.9,61.1 444.3,61.4 441.8,61.8 439.4,62.3 437.2,62.8 435.1,63.5 433,64.3 430.9,65.2 428.6,66.4 426.2,67.7 423.6,69.2 420.8,70.8 417.9,72.6 414.9,74.4 412,76.2 409.1,78 406.3,79.6 403.7,81.1 401.3,82.4 399,83.6 396.9,84.6 394.8,85.4 392.7,86 390.5,86.6 388.1,87 385.6,87.4 383,87.7 380.6,87.9 378.6,88.1 377.3,88.1 376.8,88.2 376.7,88.2Z" fill="#4371bb" fill-opacity="0.50" stroke="#4371bb" stroke-opacity="0.25" stroke-width="0.40"/>
<path d="M376.7,88.2 376.8,88.2 377.3,88.1 378.6,88.1 380.6,88 383,87.8 385.6,87.5 388.1,87.2 390.5,86.8 392.7,86.4 394.8,85.8 396.9,85.2 399,84.4 401.3,83.4 403.7,82.3 406.3,81.1 409.1,79.7 412,78.2 414.9,76.7 417.9,75.2 420.8,73.7 423.6,72.4 426.2,71.1 428.6,70 430.9,69.1 433,68.3 435.1,67.6 437.2,67.1 439.4,66.6 441.8,66.2 444.3,65.9 446.9,65.7 449.3,65.5 451.3,65.4 452.6,65.3 453.1,65.3 453.2,65.3 453.2,65.5 453.1,65.5 452.6,65.5 451.3,65.6 449.3,65.7 446.9,65.9 444.3,66.1 441.8,66.4 439.4,66.8 437.2,67.3 435.1,67.8 433,68.5 430.9,69.3 428.6,70.2 426.2,71.3 423.6,72.6 420.8,73.9 417.9,75.4 414.9,76.9 412,78.4 409.1,79.9 406.3,81.3 403.7,82.5 401.3,83.6 399,84.6 396.9,85.4 394.8,86 392.7,86.6 390.5,87 388.1,87.4 385.6,87.7 383,88 380.6,88.2 378.6,88.3 377.3,88.4 376.8,88.4 376.7,88.4Z" fill="#4371bb" fill-opacity="0.50" stroke="#4371bb" stroke-opacity="0.25" stroke-width="0.40"/>
<path d="M376.7,88.4 376.8,88.4 377.3,88.4 378.6,88.3 380.6,88.2 383,88 385.6,87.8 388.1,87.5 390.5,87.2 392.7,86.8 394.8,86.3 396.9,85.7 399,85 401.3,84.1 403.7,83.2 406.3,82.1 409.1,80.8 412,79.5 414.9,78.2 417.9,76.8 420.8,75.5 423.6,74.3 426.2,73.2 428.6,72.2 430.9,71.4 433,70.7 435.1,70.1 437.2,69.6 439.4,69.2 441.8,68.9 444.3,68.6 446.9,68.4 449.3,68.2 451.3,68.1 452.6,68 453.1,68 453.2,68 453.2,68.4 453.1,68.4 452.6,68.4 451.3,68.5 449.3,68.6 446.9,68.8 444.3,69 441.8,69.3 439.4,69.6 437.2,70 435.1,70.5 433,71.1 430.9,71.8 428.6,72.7 426.2,73.6 423.6,74.7 420.8,76 417.9,77.3 414.9,78.6 412,80 409.1,81.3 406.3,82.5 403.7,83.6 401.3,84.6 399,85.4 396.9,86.1 394.8,86.7 392.7,87.2 390.5,87.6 388.1,87.9 385.6,88.2 383,88.4 380.6,88.6 378.6,88.7 377.3,88.8 376.8,88.8 376.7,88.8Z" fill="#4371bb" fill-opacity="0.50" stroke="#4371bb" stroke-opacity="0.25" stroke-width="0.40"/>
<path d="M376.7,88.8 376.8,88.8 377.3,88.8 378.6,88.7 380.6,88.6 383,88.5 385.6,88.3 388.1,88 390.5,87.8 392.7,87.4 394.8,87 396.9,86.5 399,85.8 401.3,85.1 403.7,84.2 406.3,83.3 409.1,82.2 412,81.1 414.9,79.9 417.9,78.7 420.8,77.5 423.6,76.5 426.2,75.5 428.6,74.7 430.9,73.9 433,73.3 435.1,72.8 437.2,72.3 439.4,72 441.8,71.7 444.3,71.4 446.9,71.3 449.3,71.1 451.3,71 452.6,71 453.1,70.9 453.2,70.9 453.2,71.1 453.1,71.1 452.6,71.2 451.3,71.2 449.3,71.3 446.9,71.5 444.3,71.7 441.8,71.9 439.4,72.2 437.2,72.6 435.1,73 433,73.5 430.9,74.1 428.6,74.9 426.2,75.7 423.6,76.7 420.8,77.8 417.9,78.9 414.9,80.1 412,81.3 409.1,82.4 406.3,83.5 403.7,84.4 401.3,85.3 399,86 396.9,86.7 394.8,87.2 392.7,87.6 390.5,88 388.1,88.3 385.6,88.5 383,88.7 380.6,88.8 378.6,88.9 377.3,89 376.8,89 376.7,89Z" fill="#4371bb" fill-opacity="0.50" stroke="#4371bb" stroke-opacity="0.25" stroke-width="0.40"/>
<path d="M376.7,89 376.8,89 377.3,89 378.6,89 380.6,88.9 383,88.7 385.6,88.6 388.1,88.3 390.5,88.1 392.7,87.8 394.8,87.4 396.9,86.9 399,86.4 401.3,85.7 403.7,85 406.3,84.1 409.1,83.2 412,82.2 414.9,81.1 417.9,80.1 420.8,79.1 423.6,78.1 426.2,77.3 428.6,76.5 430.9,75.9 433,75.3 435.1,74.9 437.2,74.5 439.4,74.2 441.8,73.9 444.3,73.7 446.9,73.5 449.3,73.4 451.3,73.3 452.6,73.3 453.1,73.3 453.2,73.2 453.2,73.5 453.1,73.5 452.6,73.5 451.3,73.5 449.3,73.6 446.9,73.7 444.3,73.9 441.8,74.1 439.4,74.4 437.2,74.7 435.1,75.1 433,75.5 430.9,76.1 428.6,76.7 426.2,77.5 423.6,78.3 420.8,79.3 417.9,80.3 414.9,81.3 412,82.4 409.1,83.4 406.3,84.3 403.7,85.2 401.3,85.9 399,86.6 396.9,87.2 394.8,87.6 392.7,88 390.5,88.3 388.1,88.6 385.6,88.8 383,88.9 380.6,89.1 378.6,89.2 377.3,89.2 376.8,89.2 376.7,89.2Z" fill="#4371bb" fill-opacity="0.50" stroke="#4371bb" stroke-opacity="0.25" stroke-width="0.40"/>
<path d="M376.7,89.2 376.8,89.2 377.3,89.2 378.6,89.2 380.6,89.1 383,89 385.6,88.9 388.1,88.7 390.5,88.5 392.7,88.3 394.8,88 396.9,87.6 399,87.2 401.3,86.7 403.7,86.1 406.3,85.4 409.1,84.7 412,83.9 414.9,83.1 417.9,82.3 420.8,81.5 423.6,80.8 426.2,80.2 428.6,79.6 430.9,79.1 433,78.6 435.1,78.3 437.2,78 439.4,77.7 441.8,77.5 444.3,77.4 446.9,77.2 449.3,77.1 451.3,77.1 452.6,77 453.1,77 453.2,77 453.2,77.7 453.1,77.7 452.6,77.7 451.3,77.7 449.3,77.8 446.9,77.9 444.3,78 441.8,78.2 439.4,78.4 437.2,78.6 435.1,78.9 433,79.3 430.9,79.7 428.6,80.2 426.2,80.8 423.6,81.4 420.8,82.2 417.9,83 414.9,83.8 412,84.6 409.1,85.3 406.3,86.1 403.7,86.7 401.3,87.3 399,87.8 396.9,88.3 394.8,88.6 392.7,88.9 390.5,89.1 388.1,89.3 385.6,89.5 383,89.6 380.6,89.7 378.6,89.8 377.3,89.8 376.8,89.9 376.7,89.9Z" fill="#4371bb" fill-opacity="0.50" stroke="#4371bb" stroke-opacity="0.25" stroke-width="0.40"/>
<path d="M376.7,89.9 376.8,89.9 377.3,89.9 378.6,89.9 380.6,90 383,90.1 385.6,90.2 388.1,90.3 390.5,90.5 392.7,90.7 394.8,91 396.9,91.3 399,91.7 401.3,92.1 403.7,92.7 406.3,93.2 409.1,93.9 412,94.6 414.9,95.3 417.9,96 420.8,96.7 423.6,97.4 426.2,98 428.6,98.5 430.9,99 433,99.4 435.1,99.7 437.2,99.9 439.4,100.1 441.8,100.3 444.3,100.5 446.9,100.6 449.3,100.7 451.3,100.7 452.6,100.8 453.1,100.8 453.2,100.8 453.2,105.4 453.1,105.4 452.6,105.4 451.3,105.4 449.3,105.3 446.9,105.2 444.3,105.1 441.8,105 439.4,104.8 437.2,104.6 435.1,104.3 433,104 430.9,103.6 428.6,103.1 426.2,102.6 423.6,102 420.8,101.4 417.9,100.7 414.9,99.9 412,99.2 409.1,98.5 406.3,97.9 403.7,97.3 401.3,96.8 399,96.3 396.9,95.9 394.8,95.6 392.7,95.3 390.5,95.1 388.1,94.9 385.6,94.8 383,94.7 380.6,94.6 378.6,94.5 377.3,94.5 376.8,94.5 376.7,94.5Z" fill="#4371bb" fill-opacity="0.50" stroke="#4371bb" stroke-opacity="0.25" stroke-width="0.40"/>
<path d="M376.7,94.5 376.8,94.5 377.3,94.7 378.6,95.1 380.6,95.9 383,97.1 385.6,98.7 388.1,100.7 390.5,103.1 392.7,106 394.8,109.5 396.9,113.7 399,118.8 401.3,124.9 403.7,131.9 406.3,139.8 409.1,148.5 412,157.9 414.9,167.5 417.9,177.2 420.8,186.6 423.6,195.3 426.2,203.2 428.6,210.2 430.9,216.3 433,221.4 435.1,225.6 437.2,229.1 439.4,232 441.8,234.4 444.3,236.4 446.9,238 449.3,239.2 451.3,240 452.6,240.4 453.1,240.6 453.2,240.6 453.2,244.8 453.1,244.8 452.6,244.6 451.3,244.2 449.3,243.4 446.9,242.2 444.3,240.6 441.8,238.6 439.4,236.2 437.2,233.3 435.1,229.8 433,225.6 430.9,220.5 428.6,214.4 426.2,207.4 423.6,199.5 420.8,190.8 417.9,181.4 414.9,171.8 412,162.1 409.1,152.7 406.3,144 403.7,136.1 401.3,129.1 399,123 396.9,117.9 394.8,113.7 392.7,110.2 390.5,107.3 388.1,104.9 385.6,102.9 383,101.3 380.6,100.1 378.6,99.3 377.3,98.9 376.8,98.7 376.7,98.7Z" fill="#4371bb" fill-opacity="0.50" stroke="#4371bb" stroke-opacity="0.25" stroke-width="0.40"/>
<path d="M376.7,98.7 376.8,98.7 377.3,98.6 378.6,98.5 380.6,98.2 383,97.7 385.6,97.1 388.1,96.3 390.5,95.4 392.7,94.3 394.8,93 396.9,91.4 399,89.4 401.3,87.1 403.7,84.5 406.3,81.5 409.1,78.2 412,74.6 414.9,70.9 417.9,67.3 420.8,63.7 423.6,60.4 426.2,57.4 428.6,54.7 430.9,52.4 433,50.5 435.1,48.9 437.2,47.5 439.4,46.4 441.8,45.5 444.3,44.8 446.9,44.2 449.3,43.7 451.3,43.4 452.6,43.2 453.1,43.2 453.2,43.2 453.2,43.8 453.1,43.8 452.6,43.9 451.3,44 449.3,44.3 446.9,44.8 444.3,45.4 441.8,46.2 439.4,47.1 437.2,48.2 435.1,49.5 433,51.1 430.9,53.1 428.6,55.4 426.2,58 423.6,61 420.8,64.3 417.9,67.9 414.9,71.6 412,75.2 409.1,78.8 406.3,82.1 403.7,85.1 401.3,87.8 399,90.1 396.9,92 394.8,93.6 392.7,95 390.5,96.1 388.1,97 385.6,97.7 383,98.3 380.6,98.8 378.6,99.1 377.3,99.3 376.8,99.3 376.7,99.3Z" fill="#b2df8a" fill-opacity="0.42" stroke="#b2df8a" stroke-opacity="0.21" stroke-width="0.40"/>
<path d="M376.7,99.3 376.8,99.3 377.3,99.3 378.6,99.1 380.6,98.9 383,98.4 385.6,97.9 388.1,97.2 390.5,96.4 392.7,95.5 394.8,94.3 396.9,92.9 399,91.2 401.3,89.1 403.7,86.8 406.3,84.1 409.1,81.2 412,78.1 414.9,74.8 417.9,71.6 420.8,68.4 423.6,65.5 426.2,62.9 428.6,60.5 430.9,58.5 433,56.8 435.1,55.4 437.2,54.2 439.4,53.2 441.8,52.4 444.3,51.7 446.9,51.2 449.3,50.8 451.3,50.5 452.6,50.4 453.1,50.3 453.2,50.3 453.2,50.8 453.1,50.8 452.6,50.8 451.3,51 449.3,51.2 446.9,51.6 444.3,52.2 441.8,52.8 439.4,53.6 437.2,54.6 435.1,55.8 433,57.2 430.9,58.9 428.6,60.9 426.2,63.3 423.6,65.9 420.8,68.9 417.9,72 414.9,75.2 412,78.5 409.1,81.6 406.3,84.5 403.7,87.2 401.3,89.5 399,91.6 396.9,93.3 394.8,94.7 392.7,95.9 390.5,96.9 388.1,97.7 385.6,98.3 383,98.9 380.6,99.3 378.6,99.5 377.3,99.7 376.8,99.7 376.7,99.7Z" fill="#b2df8a" fill-opacity="0.42" stroke="#b2df8a" stroke-opacity="0.21" stroke-width="0.40"/>
<path d="M376.7,99.7 376.8,99.7 377.3,99.7 378.6,99.6 380.6,99.3 383,99 385.6,98.5 388.1,97.9 390.5,97.2 392.7,96.3 394.8,95.3 396.9,94 399,92.5 401.3,90.6 403.7,88.5 406.3,86.2 409.1,83.6 412,80.8 414.9,77.9 417.9,75 420.8,72.2 423.6,69.6 426.2,67.2 428.6,65.1 430.9,63.3 433,61.8 435.1,60.5 437.2,59.4 439.4,58.6 441.8,57.9 444.3,57.3 446.9,56.8 449.3,56.4 451.3,56.2 452.6,56.1 453.1,56 453.2,56 453.2,56.4 453.1,56.4 452.6,56.5 451.3,56.6 449.3,56.8 446.9,57.2 444.3,57.7 441.8,58.3 439.4,59 437.2,59.9 435.1,60.9 433,62.2 430.9,63.7 428.6,65.5 426.2,67.6 423.6,70 420.8,72.6 417.9,75.4 414.9,78.3 412,81.2 409.1,84 406.3,86.6 403.7,89 401.3,91.1 399,92.9 396.9,94.4 394.8,95.7 392.7,96.7 390.5,97.6 388.1,98.3 385.6,98.9 383,99.4 380.6,99.7 378.6,100 377.3,100.1 376.8,100.2 376.7,100.2Z" fill="#b2df8a" fill-opacity="0.42" stroke="#b2df8a" stroke-opacity="0.21" stroke-width="0.40"/>
<path d="M376.7,100.2 376.8,100.2 377.3,100.1 378.6,100 380.6,99.8 383,99.5 385.6,99 388.1,98.5 390.5,97.8 392.7,97.1 394.8,96.1 396.9,95 399,93.6 401.3,91.9 403.7,90 406.3,87.9 409.1,85.5 412,83 414.9,80.4 417.9,77.8 420.8,75.3 423.6,72.9 426.2,70.7 428.6,68.9 430.9,67.2 433,65.8 435.1,64.7 437.2,63.7 439.4,63 441.8,62.3 444.3,61.8 446.9,61.3 449.3,61 451.3,60.8 452.6,60.7 453.1,60.6 453.2,60.6 453.2,61.1 453.1,61.1 452.6,61.1 451.3,61.2 449.3,61.4 446.9,61.8 444.3,62.2 441.8,62.7 439.4,63.4 437.2,64.2 435.1,65.1 433,66.3 430.9,67.6 428.6,69.3 426.2,71.2 423.6,73.3 420.8,75.7 417.9,78.2 414.9,80.8 412,83.4 409.1,86 406.3,88.3 403.7,90.5 401.3,92.4 399,94 396.9,95.4 394.8,96.5 392.7,97.5 390.5,98.3 388.1,98.9 385.6,99.4 383,99.9 380.6,100.2 378.6,100.4 377.3,100.5 376.8,100.6 376.7,100.6Z" fill="#b2df8a" fill-opacity="0.42" stroke="#b2df8a" stroke-opacity="0.21" stroke-width="0.40"/>
<path d="M376.7,100.6 376.8,100.6 377.3,100.5 378.6,100.4 380.6,100.2 383,100 385.6,99.6 388.1,99.1 390.5,98.5 392.7,97.8 394.8,97 396.9,96 399,94.7 401.3,93.3 403.7,91.6 406.3,89.7 409.1,87.6 412,85.3 414.9,83 417.9,80.7 420.8,78.5 423.6,76.4 426.2,74.5 428.6,72.8 430.9,71.3 433,70.1 435.1,69.1 437.2,68.2 439.4,67.5 441.8,67 444.3,66.5 446.9,66.1 449.3,65.8 451.3,65.6 452.6,65.5 453.1,65.5 453.2,65.5 453.2,65.7 453.1,65.7 452.6,65.7 451.3,65.8 449.3,66 446.9,66.3 444.3,66.7 441.8,67.2 439.4,67.7 437.2,68.4 435.1,69.3 433,70.3 430.9,71.5 428.6,73 426.2,74.7 423.6,76.6 420.8,78.7 417.9,80.9 414.9,83.2 412,85.6 409.1,87.8 406.3,89.9 403.7,91.8 401.3,93.5 399,94.9 396.9,96.2 394.8,97.2 392.7,98 390.5,98.7 388.1,99.3 385.6,99.8 383,100.2 380.6,100.5 378.6,100.6 377.3,100.7 376.8,100.8 376.7,100.8Z" fill="#b2df8a" fill-opacity="0.42" stroke="#b2df8a" stroke-opacity="0.21" stroke-width="0.40"/>
<path d="M376.7,100.8 376.8,100.8 377.3,100.8 378.6,100.7 380.6,100.5 383,100.2 385.6,99.9 388.1,99.4 390.5,98.9 392.7,98.2 394.8,97.5 396.9,96.5 399,95.4 401.3,94.1 403.7,92.5 406.3,90.8 409.1,88.8 412,86.7 414.9,84.6 417.9,82.5 420.8,80.4 423.6,78.5 426.2,76.7 428.6,75.1 430.9,73.8 433,72.7 435.1,71.7 437.2,71 439.4,70.3 441.8,69.8 444.3,69.3 446.9,69 449.3,68.7 451.3,68.5 452.6,68.5 453.1,68.4 453.2,68.4 453.2,68.6 453.1,68.6 452.6,68.7 451.3,68.8 449.3,68.9 446.9,69.2 444.3,69.6 441.8,70 439.4,70.5 437.2,71.2 435.1,71.9 433,72.9 430.9,74 428.6,75.4 426.2,76.9 423.6,78.7 420.8,80.6 417.9,82.7 414.9,84.8 412,87 409.1,89 406.3,91 403.7,92.7 401.3,94.3 399,95.6 396.9,96.7 394.8,97.7 392.7,98.5 390.5,99.1 388.1,99.6 385.6,100.1 383,100.4 380.6,100.7 378.6,100.9 377.3,101 376.8,101 376.7,101Z" fill="#b2df8a" fill-opacity="0.42" stroke="#b2df8a" stroke-opacity="0.21" stroke-width="0.40"/>
<path d="M376.7,101 376.8,101 377.3,101 378.6,100.9 380.6,100.7 383,100.5 385.6,100.1 388.1,99.7 390.5,99.2 392.7,98.7 394.8,97.9 396.9,97.1 399,96 401.3,94.8 403.7,93.4 406.3,91.7 409.1,90 412,88 414.9,86.1 417.9,84.1 420.8,82.2 423.6,80.4 426.2,78.8 428.6,77.4 430.9,76.1 433,75.1 435.1,74.2 437.2,73.5 439.4,72.9 441.8,72.4 444.3,72 446.9,71.7 449.3,71.4 451.3,71.3 452.6,71.2 453.1,71.1 453.2,71.1 453.2,71.4 453.1,71.4 452.6,71.4 451.3,71.5 449.3,71.6 446.9,71.9 444.3,72.2 441.8,72.6 439.4,73.1 437.2,73.7 435.1,74.4 433,75.3 430.9,76.3 428.6,77.6 426.2,79 423.6,80.6 420.8,82.4 417.9,84.3 414.9,86.3 412,88.3 409.1,90.2 406.3,92 403.7,93.6 401.3,95 399,96.2 396.9,97.3 394.8,98.1 392.7,98.9 390.5,99.5 388.1,99.9 385.6,100.4 383,100.7 380.6,100.9 378.6,101.1 377.3,101.2 376.8,101.2 376.7,101.2Z" fill="#b2df8a" fill-opacity="0.42" stroke="#b2df8a" stroke-opacity="0.21" stroke-width="0.40"/>
<path d="M376.7,101.2 376.8,101.2 377.3,101.2 378.6,101.1 380.6,100.9 383,100.7 385.6,100.4 388.1,100 390.5,99.6 392.7,99 394.8,98.4 396.9,97.6 399,96.6 401.3,95.4 403.7,94.1 406.3,92.6 409.1,90.9 412,89.2 414.9,87.3 417.9,85.5 420.8,83.7 423.6,82.1 426.2,80.6 428.6,79.2 430.9,78.1 433,77.1 435.1,76.3 437.2,75.6 439.4,75.1 441.8,74.6 444.3,74.3 446.9,74 449.3,73.7 451.3,73.6 452.6,73.5 453.1,73.5 453.2,73.5 453.2,73.7 453.1,73.7 452.6,73.7 451.3,73.8 449.3,73.9 446.9,74.2 444.3,74.5 441.8,74.8 439.4,75.3 437.2,75.9 435.1,76.5 433,77.3 430.9,78.3 428.6,79.4 426.2,80.8 423.6,82.3 420.8,83.9 417.9,85.7 414.9,87.5 412,89.4 409.1,91.2 406.3,92.8 403.7,94.3 401.3,95.6 399,96.8 396.9,97.8 394.8,98.6 392.7,99.2 390.5,99.8 388.1,100.2 385.6,100.6 383,100.9 380.6,101.2 378.6,101.3 377.3,101.4 376.8,101.4 376.7,101.4Z" fill="#b2df8a" fill-opacity="0.42" stroke="#b2df8a" stroke-opacity="0.21" stroke-width="0.40"/>
<path d="M376.7,101.4 376.8,101.4 377.3,101.4 378.6,101.4 380.6,101.5 383,101.5 385.6,101.5 388.1,101.6 390.5,101.7 392.7,101.7 394.8,101.8 396.9,101.9 399,102.1 401.3,102.3 403.7,102.4 406.3,102.7 409.1,102.9 412,103.2 414.9,103.4 417.9,103.7 420.8,103.9 423.6,104.2 426.2,104.4 428.6,104.6 430.9,104.8 433,104.9 435.1,105 437.2,105.1 439.4,105.2 441.8,105.2 444.3,105.3 446.9,105.3 449.3,105.4 451.3,105.4 452.6,105.4 453.1,105.4 453.2,105.4 453.2,108.4 453.1,108.4 452.6,108.4 451.3,108.3 449.3,108.3 446.9,108.3 444.3,108.2 441.8,108.2 439.4,108.1 437.2,108 435.1,108 433,107.8 430.9,107.7 428.6,107.5 426.2,107.3 423.6,107.1 420.8,106.9 417.9,106.6 414.9,106.4 412,106.1 409.1,105.8 406.3,105.6 403.7,105.4 401.3,105.2 399,105 396.9,104.9 394.8,104.8 392.7,104.7 390.5,104.6 388.1,104.5 385.6,104.5 383,104.4 380.6,104.4 378.6,104.4 377.3,104.4 376.8,104.4 376.7,104.4Z" fill="#b2df8a" fill-opacity="0.42" stroke="#b2df8a" stroke-opacity="0.21" stroke-width="0.40"/>
<path d="M376.7,104.4 376.8,104.4 377.3,104.5 378.6,104.9 380.6,105.7 383,106.9 385.6,108.4 388.1,110.3 390.5,112.6 392.7,115.4 394.8,118.8 396.9,122.8 399,127.8 401.3,133.6 403.7,140.3 406.3,147.9 409.1,156.3 412,165.3 414.9,174.6 417.9,183.9 420.8,192.9 423.6,201.3 426.2,208.9 428.6,215.6 430.9,221.4 433,226.3 435.1,230.4 437.2,233.8 439.4,236.6 441.8,238.9 444.3,240.8 446.9,242.3 449.3,243.5 451.3,244.2 452.6,244.6 453.1,244.8 453.2,244.8 453.2,246.1 453.1,246.1 452.6,245.9 451.3,245.5 449.3,244.7 446.9,243.6 444.3,242 441.8,240.1 439.4,237.8 437.2,235 435.1,231.7 433,227.6 430.9,222.7 428.6,216.9 426.2,210.1 423.6,202.5 420.8,194.1 417.9,185.1 414.9,175.9 412,166.6 409.1,157.6 406.3,149.2 403.7,141.6 401.3,134.8 399,129 396.9,124.1 394.8,120 392.7,116.7 390.5,113.9 388.1,111.6 385.6,109.7 383,108.1 380.6,107 378.6,106.2 377.3,105.8 376.8,105.6 376.7,105.6Z" fill="#b2df8a" fill-opacity="0.42" stroke="#b2df8a" stroke-opacity="0.21" stroke-width="0.40"/>
<path d="M376.7,105.6 376.8,105.6 377.3,105.6 378.6,105.4 380.6,105 383,104.5 385.6,103.9 388.1,103 390.5,102 392.7,100.8 394.8,99.3 396.9,97.5 399,95.3 401.3,92.8 403.7,89.8 406.3,86.5 409.1,82.8 412,78.8 414.9,74.7 417.9,70.6 420.8,66.7 423.6,63 426.2,59.6 428.6,56.7 430.9,54.1 433,51.9 435.1,50.2 437.2,48.7 439.4,47.4 441.8,46.4 444.3,45.6 446.9,44.9 449.3,44.4 451.3,44.1 452.6,43.9 453.1,43.8 453.2,43.8 453.2,44.4 453.1,44.5 452.6,44.5 451.3,44.7 449.3,45 446.9,45.5 444.3,46.2 441.8,47.1 439.4,48.1 437.2,49.3 435.1,50.8 433,52.6 430.9,54.7 428.6,57.3 426.2,60.3 423.6,63.6 420.8,67.3 417.9,71.3 414.9,75.4 412,79.4 409.1,83.4 406.3,87.1 403.7,90.4 401.3,93.4 399,96 396.9,98.1 394.8,99.9 392.7,101.4 390.5,102.6 388.1,103.6 385.6,104.5 383,105.2 380.6,105.7 378.6,106 377.3,106.2 376.8,106.2 376.7,106.3Z" fill="#51ab41" fill-opacity="0.50" stroke="#51ab41" stroke-opacity="0.25" stroke-width="0.40"/>
<path d="M376.7,106.3 376.8,106.2 377.3,106.2 378.6,106 380.6,105.7 383,105.3 385.6,104.7 388.1,103.9 390.5,103 392.7,101.9 394.8,100.6 396.9,99 399,97 401.3,94.7 403.7,92.1 406.3,89 409.1,85.7 412,82.2 414.9,78.5 417.9,74.8 420.8,71.3 423.6,68 426.2,65 428.6,62.3 430.9,60 433,58.1 435.1,56.4 437.2,55.1 439.4,54 441.8,53.1 444.3,52.3 446.9,51.7 449.3,51.3 451.3,51 452.6,50.8 453.1,50.8 453.2,50.8 453.2,51.2 453.1,51.2 452.6,51.2 451.3,51.4 449.3,51.7 446.9,52.2 444.3,52.8 441.8,53.5 439.4,54.4 437.2,55.5 435.1,56.9 433,58.5 430.9,60.4 428.6,62.7 426.2,65.4 423.6,68.4 420.8,71.7 417.9,75.3 414.9,78.9 412,82.6 409.1,86.1 406.3,89.5 403.7,92.5 401.3,95.1 399,97.4 396.9,99.4 394.8,101 392.7,102.3 390.5,103.4 388.1,104.3 385.6,105.1 383,105.7 380.6,106.1 378.6,106.4 377.3,106.6 376.8,106.7 376.7,106.7Z" fill="#51ab41" fill-opacity="0.50" stroke="#51ab41" stroke-opacity="0.25" stroke-width="0.40"/>
<path d="M376.7,106.7 376.8,106.7 377.3,106.6 378.6,106.5 380.6,106.2 383,105.8 385.6,105.2 388.1,104.5 390.5,103.7 392.7,102.7 394.8,101.5 396.9,100.1 399,98.3 401.3,96.2 403.7,93.8 406.3,91.1 409.1,88.1 412,84.9 414.9,81.6 417.9,78.2 420.8,75 423.6,72 426.2,69.3 428.6,66.9 430.9,64.8 433,63 435.1,61.6 437.2,60.4 439.4,59.4 441.8,58.6 444.3,57.9 446.9,57.3 449.3,56.9 451.3,56.6 452.6,56.5 453.1,56.4 453.2,56.4 453.2,56.8 453.1,56.9 452.6,56.9 451.3,57.1 449.3,57.3 446.9,57.7 444.3,58.3 441.8,59 439.4,59.8 437.2,60.8 435.1,62 433,63.5 430.9,65.2 428.6,67.3 426.2,69.7 423.6,72.4 420.8,75.4 417.9,78.6 414.9,82 412,85.3 409.1,88.5 406.3,91.5 403.7,94.2 401.3,96.6 399,98.7 396.9,100.5 394.8,101.9 392.7,103.1 390.5,104.1 388.1,105 385.6,105.7 383,106.2 380.6,106.6 378.6,106.9 377.3,107 376.8,107.1 376.7,107.1Z" fill="#51ab41" fill-opacity="0.50" stroke="#51ab41" stroke-opacity="0.25" stroke-width="0.40"/>
<path d="M376.7,107.1 376.8,107.1 377.3,107 378.6,106.9 380.6,106.7 383,106.3 385.6,105.8 388.1,105.1 390.5,104.4 392.7,103.5 394.8,102.4 396.9,101 399,99.4 401.3,97.5 403.7,95.3 406.3,92.8 409.1,90.1 412,87.1 414.9,84.1 417.9,81 420.8,78.1 423.6,75.3 426.2,72.8 428.6,70.6 430.9,68.7 433,67.1 435.1,65.8 437.2,64.7 439.4,63.8 441.8,63 444.3,62.4 446.9,61.9 449.3,61.5 451.3,61.2 452.6,61.1 453.1,61.1 453.2,61.1 453.2,61.7 453.1,61.7 452.6,61.7 451.3,61.9 449.3,62.1 446.9,62.5 444.3,63 441.8,63.6 439.4,64.4 437.2,65.3 435.1,66.4 433,67.7 430.9,69.4 428.6,71.3 426.2,73.5 423.6,76 420.8,78.7 417.9,81.7 414.9,84.7 412,87.8 409.1,90.7 406.3,93.5 403.7,95.9 401.3,98.2 399,100.1 396.9,101.7 394.8,103 392.7,104.1 390.5,105 388.1,105.8 385.6,106.4 383,106.9 380.6,107.3 378.6,107.5 377.3,107.7 376.8,107.7 376.7,107.7Z" fill="#51ab41" fill-opacity="0.50" stroke="#51ab41" stroke-opacity="0.25" stroke-width="0.40"/>
<path d="M376.7,107.7 376.8,107.7 377.3,107.7 378.6,107.6 380.6,107.3 383,107 385.6,106.5 388.1,105.9 390.5,105.3 392.7,104.4 394.8,103.4 396.9,102.2 399,100.7 401.3,99 403.7,97 406.3,94.7 409.1,92.2 412,89.5 414.9,86.7 417.9,83.9 420.8,81.2 423.6,78.7 426.2,76.4 428.6,74.4 430.9,72.7 433,71.2 435.1,70 437.2,69 439.4,68.2 441.8,67.5 444.3,66.9 446.9,66.4 449.3,66.1 451.3,65.9 452.6,65.7 453.1,65.7 453.2,65.7 453.2,65.9 453.1,65.9 452.6,65.9 451.3,66.1 449.3,66.3 446.9,66.6 444.3,67.1 441.8,67.7 439.4,68.4 437.2,69.2 435.1,70.2 433,71.4 430.9,72.9 428.6,74.6 426.2,76.6 423.6,78.9 420.8,81.4 417.9,84.1 414.9,86.9 412,89.7 409.1,92.4 406.3,94.9 403.7,97.2 401.3,99.2 399,100.9 396.9,102.4 394.8,103.6 392.7,104.6 390.5,105.5 388.1,106.2 385.6,106.7 383,107.2 380.6,107.5 378.6,107.8 377.3,107.9 376.8,107.9 376.7,107.9Z" fill="#51ab41" fill-opacity="0.50" stroke="#51ab41" stroke-opacity="0.25" stroke-width="0.40"/>
<path d="M376.7,107.9 376.8,107.9 377.3,107.9 378.6,107.8 380.6,107.6 383,107.2 385.6,106.8 388.1,106.3 390.5,105.6 392.7,104.8 394.8,103.9 396.9,102.8 399,101.4 401.3,99.8 403.7,97.9 406.3,95.7 409.1,93.4 412,90.9 414.9,88.3 417.9,85.7 420.8,83.2 423.6,80.8 426.2,78.7 428.6,76.8 430.9,75.2 433,73.8 435.1,72.7 437.2,71.7 439.4,70.9 441.8,70.3 444.3,69.8 446.9,69.3 449.3,69 451.3,68.8 452.6,68.7 453.1,68.6 453.2,68.6 453.2,68.8 453.1,68.8 452.6,68.9 451.3,69 449.3,69.2 446.9,69.5 444.3,70 441.8,70.5 439.4,71.1 437.2,71.9 435.1,72.9 433,74 430.9,75.4 428.6,77 426.2,78.9 423.6,81 420.8,83.4 417.9,85.9 414.9,88.5 412,91.1 409.1,93.6 406.3,96 403.7,98.1 401.3,100 399,101.6 396.9,103 394.8,104.1 392.7,105.1 390.5,105.8 388.1,106.5 385.6,107 383,107.5 380.6,107.8 378.6,108 377.3,108.1 376.8,108.1 376.7,108.1Z" fill="#51ab41" fill-opacity="0.50" stroke="#51ab41" stroke-opacity="0.25" stroke-width="0.40"/>
<path d="M376.7,108.1 376.8,108.1 377.3,108.1 378.6,108 380.6,107.8 383,107.5 385.6,107.1 388.1,106.6 390.5,106 392.7,105.3 394.8,104.4 396.9,103.3 399,102 401.3,100.5 403.7,98.7 406.3,96.7 409.1,94.5 412,92.2 414.9,89.8 417.9,87.3 420.8,85 423.6,82.8 426.2,80.8 428.6,79 430.9,77.5 433,76.2 435.1,75.1 437.2,74.2 439.4,73.5 441.8,72.9 444.3,72.4 446.9,72 449.3,71.7 451.3,71.5 452.6,71.4 453.1,71.4 453.2,71.4 453.2,71.6 453.1,71.6 452.6,71.6 451.3,71.7 449.3,71.9 446.9,72.2 444.3,72.6 441.8,73.1 439.4,73.7 437.2,74.5 435.1,75.3 433,76.4 430.9,77.7 428.6,79.2 426.2,81 423.6,83 420.8,85.2 417.9,87.5 414.9,90 412,92.4 409.1,94.8 406.3,97 403.7,98.9 401.3,100.7 399,102.2 396.9,103.5 394.8,104.6 392.7,105.5 390.5,106.2 388.1,106.8 385.6,107.3 383,107.7 380.6,108 378.6,108.2 377.3,108.3 376.8,108.4 376.7,108.4Z" fill="#51ab41" fill-opacity="0.50" stroke="#51ab41" stroke-opacity="0.25" stroke-width="0.40"/>
<path d="M376.7,108.4 376.8,108.4 377.3,108.3 378.6,108.2 380.6,108 383,107.7 385.6,107.4 388.1,106.9 390.5,106.3 392.7,105.6 394.8,104.8 396.9,103.8 399,102.6 401.3,101.1 403.7,99.5 406.3,97.6 409.1,95.5 412,93.3 414.9,91 417.9,88.7 420.8,86.5 423.6,84.4 426.2,82.5 428.6,80.9 430.9,79.5 433,78.2 435.1,77.2 437.2,76.4 439.4,75.7 441.8,75.1 444.3,74.7 446.9,74.3 449.3,74 451.3,73.8 452.6,73.7 453.1,73.7 453.2,73.7 453.2,73.9 453.1,73.9 452.6,73.9 451.3,74 449.3,74.2 446.9,74.5 444.3,74.9 441.8,75.3 439.4,75.9 437.2,76.6 435.1,77.4 433,78.4 430.9,79.7 428.6,81.1 426.2,82.8 423.6,84.6 420.8,86.7 417.9,88.9 414.9,91.2 412,93.5 409.1,95.7 406.3,97.8 403.7,99.7 401.3,101.4 399,102.8 396.9,104 394.8,105 392.7,105.8 390.5,106.5 388.1,107.1 385.6,107.6 383,108 380.6,108.2 378.6,108.4 377.3,108.5 376.8,108.6 376.7,108.6Z" fill="#51ab41" fill-opacity="0.50" stroke="#51ab41" stroke-opacity="0.25" stroke-width="0.40"/>
<path d="M376.7,108.6 376.8,108.6 377.3,108.5 378.6,108.4 380.6,108.3 383,108 385.6,107.7 388.1,107.3 390.5,106.8 392.7,106.1 394.8,105.4 396.9,104.5 399,103.4 401.3,102.1 403.7,100.7 406.3,99 409.1,97.1 412,95.2 414.9,93.1 417.9,91.1 420.8,89.1 423.6,87.2 426.2,85.6 428.6,84.1 430.9,82.8 433,81.7 435.1,80.8 437.2,80.1 439.4,79.5 441.8,79 444.3,78.6 446.9,78.2 449.3,78 451.3,77.8 452.6,77.7 453.1,77.7 453.2,77.7 453.2,77.9 453.1,77.9 452.6,77.9 451.3,78 449.3,78.2 446.9,78.4 444.3,78.8 441.8,79.2 439.4,79.7 437.2,80.3 435.1,81 433,81.9 430.9,83 428.6,84.3 426.2,85.8 423.6,87.5 420.8,89.3 417.9,91.3 414.9,93.3 412,95.4 409.1,97.3 406.3,99.2 403.7,100.9 401.3,102.4 399,103.6 396.9,104.7 394.8,105.6 392.7,106.4 390.5,107 388.1,107.5 385.6,107.9 383,108.2 380.6,108.5 378.6,108.7 377.3,108.7 376.8,108.8 376.7,108.8Z" fill="#51ab41" fill-opacity="0.50" stroke="#51ab41" stroke-opacity="0.25" stroke-width="0.40"/>
<path d="M376.7,108.8 376.8,108.8 377.3,108.8 378.6,108.8 380.6,108.8 383,108.8 385.6,108.8 388.1,108.8 390.5,108.8 392.7,108.7 394.8,108.7 396.9,108.7 399,108.7 401.3,108.7 403.7,108.7 406.3,108.6 409.1,108.6 412,108.6 414.9,108.6 417.9,108.5 420.8,108.5 423.6,108.5 426.2,108.5 428.6,108.4 430.9,108.4 433,108.4 435.1,108.4 437.2,108.4 439.4,108.4 441.8,108.4 444.3,108.4 446.9,108.4 449.3,108.4 451.3,108.4 452.6,108.4 453.1,108.4 453.2,108.4 453.2,115.5 453.1,115.5 452.6,115.5 451.3,115.5 449.3,115.5 446.9,115.5 444.3,115.5 441.8,115.5 439.4,115.5 437.2,115.5 435.1,115.6 433,115.6 430.9,115.6 428.6,115.6 426.2,115.6 423.6,115.6 420.8,115.7 417.9,115.7 414.9,115.7 412,115.7 409.1,115.8 406.3,115.8 403.7,115.8 401.3,115.8 399,115.9 396.9,115.9 394.8,115.9 392.7,115.9 390.5,115.9 388.1,115.9 385.6,115.9 383,115.9 380.6,115.9 378.6,115.9 377.3,115.9 376.8,115.9 376.7,115.9Z" fill="#51ab41" fill-opacity="0.50" stroke="#51ab41" stroke-opacity="0.25" stroke-width="0.40"/>
<path d="M376.7,115.9 376.8,115.9 377.3,116.1 378.6,116.5 380.6,117.2 383,118.2 385.6,119.7 388.1,121.4 390.5,123.6 392.7,126.2 394.8,129.3 396.9,133.1 399,137.6 401.3,143 403.7,149.2 406.3,156.3 409.1,164.1 412,172.4 414.9,181 417.9,189.6 420.8,197.9 423.6,205.7 426.2,212.8 428.6,219 430.9,224.4 433,228.9 435.1,232.7 437.2,235.8 439.4,238.4 441.8,240.6 444.3,242.3 446.9,243.8 449.3,244.8 451.3,245.5 452.6,245.9 453.1,246.1 453.2,246.1 453.2,246.9 453.1,246.9 452.6,246.8 451.3,246.4 449.3,245.7 446.9,244.6 444.3,243.2 441.8,241.4 439.4,239.3 437.2,236.7 435.1,233.6 433,229.8 430.9,225.2 428.6,219.8 426.2,213.6 423.6,206.6 420.8,198.8 417.9,190.5 414.9,181.8 412,173.2 409.1,164.9 406.3,157.1 403.7,150.1 401.3,143.8 399,138.5 396.9,133.9 394.8,130.1 392.7,127 390.5,124.4 388.1,122.3 385.6,120.5 383,119.1 380.6,118 378.6,117.3 377.3,116.9 376.8,116.8 376.7,116.8Z" fill="#51ab41" fill-opacity="0.50" stroke="#51ab41" stroke-opacity="0.25" stroke-width="0.40"/>
<path d="M376.7,116.8 376.8,116.8 377.3,116.7 378.6,116.5 380.6,116.1 383,115.5 385.6,114.7 388.1,113.7 390.5,112.5 392.7,111.1 394.8,109.4 396.9,107.3 399,104.7 401.3,101.7 403.7,98.3 406.3,94.3 409.1,90 412,85.4 414.9,80.6 417.9,75.8 420.8,71.2 423.6,66.9 426.2,63 428.6,59.5 430.9,56.5 433,54 435.1,51.9 437.2,50.1 439.4,48.7 441.8,47.5 444.3,46.5 446.9,45.7 449.3,45.1 451.3,44.7 452.6,44.5 453.1,44.5 453.2,44.4 453.2,45.1 453.1,45.1 452.6,45.2 451.3,45.4 449.3,45.8 446.9,46.4 444.3,47.2 441.8,48.1 439.4,49.3 437.2,50.8 435.1,52.5 433,54.6 430.9,57.1 428.6,60.1 426.2,63.6 423.6,67.5 420.8,71.8 417.9,76.5 414.9,81.2 412,86 409.1,90.7 406.3,95 403.7,98.9 401.3,102.4 399,105.3 396.9,107.9 394.8,110 392.7,111.7 390.5,113.1 388.1,114.3 385.6,115.3 383,116.1 380.6,116.7 378.6,117.1 377.3,117.3 376.8,117.4 376.7,117.4Z" fill="#fb9a99" fill-opacity="0.42" stroke="#fb9a99" stroke-opacity="0.21" stroke-width="0.40"/>
<path d="M376.7,117.4 376.8,117.4 377.3,117.3 378.6,117.1 380.6,116.8 383,116.2 385.6,115.5 388.1,114.6 390.5,113.5 392.7,112.2 394.8,110.6 396.9,108.7 399,106.4 401.3,103.6 403.7,100.5 406.3,96.9 409.1,92.9 412,88.7 414.9,84.3 417.9,79.9 420.8,75.7 423.6,71.7 426.2,68.1 428.6,64.9 430.9,62.2 433,59.9 435.1,58 437.2,56.4 439.4,55.1 441.8,54 444.3,53.1 446.9,52.3 449.3,51.8 451.3,51.4 452.6,51.3 453.1,51.2 453.2,51.2 453.2,51.6 453.1,51.6 452.6,51.7 451.3,51.9 449.3,52.2 446.9,52.8 444.3,53.5 441.8,54.4 439.4,55.5 437.2,56.8 435.1,58.4 433,60.3 430.9,62.6 428.6,65.4 426.2,68.5 423.6,72.1 420.8,76.1 417.9,80.3 414.9,84.7 412,89.1 409.1,93.3 406.3,97.3 403.7,100.9 401.3,104 399,106.8 396.9,109.1 394.8,111 392.7,112.6 390.5,113.9 388.1,115 385.6,115.9 383,116.6 380.6,117.2 378.6,117.5 377.3,117.7 376.8,117.8 376.7,117.8Z" fill="#fb9a99" fill-opacity="0.42" stroke="#fb9a99" stroke-opacity="0.21" stroke-width="0.40"/>
<path d="M376.7,117.8 376.8,117.8 377.3,117.7 378.6,117.6 380.6,117.2 383,116.7 385.6,116.1 388.1,115.2 390.5,114.2 392.7,113 394.8,111.6 396.9,109.8 399,107.7 401.3,105.1 403.7,102.2 406.3,98.9 409.1,95.3 412,91.4 414.9,87.3 417.9,83.3 420.8,79.4 423.6,75.8 426.2,72.5 428.6,69.5 430.9,67 433,64.9 435.1,63.1 437.2,61.6 439.4,60.4 441.8,59.4 444.3,58.6 446.9,57.9 449.3,57.4 451.3,57.1 452.6,56.9 453.1,56.9 453.2,56.8 453.2,57.1 453.1,57.1 452.6,57.1 451.3,57.3 449.3,57.6 446.9,58.1 444.3,58.8 441.8,59.6 439.4,60.6 437.2,61.9 435.1,63.3 433,65.1 430.9,67.2 428.6,69.7 426.2,72.7 423.6,76 420.8,79.6 417.9,83.5 414.9,87.5 412,91.6 409.1,95.5 406.3,99.1 403.7,102.4 401.3,105.3 399,107.9 396.9,110 394.8,111.8 392.7,113.2 390.5,114.4 388.1,115.4 385.6,116.3 383,116.9 380.6,117.4 378.6,117.8 377.3,118 376.8,118 376.7,118Z" fill="#fb9a99" fill-opacity="0.42" stroke="#fb9a99" stroke-opacity="0.21" stroke-width="0.40"/>
<path d="M376.7,118 376.8,118 377.3,118 378.6,117.8 380.6,117.5 383,117 385.6,116.4 388.1,115.6 390.5,114.7 392.7,113.6 394.8,112.3 396.9,110.6 399,108.6 401.3,106.3 403.7,103.6 406.3,100.6 409.1,97.2 412,93.6 414.9,89.9 417.9,86.1 420.8,82.5 423.6,79.2 426.2,76.1 428.6,73.4 430.9,71.1 433,69.1 435.1,67.5 437.2,66.1 439.4,65 441.8,64.1 444.3,63.3 446.9,62.7 449.3,62.2 451.3,61.9 452.6,61.8 453.1,61.7 453.2,61.7 453.2,62.1 453.1,62.1 452.6,62.2 451.3,62.3 449.3,62.6 446.9,63.1 444.3,63.7 441.8,64.5 439.4,65.4 437.2,66.5 435.1,67.9 433,69.5 430.9,71.5 428.6,73.8 426.2,76.5 423.6,79.6 420.8,82.9 417.9,86.5 414.9,90.3 412,94 409.1,97.6 406.3,101 403.7,104 401.3,106.7 399,109.1 396.9,111 394.8,112.7 392.7,114 390.5,115.1 388.1,116.1 385.6,116.8 383,117.5 380.6,117.9 378.6,118.2 377.3,118.4 376.8,118.4 376.7,118.5Z" fill="#fb9a99" fill-opacity="0.42" stroke="#fb9a99" stroke-opacity="0.21" stroke-width="0.40"/>
<path d="M376.7,118.5 376.8,118.4 377.3,118.4 378.6,118.2 380.6,117.9 383,117.5 385.6,116.9 388.1,116.2 390.5,115.4 392.7,114.3 394.8,113.1 396.9,111.5 399,109.7 401.3,107.5 403.7,105 406.3,102.2 409.1,99 412,95.6 414.9,92.2 417.9,88.7 420.8,85.3 423.6,82.2 426.2,79.3 428.6,76.8 430.9,74.6 433,72.8 435.1,71.3 437.2,70 439.4,69 441.8,68.1 444.3,67.4 446.9,66.8 449.3,66.4 451.3,66.1 452.6,66 453.1,65.9 453.2,65.9 453.2,66.1 453.1,66.1 452.6,66.2 451.3,66.3 449.3,66.6 446.9,67 444.3,67.6 441.8,68.3 439.4,69.2 437.2,70.2 435.1,71.5 433,73 430.9,74.9 428.6,77 426.2,79.5 423.6,82.4 420.8,85.5 417.9,88.9 414.9,92.4 412,95.9 409.1,99.2 406.3,102.4 403.7,105.2 401.3,107.7 399,109.9 396.9,111.7 394.8,113.3 392.7,114.5 390.5,115.6 388.1,116.4 385.6,117.2 383,117.7 380.6,118.2 378.6,118.4 377.3,118.6 376.8,118.7 376.7,118.7Z" fill="#fb9a99" fill-opacity="0.42" stroke="#fb9a99" stroke-opacity="0.21" stroke-width="0.40"/>
<path d="M376.7,118.7 376.8,118.7 377.3,118.6 378.6,118.5 380.6,118.2 383,117.8 385.6,117.2 388.1,116.6 390.5,115.7 392.7,114.7 394.8,113.6 396.9,112.1 399,110.4 401.3,108.3 403.7,105.9 406.3,103.2 409.1,100.2 412,97 414.9,93.7 417.9,90.4 420.8,87.3 423.6,84.3 426.2,81.6 428.6,79.2 430.9,77.1 433,75.4 435.1,73.9 437.2,72.8 439.4,71.8 441.8,70.9 444.3,70.3 446.9,69.7 449.3,69.3 451.3,69 452.6,68.9 453.1,68.8 453.2,68.8 453.2,69 453.1,69.1 452.6,69.1 451.3,69.2 449.3,69.5 446.9,69.9 444.3,70.5 441.8,71.2 439.4,72 437.2,73 435.1,74.2 433,75.6 430.9,77.3 428.6,79.4 426.2,81.8 423.6,84.5 420.8,87.5 417.9,90.7 414.9,94 412,97.3 409.1,100.4 406.3,103.4 403.7,106.1 401.3,108.5 399,110.6 396.9,112.3 394.8,113.8 392.7,115 390.5,115.9 388.1,116.8 385.6,117.4 383,118 380.6,118.4 378.6,118.7 377.3,118.8 376.8,118.9 376.7,118.9Z" fill="#fb9a99" fill-opacity="0.42" stroke="#fb9a99" stroke-opacity="0.21" stroke-width="0.40"/>
<path d="M376.7,118.9 376.8,118.9 377.3,118.8 378.6,118.7 380.6,118.4 383,118 385.6,117.5 388.1,116.9 390.5,116.1 392.7,115.2 394.8,114 396.9,112.6 399,111 401.3,109 403.7,106.8 406.3,104.2 409.1,101.4 412,98.4 414.9,95.2 417.9,92.1 420.8,89.1 423.6,86.2 426.2,83.7 428.6,81.4 430.9,79.5 433,77.8 435.1,76.4 437.2,75.3 439.4,74.3 441.8,73.6 444.3,72.9 446.9,72.4 449.3,72 451.3,71.8 452.6,71.6 453.1,71.6 453.2,71.6 453.2,71.8 453.1,71.8 452.6,71.8 451.3,72 449.3,72.2 446.9,72.6 444.3,73.1 441.8,73.8 439.4,74.6 437.2,75.5 435.1,76.6 433,78 430.9,79.7 428.6,81.6 426.2,83.9 423.6,86.4 420.8,89.3 417.9,92.3 414.9,95.4 412,98.6 409.1,101.6 406.3,104.4 403.7,107 401.3,109.2 399,111.2 396.9,112.9 394.8,114.2 392.7,115.4 390.5,116.3 388.1,117.1 385.6,117.7 383,118.2 380.6,118.6 378.6,118.9 377.3,119 376.8,119.1 376.7,119.1Z" fill="#fb9a99" fill-opacity="0.42" stroke="#fb9a99" stroke-opacity="0.21" stroke-width="0.40"/>
<path d="M376.7,119.1 376.8,119.1 377.3,119 378.6,118.9 380.6,118.7 383,118.3 385.6,117.8 388.1,117.2 390.5,116.4 392.7,115.5 394.8,114.4 396.9,113.1 399,111.5 401.3,109.7 403.7,107.5 406.3,105.1 409.1,102.4 412,99.5 414.9,96.5 417.9,93.5 420.8,90.6 423.6,87.9 426.2,85.4 428.6,83.3 430.9,81.4 433,79.8 435.1,78.5 437.2,77.4 439.4,76.5 441.8,75.8 444.3,75.2 446.9,74.7 449.3,74.3 451.3,74.1 452.6,73.9 453.1,73.9 453.2,73.9 453.2,74.1 453.1,74.1 452.6,74.1 451.3,74.3 449.3,74.5 446.9,74.9 444.3,75.4 441.8,76 439.4,76.7 437.2,77.6 435.1,78.7 433,80 430.9,81.6 428.6,83.5 426.2,85.7 423.6,88.1 420.8,90.8 417.9,93.7 414.9,96.7 412,99.7 409.1,102.6 406.3,105.3 403.7,107.7 401.3,109.9 399,111.8 396.9,113.3 394.8,114.7 392.7,115.7 390.5,116.6 388.1,117.4 385.6,118 383,118.5 380.6,118.9 378.6,119.1 377.3,119.2 376.8,119.3 376.7,119.3Z" fill="#fb9a99" fill-opacity="0.42" stroke="#fb9a99" stroke-opacity="0.21" stroke-width="0.40"/>
<path d="M376.7,119.3 376.8,119.3 377.3,119.2 378.6,119.1 380.6,118.9 383,118.6 385.6,118.1 388.1,117.5 390.5,116.9 392.7,116 394.8,115 396.9,113.8 399,112.4 401.3,110.7 403.7,108.7 406.3,106.4 409.1,104 412,101.3 414.9,98.6 417.9,95.8 420.8,93.2 423.6,90.7 426.2,88.5 428.6,86.5 430.9,84.8 433,83.3 435.1,82.1 437.2,81.1 439.4,80.3 441.8,79.6 444.3,79.1 446.9,78.6 449.3,78.3 451.3,78 452.6,77.9 453.1,77.9 453.2,77.9 453.2,78.1 453.1,78.1 452.6,78.1 451.3,78.3 449.3,78.5 446.9,78.8 444.3,79.3 441.8,79.8 439.4,80.5 437.2,81.3 435.1,82.3 433,83.5 430.9,85 428.6,86.7 426.2,88.7 423.6,90.9 420.8,93.4 417.9,96.1 414.9,98.8 412,101.5 409.1,104.2 406.3,106.7 403.7,108.9 401.3,110.9 399,112.6 396.9,114.1 394.8,115.3 392.7,116.2 390.5,117.1 388.1,117.7 385.6,118.3 383,118.8 380.6,119.1 378.6,119.3 377.3,119.5 376.8,119.5 376.7,119.5Z" fill="#fb9a99" fill-opacity="0.42" stroke="#fb9a99" stroke-opacity="0.21" stroke-width="0.40"/>
<path d="M376.7,119.5 376.8,119.5 377.3,119.5 378.6,119.5 380.6,119.5 383,119.4 385.6,119.4 388.1,119.3 390.5,119.3 392.7,119.2 394.8,119.1 396.9,119 399,118.8 401.3,118.7 403.7,118.5 406.3,118.3 409.1,118 412,117.8 414.9,117.5 417.9,117.2 420.8,117 423.6,116.7 426.2,116.5 428.6,116.3 430.9,116.2 433,116 435.1,115.9 437.2,115.8 439.4,115.7 441.8,115.7 444.3,115.6 446.9,115.6 449.3,115.5 451.3,115.5 452.6,115.5 453.1,115.5 453.2,115.5 453.2,116.6 453.1,116.6 452.6,116.6 451.3,116.6 449.3,116.6 446.9,116.6 444.3,116.7 441.8,116.7 439.4,116.8 437.2,116.9 435.1,117 433,117.1 430.9,117.2 428.6,117.4 426.2,117.6 423.6,117.8 420.8,118 417.9,118.3 414.9,118.6 412,118.8 409.1,119.1 406.3,119.3 403.7,119.5 401.3,119.7 399,119.9 396.9,120 394.8,120.1 392.7,120.2 390.5,120.3 388.1,120.4 385.6,120.4 383,120.5 380.6,120.5 378.6,120.5 377.3,120.5 376.8,120.6 376.7,120.6Z" fill="#fb9a99" fill-opacity="0.42" stroke="#fb9a99" stroke-opacity="0.21" stroke-width="0.40"/>
<path d="M376.7,120.6 376.8,120.6 377.3,120.7 378.6,121.1 380.6,121.8 383,122.8 385.6,124.2 388.1,125.9 390.5,128 392.7,130.5 394.8,133.5 396.9,137.2 399,141.6 401.3,146.8 403.7,152.9 406.3,159.7 409.1,167.3 412,175.4 414.9,183.7 417.9,192.1 420.8,200.2 423.6,207.7 426.2,214.6 428.6,220.6 430.9,225.9 433,230.3 435.1,234 437.2,237 439.4,239.5 441.8,241.6 444.3,243.3 446.9,244.7 449.3,245.7 451.3,246.4 452.6,246.8 453.1,246.9 453.2,246.9 453.2,248 453.1,247.9 452.6,247.8 451.3,247.4 449.3,246.8 446.9,245.7 444.3,244.3 441.8,242.6 439.4,240.5 437.2,238 435.1,235 433,231.3 430.9,226.9 428.6,221.7 426.2,215.6 423.6,208.8 420.8,201.2 417.9,193.1 414.9,184.8 412,176.4 409.1,168.3 406.3,160.8 403.7,153.9 401.3,147.9 399,142.7 396.9,138.2 394.8,134.6 392.7,131.5 390.5,129 388.1,127 385.6,125.2 383,123.9 380.6,122.8 378.6,122.1 377.3,121.8 376.8,121.6 376.7,121.6Z" fill="#fb9a99" fill-opacity="0.42" stroke="#fb9a99" stroke-opacity="0.21" stroke-width="0.40"/>
<path d="M376.7,121.6 376.8,121.6 377.3,121.5 378.6,121.3 380.6,120.9 383,120.2 385.6,119.4 388.1,118.4 390.5,117.1 392.7,115.6 394.8,113.8 396.9,111.5 399,108.9 401.3,105.7 403.7,102 406.3,97.9 409.1,93.3 412,88.4 414.9,83.3 417.9,78.3 420.8,73.4 423.6,68.8 426.2,64.7 428.6,61 430.9,57.8 433,55.1 435.1,52.9 437.2,51.1 439.4,49.6 441.8,48.3 444.3,47.3 446.9,46.4 449.3,45.8 451.3,45.4 452.6,45.2 453.1,45.1 453.2,45.1 453.2,45.5 453.1,45.5 452.6,45.6 451.3,45.8 449.3,46.2 446.9,46.9 444.3,47.7 441.8,48.7 439.4,50 437.2,51.5 435.1,53.3 433,55.6 430.9,58.3 428.6,61.4 426.2,65.1 423.6,69.2 420.8,73.8 417.9,78.7 414.9,83.8 412,88.8 409.1,93.7 406.3,98.3 403.7,102.4 401.3,106.1 399,109.3 396.9,112 394.8,114.2 392.7,116 390.5,117.5 388.1,118.8 385.6,119.8 383,120.7 380.6,121.3 378.6,121.7 377.3,121.9 376.8,122 376.7,122Z" fill="#e31a1c" fill-opacity="0.42" stroke="#e31a1c" stroke-opacity="0.21" stroke-width="0.40"/>
<path d="M376.7,122 376.8,122 377.3,121.9 378.6,121.7 380.6,121.4 383,120.8 385.6,120 388.1,119 390.5,117.9 392.7,116.5 394.8,114.8 396.9,112.8 399,110.3 401.3,107.4 403.7,104 406.3,100.2 409.1,96 412,91.5 414.9,86.8 417.9,82.1 420.8,77.6 423.6,73.4 426.2,69.6 428.6,66.2 430.9,63.3 433,60.9 435.1,58.8 437.2,57.1 439.4,55.7 441.8,54.6 444.3,53.6 446.9,52.8 449.3,52.3 451.3,51.9 452.6,51.7 453.1,51.6 453.2,51.6 453.2,52 453.1,52 452.6,52.1 451.3,52.3 449.3,52.7 446.9,53.3 444.3,54 441.8,55 439.4,56.2 437.2,57.6 435.1,59.2 433,61.3 430.9,63.8 428.6,66.7 426.2,70 423.6,73.9 420.8,78.1 417.9,82.6 414.9,87.2 412,91.9 409.1,96.4 406.3,100.6 403.7,104.4 401.3,107.8 399,110.7 396.9,113.2 394.8,115.2 392.7,116.9 390.5,118.3 388.1,119.5 385.6,120.4 383,121.2 380.6,121.8 378.6,122.2 377.3,122.4 376.8,122.4 376.7,122.4Z" fill="#e31a1c" fill-opacity="0.42" stroke="#e31a1c" stroke-opacity="0.21" stroke-width="0.40"/>
<path d="M376.7,122.4 376.8,122.4 377.3,122.4 378.6,122.2 380.6,121.8 383,121.3 385.6,120.6 388.1,119.7 390.5,118.6 392.7,117.3 394.8,115.7 396.9,113.8 399,111.5 401.3,108.8 403.7,105.7 406.3,102.2 409.1,98.3 412,94.1 414.9,89.8 417.9,85.4 420.8,81.2 423.6,77.3 426.2,73.8 428.6,70.7 430.9,68 433,65.7 435.1,63.8 437.2,62.2 439.4,60.9 441.8,59.8 444.3,58.9 446.9,58.2 449.3,57.7 451.3,57.3 452.6,57.1 453.1,57.1 453.2,57.1 453.2,57.5 453.1,57.5 452.6,57.6 451.3,57.7 449.3,58.1 446.9,58.6 444.3,59.4 441.8,60.2 439.4,61.3 437.2,62.6 435.1,64.2 433,66.1 430.9,68.4 428.6,71.1 426.2,74.2 423.6,77.8 420.8,81.7 417.9,85.8 414.9,90.2 412,94.5 409.1,98.7 406.3,102.6 403.7,106.1 401.3,109.3 399,112 396.9,114.3 394.8,116.2 392.7,117.7 390.5,119 388.1,120.1 385.6,121 383,121.7 380.6,122.2 378.6,122.6 377.3,122.8 376.8,122.9 376.7,122.9Z" fill="#e31a1c" fill-opacity="0.42" stroke="#e31a1c" stroke-opacity="0.21" stroke-width="0.40"/>
<path d="M376.7,122.9 376.8,122.9 377.3,122.8 378.6,122.6 380.6,122.3 383,121.8 385.6,121.1 388.1,120.3 390.5,119.3 392.7,118.1 394.8,116.6 396.9,114.9 399,112.7 401.3,110.2 403.7,107.3 406.3,104 409.1,100.4 412,96.5 414.9,92.5 417.9,88.5 420.8,84.6 423.6,80.9 426.2,77.7 428.6,74.7 430.9,72.2 433,70.1 435.1,68.3 437.2,66.9 439.4,65.7 441.8,64.7 444.3,63.8 446.9,63.2 449.3,62.7 451.3,62.4 452.6,62.2 453.1,62.1 453.2,62.1 453.2,62.5 453.1,62.5 452.6,62.6 451.3,62.8 449.3,63.1 446.9,63.6 444.3,64.3 441.8,65.1 439.4,66.1 437.2,67.3 435.1,68.8 433,70.5 430.9,72.7 428.6,75.2 426.2,78.1 423.6,81.4 420.8,85 417.9,88.9 414.9,92.9 412,96.9 409.1,100.8 406.3,104.4 403.7,107.7 401.3,110.6 399,113.2 396.9,115.3 394.8,117.1 392.7,118.5 390.5,119.7 388.1,120.7 385.6,121.5 383,122.2 380.6,122.7 378.6,123 377.3,123.2 376.8,123.3 376.7,123.3Z" fill="#e31a1c" fill-opacity="0.42" stroke="#e31a1c" stroke-opacity="0.21" stroke-width="0.40"/>
<path d="M376.7,123.3 376.8,123.3 377.3,123.2 378.6,123.1 380.6,122.7 383,122.3 385.6,121.6 388.1,120.9 390.5,119.9 392.7,118.8 394.8,117.4 396.9,115.8 399,113.8 401.3,111.4 403.7,108.7 406.3,105.6 409.1,102.1 412,98.5 414.9,94.7 417.9,90.9 420.8,87.3 423.6,83.8 426.2,80.7 428.6,78 430.9,75.6 433,73.6 435.1,72 437.2,70.6 439.4,69.5 441.8,68.5 444.3,67.7 446.9,67.1 449.3,66.6 451.3,66.3 452.6,66.2 453.1,66.1 453.2,66.1 453.2,66.3 453.1,66.3 452.6,66.4 451.3,66.5 449.3,66.9 446.9,67.3 444.3,68 441.8,68.7 439.4,69.7 437.2,70.8 435.1,72.2 433,73.8 430.9,75.8 428.6,78.2 426.2,80.9 423.6,84 420.8,87.5 417.9,91.1 414.9,94.9 412,98.7 409.1,102.3 406.3,105.8 403.7,108.9 401.3,111.6 399,114 396.9,116 394.8,117.6 392.7,119 390.5,120.1 388.1,121.1 385.6,121.9 383,122.5 380.6,123 378.6,123.3 377.3,123.4 376.8,123.5 376.7,123.5Z" fill="#e31a1c" fill-opacity="0.42" stroke="#e31a1c" stroke-opacity="0.21" stroke-width="0.40"/>
<path d="M376.7,123.5 376.8,123.5 377.3,123.4 378.6,123.3 380.6,123 383,122.5 385.6,121.9 388.1,121.2 390.5,120.3 392.7,119.2 394.8,117.9 396.9,116.3 399,114.4 401.3,112.2 403.7,109.6 406.3,106.6 409.1,103.4 412,99.9 414.9,96.3 417.9,92.7 420.8,89.2 423.6,85.9 426.2,83 428.6,80.4 430.9,78.1 433,76.2 435.1,74.6 437.2,73.3 439.4,72.2 441.8,71.3 444.3,70.6 446.9,70 449.3,69.6 451.3,69.3 452.6,69.1 453.1,69.1 453.2,69 453.2,69.5 453.1,69.5 452.6,69.5 451.3,69.7 449.3,70 446.9,70.4 444.3,71 441.8,71.8 439.4,72.7 437.2,73.7 435.1,75 433,76.6 430.9,78.5 428.6,80.8 426.2,83.4 423.6,86.3 420.8,89.6 417.9,93.1 414.9,96.7 412,100.3 409.1,103.8 406.3,107 403.7,110 401.3,112.6 399,114.8 396.9,116.8 394.8,118.3 392.7,119.6 390.5,120.7 388.1,121.6 385.6,122.4 383,123 380.6,123.4 378.6,123.7 377.3,123.9 376.8,123.9 376.7,123.9Z" fill="#e31a1c" fill-opacity="0.42" stroke="#e31a1c" stroke-opacity="0.21" stroke-width="0.40"/>
<path d="M376.7,123.9 376.8,123.9 377.3,123.9 378.6,123.7 380.6,123.4 383,123 385.6,122.5 388.1,121.8 390.5,121 392.7,120 394.8,118.8 396.9,117.4 399,115.6 401.3,113.6 403.7,111.2 406.3,108.5 409.1,105.5 412,102.3 414.9,99 417.9,95.7 420.8,92.5 423.6,89.5 426.2,86.8 428.6,84.5 430.9,82.4 433,80.6 435.1,79.2 437.2,78 439.4,77 441.8,76.2 444.3,75.5 446.9,75 449.3,74.6 451.3,74.3 452.6,74.1 453.1,74.1 453.2,74.1 453.2,74.3 453.1,74.3 452.6,74.4 451.3,74.5 449.3,74.8 446.9,75.2 444.3,75.7 441.8,76.4 439.4,77.2 437.2,78.2 435.1,79.4 433,80.9 430.9,82.6 428.6,84.7 426.2,87 423.6,89.8 420.8,92.7 417.9,95.9 414.9,99.2 412,102.5 409.1,105.7 406.3,108.7 403.7,111.4 401.3,113.8 399,115.8 396.9,117.6 394.8,119 392.7,120.2 390.5,121.2 388.1,122 385.6,122.7 383,123.2 380.6,123.7 378.6,123.9 377.3,124.1 376.8,124.1 376.7,124.1Z" fill="#e31a1c" fill-opacity="0.42" stroke="#e31a1c" stroke-opacity="0.21" stroke-width="0.40"/>
<path d="M376.7,124.1 376.8,124.1 377.3,124.1 378.6,123.9 380.6,123.7 383,123.3 385.6,122.8 388.1,122.2 390.5,121.4 392.7,120.5 394.8,119.4 396.9,118.1 399,116.5 401.3,114.5 403.7,112.3 406.3,109.9 409.1,107.1 412,104.2 414.9,101.1 417.9,98.1 420.8,95.1 423.6,92.4 426.2,89.9 428.6,87.7 430.9,85.8 433,84.1 435.1,82.8 437.2,81.7 439.4,80.8 441.8,80 444.3,79.4 446.9,78.9 449.3,78.5 451.3,78.3 452.6,78.1 453.1,78.1 453.2,78.1 453.2,78.3 453.1,78.3 452.6,78.4 451.3,78.5 449.3,78.7 446.9,79.1 444.3,79.6 441.8,80.2 439.4,81 437.2,81.9 435.1,83 433,84.4 430.9,86 428.6,87.9 426.2,90.1 423.6,92.6 420.8,95.3 417.9,98.3 414.9,101.3 412,104.4 409.1,107.3 406.3,110.1 403.7,112.6 401.3,114.8 399,116.7 396.9,118.3 394.8,119.6 392.7,120.7 390.5,121.6 388.1,122.4 385.6,123 383,123.5 380.6,123.9 378.6,124.1 377.3,124.3 376.8,124.3 376.7,124.3Z" fill="#e31a1c" fill-opacity="0.42" stroke="#e31a1c" stroke-opacity="0.21" stroke-width="0.40"/>
<path d="M376.7,124.3 376.8,124.3 377.3,124.3 378.6,124.3 380.6,124.3 383,124.2 385.6,124.1 388.1,124 390.5,123.9 392.7,123.7 394.8,123.5 396.9,123.3 399,123 401.3,122.7 403.7,122.3 406.3,121.9 409.1,121.5 412,121 414.9,120.4 417.9,119.9 420.8,119.4 423.6,119 426.2,118.6 428.6,118.2 430.9,117.9 433,117.6 435.1,117.4 437.2,117.2 439.4,117 441.8,116.9 444.3,116.8 446.9,116.7 449.3,116.6 451.3,116.6 452.6,116.6 453.1,116.6 453.2,116.6 453.2,117.2 453.1,117.2 452.6,117.2 451.3,117.2 449.3,117.3 446.9,117.3 444.3,117.4 441.8,117.5 439.4,117.6 437.2,117.8 435.1,118 433,118.2 430.9,118.5 428.6,118.8 426.2,119.2 423.6,119.6 420.8,120.1 417.9,120.6 414.9,121.1 412,121.6 409.1,122.1 406.3,122.6 403.7,123 401.3,123.4 399,123.7 396.9,123.9 394.8,124.2 392.7,124.4 390.5,124.5 388.1,124.6 385.6,124.7 383,124.8 380.6,124.9 378.6,124.9 377.3,125 376.8,125 376.7,125Z" fill="#e31a1c" fill-opacity="0.42" stroke="#e31a1c" stroke-opacity="0.21" stroke-width="0.40"/>
<path d="M376.7,125 376.8,125 377.3,125.1 378.6,125.5 380.6,126.1 383,127.2 385.6,128.5 388.1,130.2 390.5,132.2 392.7,134.6 394.8,137.6 396.9,141.2 399,145.5 401.3,150.6 403.7,156.4 406.3,163.1 409.1,170.5 412,178.3 414.9,186.5 417.9,194.6 420.8,202.5 423.6,209.8 426.2,216.5 428.6,222.4 430.9,227.5 433,231.8 435.1,235.4 437.2,238.3 439.4,240.7 441.8,242.8 444.3,244.4 446.9,245.8 449.3,246.8 451.3,247.5 452.6,247.8 453.1,247.9 453.2,248 453.2,248.8 453.1,248.8 452.6,248.7 451.3,248.3 449.3,247.6 446.9,246.6 444.3,245.3 441.8,243.6 439.4,241.6 437.2,239.1 435.1,236.2 433,232.6 430.9,228.3 428.6,223.2 426.2,217.3 423.6,210.7 420.8,203.3 417.9,195.4 414.9,187.3 412,179.2 409.1,171.3 406.3,163.9 403.7,157.3 401.3,151.4 399,146.3 396.9,142 394.8,138.4 392.7,135.5 390.5,133 388.1,131 385.6,129.3 383,128 380.6,127 378.6,126.3 377.3,126 376.8,125.8 376.7,125.8Z" fill="#e31a1c" fill-opacity="0.42" stroke="#e31a1c" stroke-opacity="0.21" stroke-width="0.40"/>
<path d="M376.7,125.8 376.8,125.8 377.3,125.7 378.6,125.5 380.6,125 383,124.4 385.6,123.5 388.1,122.4 390.5,121.1 392.7,119.5 394.8,117.6 396.9,115.2 399,112.4 401.3,109.1 403.7,105.3 406.3,100.9 409.1,96.1 412,91 414.9,85.7 417.9,80.3 420.8,75.2 423.6,70.4 426.2,66 428.6,62.2 430.9,58.9 433,56.1 435.1,53.7 437.2,51.8 439.4,50.2 441.8,48.9 444.3,47.8 446.9,46.9 449.3,46.3 451.3,45.8 452.6,45.6 453.1,45.5 453.2,45.5 453.2,46.5 453.1,46.6 452.6,46.6 451.3,46.9 449.3,47.3 446.9,48 444.3,48.9 441.8,49.9 439.4,51.3 437.2,52.9 435.1,54.8 433,57.1 430.9,59.9 428.6,63.3 426.2,67.1 423.6,71.5 420.8,76.3 417.9,81.4 414.9,86.7 412,92 409.1,97.2 406.3,102 403.7,106.3 401.3,110.2 399,113.5 396.9,116.3 394.8,118.6 392.7,120.5 390.5,122.1 388.1,123.5 385.6,124.6 383,125.4 380.6,126.1 378.6,126.5 377.3,126.8 376.8,126.8 376.7,126.9Z" fill="#fdbf6f" fill-opacity="0.50" stroke="#fdbf6f" stroke-opacity="0.25" stroke-width="0.40"/>
<path d="M376.7,126.9 376.8,126.9 377.3,126.8 378.6,126.6 380.6,126.1 383,125.5 385.6,124.7 388.1,123.7 390.5,122.5 392.7,121 394.8,119.2 396.9,117 399,114.4 401.3,111.3 403.7,107.7 406.3,103.7 409.1,99.2 412,94.4 414.9,89.4 417.9,84.5 420.8,79.7 423.6,75.2 426.2,71.2 428.6,67.6 430.9,64.5 433,61.9 435.1,59.7 437.2,57.9 439.4,56.4 441.8,55.2 444.3,54.2 446.9,53.3 449.3,52.7 451.3,52.3 452.6,52.1 453.1,52 453.2,52 453.2,52.9 453.1,52.9 452.6,52.9 451.3,53.2 449.3,53.6 446.9,54.2 444.3,55 441.8,56 439.4,57.3 437.2,58.7 435.1,60.5 433,62.7 430.9,65.3 428.6,68.4 426.2,72 423.6,76.1 420.8,80.5 417.9,85.3 414.9,90.3 412,95.2 409.1,100 406.3,104.5 403.7,108.6 401.3,112.1 399,115.2 396.9,117.9 394.8,120 392.7,121.8 390.5,123.3 388.1,124.5 385.6,125.6 383,126.4 380.6,127 378.6,127.4 377.3,127.6 376.8,127.7 376.7,127.7Z" fill="#fdbf6f" fill-opacity="0.50" stroke="#fdbf6f" stroke-opacity="0.25" stroke-width="0.40"/>
<path d="M376.7,127.7 376.8,127.7 377.3,127.6 378.6,127.4 380.6,127 383,126.5 385.6,125.7 388.1,124.7 390.5,123.6 392.7,122.2 394.8,120.5 396.9,118.5 399,116 401.3,113.1 403.7,109.7 406.3,105.9 409.1,101.7 412,97.2 414.9,92.6 417.9,87.9 420.8,83.5 423.6,79.3 426.2,75.4 428.6,72.1 430.9,69.2 433,66.7 435.1,64.7 437.2,63 439.4,61.6 441.8,60.5 444.3,59.5 446.9,58.7 449.3,58.2 451.3,57.8 452.6,57.6 453.1,57.5 453.2,57.5 453.2,58.1 453.1,58.1 452.6,58.2 451.3,58.4 449.3,58.8 446.9,59.4 444.3,60.1 441.8,61.1 439.4,62.2 437.2,63.6 435.1,65.3 433,67.4 430.9,69.8 428.6,72.7 426.2,76.1 423.6,79.9 420.8,84.1 417.9,88.6 414.9,93.2 412,97.9 409.1,102.4 406.3,106.6 403.7,110.4 401.3,113.7 399,116.6 396.9,119.1 394.8,121.1 392.7,122.8 390.5,124.2 388.1,125.4 385.6,126.3 383,127.1 380.6,127.7 378.6,128 377.3,128.2 376.8,128.3 376.7,128.3Z" fill="#fdbf6f" fill-opacity="0.50" stroke="#fdbf6f" stroke-opacity="0.25" stroke-width="0.40"/>
<path d="M376.7,128.3 376.8,128.3 377.3,128.3 378.6,128.1 380.6,127.7 383,127.2 385.6,126.4 388.1,125.5 390.5,124.5 392.7,123.2 394.8,121.6 396.9,119.7 399,117.4 401.3,114.6 403.7,111.5 406.3,107.9 409.1,104 412,99.8 414.9,95.4 417.9,91.1 420.8,86.9 423.6,82.9 426.2,79.4 428.6,76.2 430.9,73.5 433,71.2 435.1,69.3 437.2,67.7 439.4,66.4 441.8,65.3 444.3,64.4 446.9,63.7 449.3,63.2 451.3,62.8 452.6,62.6 453.1,62.5 453.2,62.5 453.2,63.4 453.1,63.4 452.6,63.4 451.3,63.6 449.3,64 446.9,64.5 444.3,65.3 441.8,66.2 439.4,67.2 437.2,68.5 435.1,70.1 433,72 430.9,74.3 428.6,77.1 426.2,80.2 423.6,83.8 420.8,87.7 417.9,91.9 414.9,96.3 412,100.6 409.1,104.8 406.3,108.8 403.7,112.3 401.3,115.5 399,118.2 396.9,120.5 394.8,122.4 392.7,124 390.5,125.3 388.1,126.4 385.6,127.3 383,128 380.6,128.5 378.6,128.9 377.3,129.1 376.8,129.2 376.7,129.2Z" fill="#fdbf6f" fill-opacity="0.50" stroke="#fdbf6f" stroke-opacity="0.25" stroke-width="0.40"/>
<path d="M376.7,129.2 376.8,129.2 377.3,129.1 378.6,128.9 380.6,128.6 383,128.1 385.6,127.4 388.1,126.5 390.5,125.5 392.7,124.2 394.8,122.7 396.9,120.9 399,118.7 401.3,116.1 403.7,113.1 406.3,109.7 409.1,105.9 412,101.9 414.9,97.7 417.9,93.6 420.8,89.6 423.6,85.8 426.2,82.4 428.6,79.4 430.9,76.8 433,74.6 435.1,72.8 437.2,71.3 439.4,70 441.8,69 444.3,68.1 446.9,67.4 449.3,66.9 451.3,66.6 452.6,66.4 453.1,66.3 453.2,66.3 453.2,66.7 453.1,66.7 452.6,66.8 451.3,67 449.3,67.3 446.9,67.8 444.3,68.5 441.8,69.4 439.4,70.4 437.2,71.7 435.1,73.2 433,75 430.9,77.2 428.6,79.8 426.2,82.8 423.6,86.2 420.8,90 417.9,94 414.9,98.2 412,102.3 409.1,106.3 406.3,110.1 403.7,113.5 401.3,116.5 399,119.1 396.9,121.3 394.8,123.1 392.7,124.7 390.5,125.9 388.1,126.9 385.6,127.8 383,128.5 380.6,129 378.6,129.3 377.3,129.5 376.8,129.6 376.7,129.6Z" fill="#fdbf6f" fill-opacity="0.50" stroke="#fdbf6f" stroke-opacity="0.25" stroke-width="0.40"/>
<path d="M376.7,129.6 376.8,129.6 377.3,129.5 378.6,129.3 380.6,129 383,128.5 385.6,127.9 388.1,127 390.5,126.1 392.7,124.9 394.8,123.4 396.9,121.7 399,119.6 401.3,117.1 403.7,114.2 406.3,110.9 409.1,107.4 412,103.5 414.9,99.5 417.9,95.5 420.8,91.7 423.6,88.1 426.2,84.9 428.6,82 430.9,79.5 433,77.4 435.1,75.6 437.2,74.2 439.4,73 441.8,72 444.3,71.2 446.9,70.5 449.3,70 451.3,69.7 452.6,69.5 453.1,69.5 453.2,69.5 453.2,69.9 453.1,69.9 452.6,70 451.3,70.1 449.3,70.5 446.9,71 444.3,71.6 441.8,72.4 439.4,73.4 437.2,74.6 435.1,76.1 433,77.8 430.9,79.9 428.6,82.4 426.2,85.3 423.6,88.5 420.8,92.1 417.9,96 414.9,99.9 412,103.9 409.1,107.8 406.3,111.4 403.7,114.6 401.3,117.5 399,120 396.9,122.1 394.8,123.8 392.7,125.3 390.5,126.5 388.1,127.5 385.6,128.3 383,128.9 380.6,129.4 378.6,129.8 377.3,129.9 376.8,130 376.7,130Z" fill="#fdbf6f" fill-opacity="0.50" stroke="#fdbf6f" stroke-opacity="0.25" stroke-width="0.40"/>
<path d="M376.7,130 376.8,130 377.3,129.9 378.6,129.8 380.6,129.5 383,129 385.6,128.3 388.1,127.5 390.5,126.6 392.7,125.4 394.8,124 396.9,122.4 399,120.3 401.3,117.9 403.7,115.1 406.3,112 409.1,108.5 412,104.8 414.9,100.9 417.9,97 420.8,93.3 423.6,89.8 426.2,86.7 428.6,83.9 430.9,81.5 433,79.4 435.1,77.7 437.2,76.4 439.4,75.2 441.8,74.2 444.3,73.4 446.9,72.8 449.3,72.3 451.3,72 452.6,71.8 453.1,71.8 453.2,71.8 453.2,72.2 453.1,72.2 452.6,72.3 451.3,72.4 449.3,72.8 446.9,73.2 444.3,73.9 441.8,74.7 439.4,75.6 437.2,76.8 435.1,78.2 433,79.9 430.9,81.9 428.6,84.3 426.2,87.1 423.6,90.3 420.8,93.7 417.9,97.5 414.9,101.3 412,105.2 409.1,108.9 406.3,112.4 403.7,115.5 401.3,118.3 399,120.7 396.9,122.8 394.8,124.5 392.7,125.9 390.5,127 388.1,128 385.6,128.8 383,129.4 380.6,129.9 378.6,130.2 377.3,130.4 376.8,130.4 376.7,130.4Z" fill="#fdbf6f" fill-opacity="0.50" stroke="#fdbf6f" stroke-opacity="0.25" stroke-width="0.40"/>
<path d="M376.7,130.4 376.8,130.4 377.3,130.4 378.6,130.2 380.6,129.9 383,129.4 385.6,128.8 388.1,128.1 390.5,127.1 392.7,126 394.8,124.7 396.9,123 399,121.1 401.3,118.8 403.7,116.1 406.3,113 409.1,109.7 412,106.1 414.9,102.4 417.9,98.7 420.8,95.1 423.6,91.7 426.2,88.7 428.6,86 430.9,83.7 433,81.7 435.1,80.1 437.2,78.7 439.4,77.6 441.8,76.7 444.3,75.9 446.9,75.3 449.3,74.8 451.3,74.5 452.6,74.4 453.1,74.3 453.2,74.3 453.2,74.7 453.1,74.7 452.6,74.8 451.3,75 449.3,75.3 446.9,75.7 444.3,76.3 441.8,77.1 439.4,78 437.2,79.1 435.1,80.5 433,82.1 430.9,84.1 428.6,86.4 426.2,89.1 423.6,92.1 420.8,95.5 417.9,99.1 414.9,102.8 412,106.5 409.1,110.1 406.3,113.4 403.7,116.5 401.3,119.2 399,121.5 396.9,123.5 394.8,125.1 392.7,126.4 390.5,127.6 388.1,128.5 385.6,129.2 383,129.9 380.6,130.3 378.6,130.6 377.3,130.8 376.8,130.8 376.7,130.9Z" fill="#fdbf6f" fill-opacity="0.50" stroke="#fdbf6f" stroke-opacity="0.25" stroke-width="0.40"/>
<path d="M376.7,130.9 376.8,130.8 377.3,130.8 378.6,130.6 380.6,130.4 383,129.9 385.6,129.3 388.1,128.6 390.5,127.8 392.7,126.7 394.8,125.5 396.9,123.9 399,122.1 401.3,119.9 403.7,117.4 406.3,114.6 409.1,111.4 412,108.1 414.9,104.6 417.9,101.1 420.8,97.7 423.6,94.6 426.2,91.7 428.6,89.2 430.9,87.1 433,85.2 435.1,83.7 437.2,82.4 439.4,81.4 441.8,80.5 444.3,79.8 446.9,79.2 449.3,78.8 451.3,78.5 452.6,78.4 453.1,78.3 453.2,78.3 453.2,78.5 453.1,78.5 452.6,78.6 451.3,78.7 449.3,79 446.9,79.4 444.3,80 441.8,80.7 439.4,81.6 437.2,82.6 435.1,83.9 433,85.4 430.9,87.3 428.6,89.4 426.2,92 423.6,94.8 420.8,97.9 417.9,101.3 414.9,104.8 412,108.3 409.1,111.6 406.3,114.8 403.7,117.6 401.3,120.1 399,122.3 396.9,124.1 394.8,125.7 392.7,126.9 390.5,128 388.1,128.8 385.6,129.6 383,130.1 380.6,130.6 378.6,130.8 377.3,131 376.8,131.1 376.7,131.1Z" fill="#fdbf6f" fill-opacity="0.50" stroke="#fdbf6f" stroke-opacity="0.25" stroke-width="0.40"/>
<path d="M376.7,131.1 376.8,131.1 377.3,131 378.6,131 380.6,130.9 383,130.8 385.6,130.7 388.1,130.5 390.5,130.3 392.7,130 394.8,129.6 396.9,129.2 399,128.8 401.3,128.2 403.7,127.5 406.3,126.8 409.1,125.9 412,125 414.9,124.1 417.9,123.2 420.8,122.3 423.6,121.5 426.2,120.7 428.6,120.1 430.9,119.5 433,119 435.1,118.6 437.2,118.3 439.4,118 441.8,117.8 444.3,117.6 446.9,117.4 449.3,117.3 451.3,117.2 452.6,117.2 453.1,117.2 453.2,117.2 453.2,118 453.1,118 452.6,118 451.3,118.1 449.3,118.2 446.9,118.3 444.3,118.4 441.8,118.6 439.4,118.8 437.2,119.1 435.1,119.5 433,119.9 430.9,120.3 428.6,120.9 426.2,121.6 423.6,122.3 420.8,123.2 417.9,124.1 414.9,125 412,125.9 409.1,126.8 406.3,127.6 403.7,128.4 401.3,129 399,129.6 396.9,130.1 394.8,130.5 392.7,130.8 390.5,131.1 388.1,131.3 385.6,131.5 383,131.7 380.6,131.8 378.6,131.9 377.3,131.9 376.8,131.9 376.7,131.9Z" fill="#fdbf6f" fill-opacity="0.50" stroke="#fdbf6f" stroke-opacity="0.25" stroke-width="0.40"/>
<path d="M376.7,131.9 376.8,131.9 377.3,132.1 378.6,132.4 380.6,133 383,134 385.6,135.3 388.1,136.9 390.5,138.8 392.7,141.1 394.8,143.9 396.9,147.3 399,151.4 401.3,156.2 403.7,161.8 406.3,168.2 409.1,175.1 412,182.6 414.9,190.4 417.9,198.1 420.8,205.6 423.6,212.6 426.2,218.9 428.6,224.5 430.9,229.3 433,233.4 435.1,236.8 437.2,239.6 439.4,241.9 441.8,243.9 444.3,245.4 446.9,246.7 449.3,247.7 451.3,248.3 452.6,248.7 453.1,248.8 453.2,248.8 453.2,249.6 453.1,249.6 452.6,249.5 451.3,249.2 449.3,248.5 446.9,247.6 444.3,246.3 441.8,244.7 439.4,242.8 437.2,240.5 435.1,237.7 433,234.3 430.9,230.2 428.6,225.3 426.2,219.7 423.6,213.4 420.8,206.4 417.9,198.9 414.9,191.2 412,183.5 409.1,176 406.3,169 403.7,162.7 401.3,157.1 399,152.2 396.9,148.1 394.8,144.7 392.7,141.9 390.5,139.6 388.1,137.7 385.6,136.1 383,134.8 380.6,133.9 378.6,133.2 377.3,132.9 376.8,132.8 376.7,132.7Z" fill="#fdbf6f" fill-opacity="0.50" stroke="#fdbf6f" stroke-opacity="0.25" stroke-width="0.40"/>
<path d="M376.7,132.7 376.8,132.7 377.3,132.6 378.6,132.4 380.6,131.9 383,131.2 385.6,130.3 388.1,129.1 390.5,127.7 392.7,126 394.8,123.9 396.9,121.4 399,118.4 401.3,114.8 403.7,110.7 406.3,106 409.1,100.9 412,95.4 414.9,89.6 417.9,83.9 420.8,78.4 423.6,73.3 426.2,68.6 428.6,64.5 430.9,60.9 433,57.9 435.1,55.4 437.2,53.3 439.4,51.6 441.8,50.2 444.3,49 446.9,48.1 449.3,47.4 451.3,46.9 452.6,46.7 453.1,46.6 453.2,46.5 453.2,46.8 453.1,46.8 452.6,46.9 451.3,47.1 449.3,47.6 446.9,48.3 444.3,49.2 441.8,50.4 439.4,51.8 437.2,53.5 435.1,55.6 433,58.1 430.9,61.1 428.6,64.7 426.2,68.8 423.6,73.5 420.8,78.6 417.9,84.2 414.9,89.9 412,95.6 409.1,101.1 406.3,106.2 403.7,110.9 401.3,115 399,118.6 396.9,121.6 394.8,124.1 392.7,126.2 390.5,127.9 388.1,129.3 385.6,130.5 383,131.4 380.6,132.1 378.6,132.6 377.3,132.9 376.8,132.9 376.7,133Z" fill="#ff7f00" fill-opacity="0.50" stroke="#ff7f00" stroke-opacity="0.25" stroke-width="0.40"/>
<path d="M376.7,133 376.8,132.9 377.3,132.9 378.6,132.6 380.6,132.2 383,131.5 385.6,130.7 388.1,129.6 390.5,128.2 392.7,126.7 394.8,124.7 396.9,122.4 399,119.6 401.3,116.3 403.7,112.5 406.3,108.1 409.1,103.3 412,98.2 414.9,92.9 417.9,87.6 420.8,82.5 423.6,77.7 426.2,73.4 428.6,69.5 430.9,66.2 433,63.4 435.1,61.1 437.2,59.2 439.4,57.6 441.8,56.2 444.3,55.2 446.9,54.3 449.3,53.6 451.3,53.2 452.6,53 453.1,52.9 453.2,52.9 453.2,53.5 453.1,53.5 452.6,53.6 451.3,53.8 449.3,54.3 446.9,54.9 444.3,55.8 441.8,56.9 439.4,58.2 437.2,59.8 435.1,61.7 433,64 430.9,66.8 428.6,70.1 426.2,74 423.6,78.3 420.8,83.1 417.9,88.2 414.9,93.5 412,98.8 409.1,104 406.3,108.8 403.7,113.1 401.3,116.9 399,120.2 396.9,123 394.8,125.4 392.7,127.3 390.5,128.9 388.1,130.2 385.6,131.3 383,132.2 380.6,132.8 378.6,133.3 377.3,133.5 376.8,133.6 376.7,133.6Z" fill="#ff7f00" fill-opacity="0.50" stroke="#ff7f00" stroke-opacity="0.25" stroke-width="0.40"/>
<path d="M376.7,133.6 376.8,133.6 377.3,133.5 378.6,133.3 380.6,132.9 383,132.2 385.6,131.4 388.1,130.4 390.5,129.1 392.7,127.7 394.8,125.8 396.9,123.7 399,121 401.3,117.9 403.7,114.3 406.3,110.2 409.1,105.7 412,100.8 414.9,95.8 417.9,90.9 420.8,86 423.6,81.5 426.2,77.4 428.6,73.8 430.9,70.7 433,68 435.1,65.9 437.2,64 439.4,62.5 441.8,61.3 444.3,60.3 446.9,59.5 449.3,58.8 451.3,58.4 452.6,58.2 453.1,58.1 453.2,58.1 453.2,58.3 453.1,58.3 452.6,58.4 451.3,58.6 449.3,59 446.9,59.7 444.3,60.5 441.8,61.5 439.4,62.8 437.2,64.3 435.1,66.1 433,68.3 430.9,70.9 428.6,74 426.2,77.6 423.6,81.7 420.8,86.2 417.9,91.1 414.9,96.1 412,101.1 409.1,105.9 406.3,110.4 403.7,114.5 401.3,118.1 399,121.2 396.9,123.9 394.8,126.1 392.7,127.9 390.5,129.4 388.1,130.6 385.6,131.6 383,132.5 380.6,133.1 378.6,133.5 377.3,133.7 376.8,133.8 376.7,133.8Z" fill="#ff7f00" fill-opacity="0.50" stroke="#ff7f00" stroke-opacity="0.25" stroke-width="0.40"/>
<path d="M376.7,133.8 376.8,133.8 377.3,133.7 378.6,133.5 380.6,133.1 383,132.5 385.6,131.8 388.1,130.8 390.5,129.7 392.7,128.3 394.8,126.6 396.9,124.5 399,122.1 401.3,119.1 403.7,115.8 406.3,112 409.1,107.7 412,103.2 414.9,98.6 417.9,93.9 420.8,89.4 423.6,85.2 426.2,81.4 428.6,78 430.9,75.1 433,72.6 435.1,70.6 437.2,68.9 439.4,67.5 441.8,66.3 444.3,65.4 446.9,64.6 449.3,64 451.3,63.7 452.6,63.5 453.1,63.4 453.2,63.4 453.2,63.8 453.1,63.8 452.6,63.9 451.3,64.1 449.3,64.5 446.9,65 444.3,65.8 441.8,66.8 439.4,67.9 437.2,69.3 435.1,71 433,73.1 430.9,75.5 428.6,78.4 426.2,81.8 423.6,85.6 420.8,89.8 417.9,94.3 414.9,99 412,103.7 409.1,108.2 406.3,112.4 403.7,116.2 401.3,119.6 399,122.5 396.9,125 394.8,127 392.7,128.7 390.5,130.1 388.1,131.2 385.6,132.2 383,133 380.6,133.5 378.6,133.9 377.3,134.1 376.8,134.2 376.7,134.2Z" fill="#ff7f00" fill-opacity="0.50" stroke="#ff7f00" stroke-opacity="0.25" stroke-width="0.40"/>
<path d="M376.7,134.2 376.8,134.2 377.3,134.1 378.6,133.9 380.6,133.6 383,133 385.6,132.3 388.1,131.4 390.5,130.3 392.7,128.9 394.8,127.3 396.9,125.3 399,123 401.3,120.2 403.7,117 406.3,113.3 409.1,109.3 412,104.9 414.9,100.5 417.9,96 420.8,91.7 423.6,87.7 426.2,84 428.6,80.8 430.9,78 433,75.6 435.1,73.7 437.2,72 439.4,70.7 441.8,69.6 444.3,68.7 446.9,67.9 449.3,67.4 451.3,67 452.6,66.8 453.1,66.7 453.2,66.7 453.2,66.9 453.1,67 452.6,67 451.3,67.2 449.3,67.6 446.9,68.1 444.3,68.9 441.8,69.8 439.4,70.9 437.2,72.2 435.1,73.9 433,75.8 430.9,78.2 428.6,81 426.2,84.2 423.6,87.9 420.8,91.9 417.9,96.2 414.9,100.7 412,105.2 409.1,109.5 406.3,113.5 403.7,117.2 401.3,120.4 399,123.2 396.9,125.5 394.8,127.5 392.7,129.1 390.5,130.5 388.1,131.6 385.6,132.5 383,133.2 380.6,133.8 378.6,134.2 377.3,134.3 376.8,134.4 376.7,134.4Z" fill="#ff7f00" fill-opacity="0.50" stroke="#ff7f00" stroke-opacity="0.25" stroke-width="0.40"/>
<path d="M376.7,134.4 376.8,134.4 377.3,134.4 378.6,134.2 380.6,133.8 383,133.3 385.6,132.6 388.1,131.7 390.5,130.6 392.7,129.4 394.8,127.8 396.9,125.9 399,123.7 401.3,121 403.7,117.9 406.3,114.4 409.1,110.6 412,106.4 414.9,102.2 417.9,97.9 420.8,93.8 423.6,89.9 426.2,86.4 428.6,83.3 430.9,80.6 433,78.4 435.1,76.5 437.2,75 439.4,73.7 441.8,72.6 444.3,71.7 446.9,71 449.3,70.5 451.3,70.2 452.6,70 453.1,69.9 453.2,69.9 453.2,70.1 453.1,70.1 452.6,70.2 451.3,70.4 449.3,70.7 446.9,71.2 444.3,71.9 441.8,72.8 439.4,73.9 437.2,75.2 435.1,76.7 433,78.6 430.9,80.9 428.6,83.5 426.2,86.6 423.6,90.1 420.8,94 417.9,98.1 414.9,102.4 412,106.6 409.1,110.8 406.3,114.6 403.7,118.1 401.3,121.2 399,123.9 396.9,126.1 394.8,128 392.7,129.6 390.5,130.8 388.1,131.9 385.6,132.8 383,133.5 380.6,134 378.6,134.4 377.3,134.6 376.8,134.6 376.7,134.6Z" fill="#ff7f00" fill-opacity="0.50" stroke="#ff7f00" stroke-opacity="0.25" stroke-width="0.40"/>
<path d="M376.7,134.6 376.8,134.6 377.3,134.6 378.6,134.4 380.6,134 383,133.5 385.6,132.8 388.1,132 390.5,131 392.7,129.7 394.8,128.2 396.9,126.4 399,124.2 401.3,121.7 403.7,118.7 406.3,115.3 409.1,111.5 412,107.6 414.9,103.4 417.9,99.3 420.8,95.3 423.6,91.6 426.2,88.2 428.6,85.2 430.9,82.6 433,80.4 435.1,78.6 437.2,77.1 439.4,75.9 441.8,74.8 444.3,74 446.9,73.3 449.3,72.8 451.3,72.5 452.6,72.3 453.1,72.2 453.2,72.2 453.2,72.4 453.1,72.4 452.6,72.5 451.3,72.7 449.3,73 446.9,73.5 444.3,74.2 441.8,75.1 439.4,76.1 437.2,77.3 435.1,78.8 433,80.6 430.9,82.8 428.6,85.4 426.2,88.4 423.6,91.8 420.8,95.5 417.9,99.5 414.9,103.6 412,107.8 409.1,111.8 406.3,115.5 403.7,118.9 401.3,121.9 399,124.4 396.9,126.6 394.8,128.4 392.7,129.9 390.5,131.2 388.1,132.2 385.6,133.1 383,133.7 380.6,134.3 378.6,134.6 377.3,134.8 376.8,134.8 376.7,134.9Z" fill="#ff7f00" fill-opacity="0.50" stroke="#ff7f00" stroke-opacity="0.25" stroke-width="0.40"/>
<path d="M376.7,134.9 376.8,134.8 377.3,134.8 378.6,134.6 380.6,134.3 383,133.8 385.6,133.1 388.1,132.3 390.5,131.3 392.7,130.1 394.8,128.7 396.9,126.9 399,124.8 401.3,122.3 403.7,119.5 406.3,116.2 409.1,112.6 412,108.8 414.9,104.8 417.9,100.8 420.8,97 423.6,93.4 426.2,90.1 428.6,87.2 430.9,84.7 433,82.6 435.1,80.9 437.2,79.4 439.4,78.3 441.8,77.3 444.3,76.4 446.9,75.8 449.3,75.3 451.3,75 452.6,74.8 453.1,74.7 453.2,74.7 453.2,75.1 453.1,75.1 452.6,75.2 451.3,75.4 449.3,75.7 446.9,76.2 444.3,76.9 441.8,77.7 439.4,78.7 437.2,79.9 435.1,81.3 433,83.1 430.9,85.2 428.6,87.6 426.2,90.5 423.6,93.8 420.8,97.4 417.9,101.2 414.9,105.2 412,109.2 409.1,113 406.3,116.6 403.7,119.9 401.3,122.8 399,125.2 396.9,127.4 394.8,129.1 392.7,130.5 390.5,131.7 388.1,132.7 385.6,133.5 383,134.2 380.6,134.7 378.6,135 377.3,135.2 376.8,135.3 376.7,135.3Z" fill="#ff7f00" fill-opacity="0.50" stroke="#ff7f00" stroke-opacity="0.25" stroke-width="0.40"/>
<path d="M376.7,135.3 376.8,135.3 377.3,135.2 378.6,135 380.6,134.7 383,134.3 385.6,133.6 388.1,132.9 390.5,131.9 392.7,130.8 394.8,129.5 396.9,127.8 399,125.8 401.3,123.5 403.7,120.7 406.3,117.7 409.1,114.3 412,110.6 414.9,106.9 417.9,103.1 420.8,99.5 423.6,96.1 426.2,93 428.6,90.3 430.9,88 433,86 435.1,84.3 437.2,83 439.4,81.8 441.8,80.9 444.3,80.1 446.9,79.5 449.3,79 451.3,78.7 452.6,78.6 453.1,78.5 453.2,78.5 453.2,78.7 453.1,78.7 452.6,78.8 451.3,78.9 449.3,79.3 446.9,79.7 444.3,80.3 441.8,81.1 439.4,82.1 437.2,83.2 435.1,84.5 433,86.2 430.9,88.2 428.6,90.5 426.2,93.2 423.6,96.3 420.8,99.7 417.9,103.3 414.9,107.1 412,110.9 409.1,114.5 406.3,117.9 403.7,121 401.3,123.7 399,126 396.9,128 394.8,129.7 392.7,131 390.5,132.1 388.1,133.1 385.6,133.9 383,134.5 380.6,134.9 378.6,135.2 377.3,135.4 376.8,135.5 376.7,135.5Z" fill="#ff7f00" fill-opacity="0.50" stroke="#ff7f00" stroke-opacity="0.25" stroke-width="0.40"/>
<path d="M376.7,135.5 376.8,135.5 377.3,135.5 378.6,135.4 380.6,135.3 383,135.2 385.6,135 388.1,134.7 390.5,134.5 392.7,134.1 394.8,133.7 396.9,133.2 399,132.6 401.3,131.9 403.7,131 406.3,130.1 409.1,129 412,127.9 414.9,126.8 417.9,125.6 420.8,124.5 423.6,123.4 426.2,122.5 428.6,121.7 430.9,120.9 433,120.3 435.1,119.8 437.2,119.4 439.4,119.1 441.8,118.8 444.3,118.5 446.9,118.3 449.3,118.2 451.3,118.1 452.6,118.1 453.1,118 453.2,118 453.2,118.5 453.1,118.5 452.6,118.5 451.3,118.5 449.3,118.6 446.9,118.8 444.3,119 441.8,119.2 439.4,119.5 437.2,119.8 435.1,120.2 433,120.7 430.9,121.4 428.6,122.1 426.2,122.9 423.6,123.9 420.8,124.9 417.9,126 414.9,127.2 412,128.3 409.1,129.4 406.3,130.5 403.7,131.4 401.3,132.3 399,133 396.9,133.6 394.8,134.1 392.7,134.5 390.5,134.9 388.1,135.2 385.6,135.4 383,135.6 380.6,135.7 378.6,135.8 377.3,135.9 376.8,135.9 376.7,135.9Z" fill="#ff7f00" fill-opacity="0.50" stroke="#ff7f00" stroke-opacity="0.25" stroke-width="0.40"/>
<path d="M376.7,135.9 376.8,135.9 377.3,136 378.6,136.4 380.6,137 383,137.9 385.6,139.2 388.1,140.7 390.5,142.6 392.7,144.8 394.8,147.6 396.9,150.9 399,154.9 401.3,159.6 403.7,165 406.3,171.2 409.1,178 412,185.2 414.9,192.8 417.9,200.3 420.8,207.6 423.6,214.4 426.2,220.5 428.6,226 430.9,230.7 433,234.7 435.1,238 437.2,240.7 439.4,243 441.8,244.8 444.3,246.4 446.9,247.6 449.3,248.6 451.3,249.2 452.6,249.5 453.1,249.6 453.2,249.6 453.2,250.3 453.1,250.3 452.6,250.1 451.3,249.8 449.3,249.2 446.9,248.3 444.3,247 441.8,245.5 439.4,243.6 437.2,241.3 435.1,238.6 433,235.3 430.9,231.3 428.6,226.6 426.2,221.2 423.6,215 420.8,208.2 417.9,200.9 414.9,193.4 412,185.9 409.1,178.6 406.3,171.8 403.7,165.6 401.3,160.2 399,155.5 396.9,151.5 394.8,148.2 392.7,145.5 390.5,143.2 388.1,141.4 385.6,139.8 383,138.6 380.6,137.6 378.6,137 377.3,136.7 376.8,136.6 376.7,136.5Z" fill="#ff7f00" fill-opacity="0.50" stroke="#ff7f00" stroke-opacity="0.25" stroke-width="0.40"/>
<path d="M376.7,136.5 376.8,136.5 377.3,136.4 378.6,136.2 380.6,135.7 383,134.9 385.6,134 388.1,132.7 390.5,131.3 392.7,129.5 394.8,127.3 396.9,124.7 399,121.6 401.3,117.9 403.7,113.6 406.3,108.7 409.1,103.3 412,97.6 414.9,91.6 417.9,85.7 420.8,80 423.6,74.6 426.2,69.7 428.6,65.4 430.9,61.7 433,58.6 435.1,56 437.2,53.8 439.4,52 441.8,50.6 444.3,49.3 446.9,48.4 449.3,47.6 451.3,47.1 452.6,46.9 453.1,46.8 453.2,46.8 453.2,47.2 453.1,47.2 452.6,47.3 451.3,47.5 449.3,48 446.9,48.8 444.3,49.8 441.8,51 439.4,52.5 437.2,54.2 435.1,56.4 433,59 430.9,62.1 428.6,65.9 426.2,70.1 423.6,75 420.8,80.4 417.9,86.1 414.9,92.1 412,98 409.1,103.7 406.3,109.1 403.7,114 401.3,118.3 399,122 396.9,125.1 394.8,127.7 392.7,129.9 390.5,131.7 388.1,133.2 385.6,134.4 383,135.4 380.6,136.1 378.6,136.6 377.3,136.8 376.8,136.9 376.7,137Z" fill="#cab2d6" fill-opacity="0.50" stroke="#cab2d6" stroke-opacity="0.25" stroke-width="0.40"/>
<path d="M376.7,137 376.8,136.9 377.3,136.9 378.6,136.6 380.6,136.2 383,135.5 385.6,134.6 388.1,133.4 390.5,132 392.7,130.4 394.8,128.4 396.9,126 399,123 401.3,119.6 403.7,115.6 406.3,111.1 409.1,106.1 412,100.7 414.9,95.2 417.9,89.7 420.8,84.4 423.6,79.4 426.2,74.8 428.6,70.8 430.9,67.4 433,64.5 435.1,62 437.2,60 439.4,58.4 441.8,57 444.3,55.9 446.9,55 449.3,54.3 451.3,53.8 452.6,53.6 453.1,53.5 453.2,53.5 453.2,54.1 453.1,54.1 452.6,54.2 451.3,54.5 449.3,54.9 446.9,55.6 444.3,56.5 441.8,57.7 439.4,59 437.2,60.7 435.1,62.7 433,65.1 430.9,68 428.6,71.5 426.2,75.5 423.6,80 420.8,85 417.9,90.3 414.9,95.8 412,101.4 409.1,106.7 406.3,111.7 403.7,116.2 401.3,120.2 399,123.7 396.9,126.6 394.8,129 392.7,131 390.5,132.7 388.1,134 385.6,135.2 383,136.1 380.6,136.8 378.6,137.2 377.3,137.5 376.8,137.6 376.7,137.6Z" fill="#cab2d6" fill-opacity="0.50" stroke="#cab2d6" stroke-opacity="0.25" stroke-width="0.40"/>
<path d="M376.7,137.6 376.8,137.6 377.3,137.5 378.6,137.3 380.6,136.9 383,136.3 385.6,135.5 388.1,134.5 390.5,133.2 392.7,131.8 394.8,130 396.9,127.9 399,125.3 401.3,122.2 403.7,118.7 406.3,114.7 409.1,110.3 412,105.6 414.9,100.7 417.9,95.8 420.8,91.1 423.6,86.7 426.2,82.7 428.6,79.1 430.9,76.1 433,73.5 435.1,71.4 437.2,69.6 439.4,68.1 441.8,66.9 444.3,65.9 446.9,65.1 449.3,64.5 451.3,64.1 452.6,63.9 453.1,63.8 453.2,63.8 453.2,64.4 453.1,64.4 452.6,64.5 451.3,64.7 449.3,65.1 446.9,65.7 444.3,66.5 441.8,67.5 439.4,68.8 437.2,70.2 435.1,72 433,74.1 430.9,76.7 428.6,79.8 426.2,83.3 423.6,87.3 420.8,91.7 417.9,96.4 414.9,101.3 412,106.2 409.1,110.9 406.3,115.3 403.7,119.3 401.3,122.9 399,125.9 396.9,128.5 394.8,130.6 392.7,132.4 390.5,133.9 388.1,135.1 385.6,136.1 383,136.9 380.6,137.5 378.6,137.9 377.3,138.1 376.8,138.2 376.7,138.2Z" fill="#cab2d6" fill-opacity="0.50" stroke="#cab2d6" stroke-opacity="0.25" stroke-width="0.40"/>
<path d="M376.7,138.2 376.8,138.2 377.3,138.1 378.6,137.9 380.6,137.5 383,136.9 385.6,136.2 388.1,135.2 390.5,134 392.7,132.6 394.8,130.9 396.9,128.8 399,126.3 401.3,123.4 403.7,120 406.3,116.1 409.1,111.9 412,107.3 414.9,102.6 417.9,97.9 420.8,93.3 423.6,89 426.2,85.2 428.6,81.8 430.9,78.8 433,76.3 435.1,74.2 437.2,72.5 439.4,71.1 441.8,70 444.3,69 446.9,68.2 449.3,67.6 451.3,67.2 452.6,67 453.1,67 453.2,66.9 453.2,67.2 453.1,67.2 452.6,67.2 451.3,67.4 449.3,67.8 446.9,68.4 444.3,69.2 441.8,70.2 439.4,71.3 437.2,72.8 435.1,74.5 433,76.5 430.9,79 428.6,82 426.2,85.4 423.6,89.3 420.8,93.5 417.9,98.1 414.9,102.8 412,107.5 409.1,112.1 406.3,116.3 403.7,120.2 401.3,123.6 399,126.5 396.9,129 394.8,131.1 392.7,132.8 390.5,134.2 388.1,135.4 385.6,136.4 383,137.2 380.6,137.7 378.6,138.1 377.3,138.3 376.8,138.4 376.7,138.4Z" fill="#cab2d6" fill-opacity="0.50" stroke="#cab2d6" stroke-opacity="0.25" stroke-width="0.40"/>
<path d="M376.7,138.4 376.8,138.4 377.3,138.3 378.6,138.1 380.6,137.8 383,137.2 385.6,136.5 388.1,135.5 390.5,134.4 392.7,133.1 394.8,131.4 396.9,129.4 399,127 401.3,124.2 403.7,120.9 406.3,117.2 409.1,113.2 412,108.8 414.9,104.3 417.9,99.7 420.8,95.4 423.6,91.3 426.2,87.6 428.6,84.3 430.9,81.5 433,79.1 435.1,77.1 437.2,75.5 439.4,74.1 441.8,73 444.3,72.1 446.9,71.3 449.3,70.7 451.3,70.4 452.6,70.2 453.1,70.1 453.2,70.1 453.2,70.5 453.1,70.5 452.6,70.6 451.3,70.8 449.3,71.2 446.9,71.7 444.3,72.5 441.8,73.4 439.4,74.5 437.2,75.9 435.1,77.5 433,79.5 430.9,81.9 428.6,84.7 426.2,88 423.6,91.7 420.8,95.8 417.9,100.2 414.9,104.7 412,109.2 409.1,113.6 406.3,117.7 403.7,121.4 401.3,124.6 399,127.5 396.9,129.9 394.8,131.8 392.7,133.5 390.5,134.8 388.1,136 385.6,136.9 383,137.6 380.6,138.2 378.6,138.6 377.3,138.8 376.8,138.8 376.7,138.8Z" fill="#cab2d6" fill-opacity="0.50" stroke="#cab2d6" stroke-opacity="0.25" stroke-width="0.40"/>
<path d="M376.7,138.8 376.8,138.8 377.3,138.8 378.6,138.6 380.6,138.2 383,137.7 385.6,136.9 388.1,136 390.5,134.9 392.7,133.6 394.8,132 396.9,130.1 399,127.8 401.3,125 403.7,121.8 406.3,118.2 409.1,114.3 412,110 414.9,105.6 417.9,101.2 420.8,97 423.6,93 426.2,89.4 428.6,86.2 430.9,83.5 433,81.2 435.1,79.2 437.2,77.6 439.4,76.3 441.8,75.2 444.3,74.3 446.9,73.6 449.3,73 451.3,72.7 452.6,72.5 453.1,72.4 453.2,72.4 453.2,72.6 453.1,72.6 452.6,72.7 451.3,72.9 449.3,73.3 446.9,73.8 444.3,74.5 441.8,75.4 439.4,76.5 437.2,77.8 435.1,79.4 433,81.4 430.9,83.7 428.6,86.4 426.2,89.6 423.6,93.2 420.8,97.2 417.9,101.4 414.9,105.8 412,110.2 409.1,114.5 406.3,118.5 403.7,122.1 401.3,125.2 399,128 396.9,130.3 394.8,132.2 392.7,133.8 390.5,135.1 388.1,136.2 385.6,137.1 383,137.9 380.6,138.4 378.6,138.8 377.3,139 376.8,139 376.7,139.1Z" fill="#cab2d6" fill-opacity="0.50" stroke="#cab2d6" stroke-opacity="0.25" stroke-width="0.40"/>
<path d="M376.7,139.1 376.8,139 377.3,139 378.6,138.8 380.6,138.4 383,137.9 385.6,137.2 388.1,136.3 390.5,135.3 392.7,134 394.8,132.5 396.9,130.6 399,128.4 401.3,125.8 403.7,122.7 406.3,119.2 409.1,115.4 412,111.3 414.9,107.1 417.9,102.9 420.8,98.8 423.6,95 426.2,91.5 428.6,88.4 430.9,85.8 433,83.6 435.1,81.7 437.2,80.2 439.4,78.9 441.8,77.8 444.3,77 446.9,76.3 449.3,75.8 451.3,75.4 452.6,75.2 453.1,75.1 453.2,75.1 453.2,75.8 453.1,75.8 452.6,75.8 451.3,76 449.3,76.4 446.9,76.9 444.3,77.6 441.8,78.5 439.4,79.5 437.2,80.8 435.1,82.3 433,84.2 430.9,86.4 428.6,89.1 426.2,92.1 423.6,95.6 420.8,99.4 417.9,103.5 414.9,107.7 412,112 409.1,116 406.3,119.9 403.7,123.3 401.3,126.4 399,129 396.9,131.3 394.8,133.1 392.7,134.7 390.5,135.9 388.1,137 385.6,137.9 383,138.6 380.6,139.1 378.6,139.4 377.3,139.6 376.8,139.7 376.7,139.7Z" fill="#cab2d6" fill-opacity="0.50" stroke="#cab2d6" stroke-opacity="0.25" stroke-width="0.40"/>
<path d="M376.7,139.7 376.8,139.7 377.3,139.6 378.6,139.4 380.6,139.1 383,138.6 385.6,137.9 388.1,137.1 390.5,136.1 392.7,134.9 394.8,133.4 396.9,131.7 399,129.5 401.3,127 403.7,124.1 406.3,120.8 409.1,117.1 412,113.2 414.9,109.2 417.9,105.2 420.8,101.3 423.6,97.6 426.2,94.3 428.6,91.4 430.9,88.9 433,86.7 435.1,85 437.2,83.5 439.4,82.3 441.8,81.3 444.3,80.5 446.9,79.8 449.3,79.3 451.3,79 452.6,78.8 453.1,78.7 453.2,78.7 453.2,79.8 453.1,79.8 452.6,79.8 451.3,80 449.3,80.3 446.9,80.8 444.3,81.5 441.8,82.3 439.4,83.4 437.2,84.6 435.1,86 433,87.8 430.9,89.9 428.6,92.4 426.2,95.4 423.6,98.7 420.8,102.3 417.9,106.2 414.9,110.3 412,114.3 409.1,118.2 406.3,121.8 403.7,125.1 401.3,128.1 399,130.6 396.9,132.7 394.8,134.5 392.7,135.9 390.5,137.2 388.1,138.2 385.6,139 383,139.7 380.6,140.2 378.6,140.5 377.3,140.7 376.8,140.7 376.7,140.7Z" fill="#cab2d6" fill-opacity="0.50" stroke="#cab2d6" stroke-opacity="0.25" stroke-width="0.40"/>
<path d="M376.7,140.7 376.8,140.7 377.3,140.7 378.6,140.6 380.6,140.5 383,140.3 385.6,140.1 388.1,139.8 390.5,139.4 392.7,139 394.8,138.5 396.9,137.8 399,137 401.3,136.1 403.7,135 406.3,133.8 409.1,132.5 412,131.1 414.9,129.6 417.9,128.1 420.8,126.7 423.6,125.4 426.2,124.2 428.6,123.1 430.9,122.2 433,121.4 435.1,120.7 437.2,120.2 439.4,119.8 441.8,119.4 444.3,119.1 446.9,118.8 449.3,118.7 451.3,118.5 452.6,118.5 453.1,118.5 453.2,118.5 453.2,123.5 453.1,123.5 452.6,123.5 451.3,123.6 449.3,123.7 446.9,123.9 444.3,124.1 441.8,124.4 439.4,124.8 437.2,125.3 435.1,125.8 433,126.4 430.9,127.2 428.6,128.1 426.2,129.2 423.6,130.4 420.8,131.7 417.9,133.2 414.9,134.6 412,136.1 409.1,137.5 406.3,138.9 403.7,140.1 401.3,141.1 399,142.1 396.9,142.9 394.8,143.5 392.7,144 390.5,144.5 388.1,144.8 385.6,145.1 383,145.4 380.6,145.6 378.6,145.7 377.3,145.8 376.8,145.8 376.7,145.8Z" fill="#cab2d6" fill-opacity="0.50" stroke="#cab2d6" stroke-opacity="0.25" stroke-width="0.40"/>
<path d="M376.7,145.8 376.8,145.8 377.3,145.9 378.6,146.2 380.6,146.8 383,147.6 385.6,148.8 388.1,150.2 390.5,151.9 392.7,154 394.8,156.5 396.9,159.5 399,163.2 401.3,167.5 403.7,172.5 406.3,178.2 409.1,184.4 412,191.1 414.9,198 417.9,204.9 420.8,211.6 423.6,217.9 426.2,223.5 428.6,228.5 430.9,232.9 433,236.5 435.1,239.6 437.2,242.1 439.4,244.1 441.8,245.9 444.3,247.3 446.9,248.4 449.3,249.3 451.3,249.8 452.6,250.2 453.1,250.3 453.2,250.3 453.2,251.1 453.1,251.1 452.6,251 451.3,250.7 449.3,250.1 446.9,249.3 444.3,248.1 441.8,246.7 439.4,245 437.2,242.9 435.1,240.4 433,237.4 430.9,233.7 428.6,229.4 426.2,224.4 423.6,218.7 420.8,212.5 417.9,205.8 414.9,198.9 412,192 409.1,185.3 406.3,179 403.7,173.4 401.3,168.4 399,164 396.9,160.4 394.8,157.3 392.7,154.8 390.5,152.8 388.1,151.1 385.6,149.6 383,148.5 380.6,147.6 378.6,147.1 377.3,146.8 376.8,146.6 376.7,146.6Z" fill="#cab2d6" fill-opacity="0.50" stroke="#cab2d6" stroke-opacity="0.25" stroke-width="0.40"/>
<path d="M376.7,146.6 376.8,146.6 377.3,146.6 378.6,146.5 380.6,146.4 383,146.2 385.6,146 388.1,145.6 390.5,145.3 392.7,144.8 394.8,144.3 396.9,143.6 399,142.8 401.3,141.8 403.7,140.7 406.3,139.5 409.1,138.1 412,136.6 414.9,135.1 417.9,133.5 420.8,132.1 423.6,130.7 426.2,129.4 428.6,128.3 430.9,127.4 433,126.5 435.1,125.9 437.2,125.3 439.4,124.9 441.8,124.5 444.3,124.2 446.9,123.9 449.3,123.7 451.3,123.6 452.6,123.5 453.1,123.5 453.2,123.5 453.2,228 453.1,228 452.6,228 451.3,228.1 449.3,228.2 446.9,228.4 444.3,228.7 441.8,229 439.4,229.4 437.2,229.8 435.1,230.4 433,231 430.9,231.8 428.6,232.8 426.2,233.9 423.6,235.2 420.8,236.5 417.9,238 414.9,239.6 412,241.1 409.1,242.6 406.3,243.9 403.7,245.2 401.3,246.3 399,247.3 396.9,248.1 394.8,248.7 392.7,249.3 390.5,249.8 388.1,250.1 385.6,250.5 383,250.7 380.6,250.9 378.6,251 377.3,251.1 376.8,251.1 376.7,251.1Z" fill="#616161" fill-opacity="0.50" stroke="#616161" stroke-opacity="0.25" stroke-width="0.40"/>
<path d="M376.7,251.1 376.8,251.1 377.3,251.1 378.6,251.1 380.6,251.1 383,251.1 385.6,251.1 388.1,251.1 390.5,251.1 392.7,251.1 394.8,251.1 396.9,251.1 399,251.1 401.3,251.1 403.7,251.1 406.3,251.1 409.1,251.1 412,251.1 414.9,251.1 417.9,251.1 420.8,251.1 423.6,251.1 426.2,251.1 428.6,251.1 430.9,251.1 433,251.1 435.1,251.1 437.2,251.1 439.4,251.1 441.8,251.1 444.3,251.1 446.9,251.1 449.3,251.1 451.3,251.1 452.6,251.1 453.1,251.1 453.2,251.1 453.2,302 453.1,302 452.6,302 451.3,302 449.3,302 446.9,302 444.3,302 441.8,302 439.4,302 437.2,302 435.1,302 433,302 430.9,302 428.6,302 426.2,302 423.6,302 420.8,302 417.9,302 414.9,302 412,302 409.1,302 406.3,302 403.7,302 401.3,302 399,302 396.9,302 394.8,302 392.7,302 390.5,302 388.1,302 385.6,302 383,302 380.6,302 378.6,302 377.3,302 376.8,302 376.7,302Z" fill="#ffffff" fill-opacity="0.50" stroke="#ffffff" stroke-opacity="0.25" stroke-width="0.40"/>
<rect x="69.20" y="32.25" width="51.50" height="40.58" fill="#a6cee3" stroke="#000" stroke-width="1.00"/>
<rect x="69.20" y="72.83" width="51.50" height="161.26" fill="#1f78b4" stroke="#000" stroke-width="1.00"/>
<rect x="69.20" y="234.09" width="51.50" height="34.90" fill="#b2df8a" stroke="#000" stroke-width="1.00"/>
<rect x="69.20" y="268.99" width="51.50" height="0.63" fill="#33a02c" stroke="#000" stroke-width="1.00"/>
<rect x="69.20" y="269.62" width="51.50" height="14.72" fill="#fb9a99" stroke="#000" stroke-width="1.00"/>
<rect x="69.20" y="284.34" width="51.50" height="3.78" fill="#e31a1c" stroke="#000" stroke-width="1.00"/>
<rect x="69.20" y="288.12" width="51.50" height="0.63" fill="#fdbf6f" stroke="#000" stroke-width="1.00"/>
<rect x="69.20" y="288.75" width="51.50" height="13.25" fill="#cab2d6" stroke="#000" stroke-width="1.00"/>
<rect x="197.20" y="32.25" width="51.50" height="118.37" fill="#a6cee3" stroke="#000" stroke-width="1.00"/>
<rect x="197.20" y="150.62" width="51.50" height="67.07" fill="#1f78b4" stroke="#000" stroke-width="1.00"/>
<rect x="197.20" y="217.69" width="51.50" height="18.71" fill="#b2df8a" stroke="#000" stroke-width="1.00"/>
<rect x="197.20" y="236.40" width="51.50" height="18.08" fill="#33a02c" stroke="#000" stroke-width="1.00"/>
<rect x="197.20" y="254.48" width="51.50" height="16.19" fill="#fb9a99" stroke="#000" stroke-width="1.00"/>
<rect x="197.20" y="270.67" width="51.50" height="8.41" fill="#e31a1c" stroke="#000" stroke-width="1.00"/>
<rect x="197.20" y="279.08" width="51.50" height="6.31" fill="#fdbf6f" stroke="#000" stroke-width="1.00"/>
<rect x="197.20" y="285.39" width="51.50" height="4.84" fill="#ff7f00" stroke="#000" stroke-width="1.00"/>
<rect x="197.20" y="290.23" width="51.50" height="11.77" fill="#cab2d6" stroke="#000" stroke-width="1.00"/>
<rect x="325.20" y="32.25" width="51.50" height="46.68" fill="#a6cee3" stroke="#000" stroke-width="1.00"/>
<rect x="325.20" y="78.92" width="51.50" height="19.76" fill="#1f78b4" stroke="#000" stroke-width="1.00"/>
<rect x="325.20" y="98.69" width="51.50" height="6.94" fill="#b2df8a" stroke="#000" stroke-width="1.00"/>
<rect x="325.20" y="105.63" width="51.50" height="11.14" fill="#33a02c" stroke="#000" stroke-width="1.00"/>
<rect x="325.20" y="116.77" width="51.50" height="4.84" fill="#fb9a99" stroke="#000" stroke-width="1.00"/>
<rect x="325.20" y="121.61" width="51.50" height="4.20" fill="#e31a1c" stroke="#000" stroke-width="1.00"/>
<rect x="325.20" y="125.81" width="51.50" height="6.94" fill="#fdbf6f" stroke="#000" stroke-width="1.00"/>
<rect x="325.20" y="132.75" width="51.50" height="3.78" fill="#ff7f00" stroke="#000" stroke-width="1.00"/>
<rect x="325.20" y="136.53" width="51.50" height="10.09" fill="#cab2d6" stroke="#000" stroke-width="1.00"/>
<rect x="325.20" y="146.63" width="51.50" height="104.49" fill="#6a6a6a" stroke="#000" stroke-width="1.00"/>
<rect x="325.20" y="251.12" width="51.50" height="50.88" fill="#ffffff" stroke="#000" stroke-width="1.00"/>
<rect x="453.20" y="32.25" width="51.50" height="14.93" fill="#a6cee3" stroke="#000" stroke-width="1.00"/>
<rect x="453.20" y="47.18" width="51.50" height="6.94" fill="#1f78b4" stroke="#000" stroke-width="1.00"/>
<rect x="453.20" y="54.12" width="51.50" height="4.20" fill="#b2df8a" stroke="#000" stroke-width="1.00"/>
<rect x="453.20" y="58.32" width="51.50" height="6.10" fill="#33a02c" stroke="#000" stroke-width="1.00"/>
<rect x="453.20" y="64.42" width="51.50" height="2.73" fill="#fb9a99" stroke="#000" stroke-width="1.00"/>
<rect x="453.20" y="67.15" width="51.50" height="3.36" fill="#e31a1c" stroke="#000" stroke-width="1.00"/>
<rect x="453.20" y="70.51" width="51.50" height="2.10" fill="#fdbf6f" stroke="#000" stroke-width="1.00"/>
<rect x="453.20" y="72.62" width="51.50" height="3.15" fill="#ff7f00" stroke="#000" stroke-width="1.00"/>
<rect x="453.20" y="75.77" width="51.50" height="3.99" fill="#cab2d6" stroke="#000" stroke-width="1.00"/>
<rect x="453.20" y="79.77" width="51.50" height="148.23" fill="#6a6a6a" stroke="#000" stroke-width="1.00"/>
<rect x="453.20" y="227.99" width="51.50" height="74.01" fill="#ffffff" stroke="#000" stroke-width="1.00"/>
<rect x="0.5" y="0.5" width="519" height="472" fill="none" stroke="#333" stroke-width="1"/>
<text x="162.0" y="19.9" font-size="12.2" textLength="243.5" lengthAdjust="spacingAndGlyphs">Treatments Received by Line of Therapy (LOT)</text>
<g stroke="#000" stroke-width="1.2" fill="none">
<path d="M58.6,32.3 V308.8 H510.5"/>
<path d="M54.4,302 H58.6 M54.4,217.9 H58.6 M54.4,133.8 H58.6 M54.4,49.7 H58.6"/>
<path d="M94.95,308.8 V312.8 M222.95,308.8 V312.8 M350.95,308.8 V312.8 M478.95,308.8 V312.8"/>
</g>
<g font-size="9.9" text-anchor="end" style="stroke-width:0.12px">
<text x="50.2" y="305.0">0</text>
<text x="50.2" y="220.9">400</text>
<text x="50.2" y="136.8">800</text>
<text x="50.2" y="52.7">1200</text>
</g>
<g font-size="10.6" text-anchor="middle" style="stroke-width:0.15px">
<text transform="translate(94.0,325.8) scale(0.81,1)">Line 1</text>
<text transform="translate(222.0,325.8) scale(0.81,1)">Line 2</text>
<text transform="translate(350.0,325.8) scale(0.81,1)">Line 3</text>
<text transform="translate(478.0,325.8) scale(0.81,1)">Line 4</text>
</g>
<text transform="translate(258.3,342.7) scale(0.765,1)" font-size="11.3">Line of therapy</text>
<text transform="translate(20.9,206.8) rotate(-90) scale(0.8,1)" font-size="10.8">Number of patients</text>
<text transform="translate(106.9,367.6) scale(0.94,1)" font-size="8.8">Treatment</text>
<g stroke="#111" stroke-width="1.2">
<rect x="159.1" y="358.9" width="12.2" height="12" fill="#a6cee3"/>
<rect x="159.1" y="374.9" width="12.2" height="12" fill="#1f78b4"/>
<rect x="159.1" y="390.9" width="12.2" height="12" fill="#b2df8a"/>
<rect x="159.1" y="418.1" width="12.2" height="12" fill="#fdbf6f"/>
<rect x="159.1" y="434.1" width="12.2" height="12" fill="#ff7f00"/>
<rect x="159.1" y="450.1" width="12.2" height="12" fill="#cab2d6"/>
<rect x="345.3" y="358.9" width="12.2" height="12" fill="#33a02c"/>
<rect x="345.3" y="374.9" width="12.2" height="12" fill="#fb9a99"/>
<rect x="345.3" y="390.9" width="12.2" height="12" fill="#e31a1c"/>
<rect x="345.3" y="418.1" width="12.2" height="12" fill="#6a6a6a"/>
<rect x="345.3" y="434.1" width="12.2" height="12" fill="#ffffff"/>
</g>
<g font-size="9.4" lengthAdjust="spacingAndGlyphs">
<text x="176.5" y="367.8" textLength="20.4">BTKi</text>
<text x="176.5" y="383.8" textLength="147.5">Chemotherapy +/– CD20 +/– Other</text>
<text x="176.5" y="399.8" textLength="25.6">CD20</text>
<text x="176.5" y="427" textLength="58.8">BCL2 Inhibitor</text>
<text x="176.5" y="443" textLength="83.5">CD20, PI3K Inhibitor</text>
<text x="176.5" y="459.1" textLength="118.4">Other Treatment Combination</text>
<text x="363.3" y="367.8" textLength="88.5">BCL2 Inhibitor, CD20</text>
<text x="363.3" y="383.8" textLength="103.2">Investigational – Regimen</text>
<text x="363.3" y="399.8" textLength="50.1">BTKi, CD20</text>
<text x="363.3" y="427" textLength="69.0">LOT Not Initiated</text>
<text x="363.3" y="443" textLength="50.1">Patient Died</text>
</g>
</svg>
</body></html>
